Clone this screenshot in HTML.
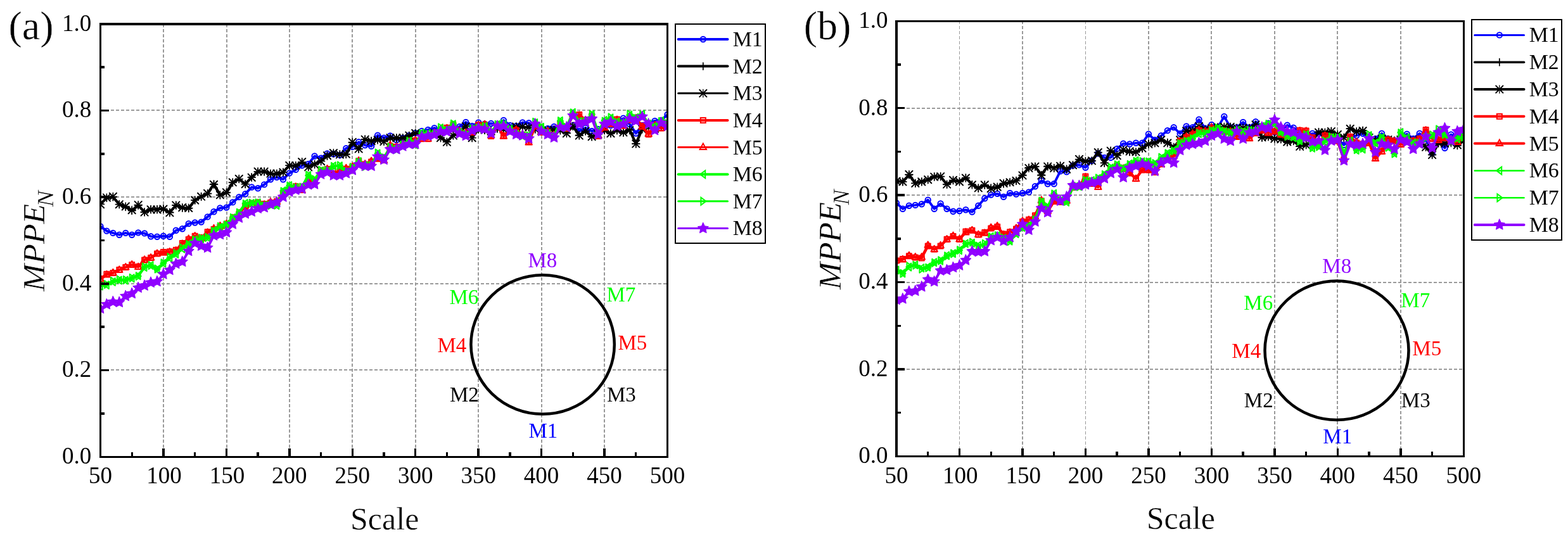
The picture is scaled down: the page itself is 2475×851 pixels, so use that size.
<!DOCTYPE html>
<html><head><meta charset="utf-8"><title>MPPE vs Scale</title>
<style>
html,body{margin:0;padding:0;background:#fff;}
body{width:2475px;height:851px;overflow:hidden;}
svg{display:block;font-family:"Liberation Serif",serif;fill:#000;}
text.t{stroke:#fff;stroke-width:0.4px;stroke-linejoin:round;}
</style></head><body>
<svg width="2475" height="851" viewBox="0 0 2475 851">
<rect width="2475" height="851" fill="#fff"/>
<g stroke="#9a9a9a" stroke-dasharray="5 3" fill="none" shape-rendering="crispEdges"><line x1="258" y1="37.8" x2="258" y2="721.2" stroke-width="2"/><line x1="358" y1="37.8" x2="358" y2="721.2" stroke-width="2"/><line x1="457" y1="37.8" x2="457" y2="721.2" stroke-width="2"/><line x1="556" y1="37.8" x2="556" y2="721.2" stroke-width="2"/><line x1="656" y1="37.8" x2="656" y2="721.2" stroke-width="2"/><line x1="755" y1="37.8" x2="755" y2="721.2" stroke-width="2"/><line x1="855" y1="37.8" x2="855" y2="721.2" stroke-width="2"/><line x1="954" y1="37.8" x2="954" y2="721.2" stroke-width="2"/><line x1="158.5" y1="584" x2="1053.5" y2="584" stroke-width="2"/><line x1="158.5" y1="448" x2="1053.5" y2="448" stroke-width="2"/><line x1="158.5" y1="311" x2="1053.5" y2="311" stroke-width="2"/><line x1="158.5" y1="174" x2="1053.5" y2="174" stroke-width="2"/></g>
<ellipse cx="856.6" cy="544" rx="113.2" ry="109.8" fill="none" stroke="#000" stroke-width="4.5"/>
<g font-size="33">
<text x="833.5" y="421.5" fill="#9000ff">M8</text>
<text x="709.5" y="479.5" fill="#00ff00">M6</text>
<text x="957.5" y="476" fill="#00ff00">M7</text>
<text x="690.5" y="556" fill="#ff0000">M4</text>
<text x="975.5" y="552" fill="#ff0000">M5</text>
<text x="710" y="634" fill="#000000">M2</text>
<text x="958" y="634" fill="#000000">M3</text>
<text x="834.5" y="691" fill="#0000ff">M1</text>
</g>
<clipPath id="clipa"><rect x="160" y="40" width="892" height="680"/></clipPath>
<g clip-path="url(#clipa)" stroke-linejoin="round" stroke-linecap="round">
<path d="M158.5 357.5L168.4 364.6L178.4 367.9L188.3 370.7L198.3 367.9L208.2 370.7L218.2 367.4L228.1 368.4L238.1 373.3L248.0 373.7L257.9 372.8L267.9 373.7L277.8 363.8L287.8 361.3L297.7 353.1L307.7 351.5L317.6 350.6L327.6 342.4L337.5 334.2L347.4 328.4L357.4 327.6L367.3 319.4L377.3 311.1L387.2 306.2L397.2 295.5L407.1 297.2L417.1 291.4L427.0 283.2L436.9 279.9L446.9 283.2L456.8 273.4L466.8 267.9L476.7 261.3L486.7 259.0L496.6 246.5L506.6 249.8L516.5 242.4L526.4 243.2L536.4 244.9L546.3 234.2L556.3 231.7L566.2 224.3L576.2 229.2L586.1 230.9L596.1 213.6L606.0 217.7L615.9 214.4L625.9 221.0L635.8 218.0L645.8 214.0L655.7 210.0L665.7 207.0L675.6 205.0L685.6 202.1L695.5 205.0L705.4 206.0L715.4 203.0L725.3 200.0L735.3 193.0L745.2 199.0L755.2 193.4L765.1 195.8L775.1 195.0L785.0 198.0L794.9 190.0L804.9 198.0L814.8 199.0L824.8 193.4L834.7 194.2L844.7 201.0L854.6 203.0L864.6 203.0L874.5 200.0L884.4 203.0L894.4 201.0L904.3 198.0L914.3 207.0L924.2 202.0L934.2 207.0L944.1 204.0L954.1 200.0L964.0 198.0L973.9 195.0L983.9 186.8L993.8 196.0L1003.8 210.6L1013.7 198.0L1023.7 195.0L1033.6 190.9L1043.6 190.0L1053.5 181.0" fill="none" stroke="#0000ff" stroke-width="4"/>
<circle cx="158.5" cy="357.5" r="4.2" fill="none" stroke="#0000ff" stroke-width="2"/><circle cx="168.4" cy="364.6" r="4.2" fill="none" stroke="#0000ff" stroke-width="2"/><circle cx="178.4" cy="367.9" r="4.2" fill="none" stroke="#0000ff" stroke-width="2"/><circle cx="188.3" cy="370.7" r="4.2" fill="none" stroke="#0000ff" stroke-width="2"/><circle cx="198.3" cy="367.9" r="4.2" fill="none" stroke="#0000ff" stroke-width="2"/><circle cx="208.2" cy="370.7" r="4.2" fill="none" stroke="#0000ff" stroke-width="2"/><circle cx="218.2" cy="367.4" r="4.2" fill="none" stroke="#0000ff" stroke-width="2"/><circle cx="228.1" cy="368.4" r="4.2" fill="none" stroke="#0000ff" stroke-width="2"/><circle cx="238.1" cy="373.3" r="4.2" fill="none" stroke="#0000ff" stroke-width="2"/><circle cx="248.0" cy="373.7" r="4.2" fill="none" stroke="#0000ff" stroke-width="2"/><circle cx="257.9" cy="372.8" r="4.2" fill="none" stroke="#0000ff" stroke-width="2"/><circle cx="267.9" cy="373.7" r="4.2" fill="none" stroke="#0000ff" stroke-width="2"/><circle cx="277.8" cy="363.8" r="4.2" fill="none" stroke="#0000ff" stroke-width="2"/><circle cx="287.8" cy="361.3" r="4.2" fill="none" stroke="#0000ff" stroke-width="2"/><circle cx="297.7" cy="353.1" r="4.2" fill="none" stroke="#0000ff" stroke-width="2"/><circle cx="307.7" cy="351.5" r="4.2" fill="none" stroke="#0000ff" stroke-width="2"/><circle cx="317.6" cy="350.6" r="4.2" fill="none" stroke="#0000ff" stroke-width="2"/><circle cx="327.6" cy="342.4" r="4.2" fill="none" stroke="#0000ff" stroke-width="2"/><circle cx="337.5" cy="334.2" r="4.2" fill="none" stroke="#0000ff" stroke-width="2"/><circle cx="347.4" cy="328.4" r="4.2" fill="none" stroke="#0000ff" stroke-width="2"/><circle cx="357.4" cy="327.6" r="4.2" fill="none" stroke="#0000ff" stroke-width="2"/><circle cx="367.3" cy="319.4" r="4.2" fill="none" stroke="#0000ff" stroke-width="2"/><circle cx="377.3" cy="311.1" r="4.2" fill="none" stroke="#0000ff" stroke-width="2"/><circle cx="387.2" cy="306.2" r="4.2" fill="none" stroke="#0000ff" stroke-width="2"/><circle cx="397.2" cy="295.5" r="4.2" fill="none" stroke="#0000ff" stroke-width="2"/><circle cx="407.1" cy="297.2" r="4.2" fill="none" stroke="#0000ff" stroke-width="2"/><circle cx="417.1" cy="291.4" r="4.2" fill="none" stroke="#0000ff" stroke-width="2"/><circle cx="427.0" cy="283.2" r="4.2" fill="none" stroke="#0000ff" stroke-width="2"/><circle cx="436.9" cy="279.9" r="4.2" fill="none" stroke="#0000ff" stroke-width="2"/><circle cx="446.9" cy="283.2" r="4.2" fill="none" stroke="#0000ff" stroke-width="2"/><circle cx="456.8" cy="273.4" r="4.2" fill="none" stroke="#0000ff" stroke-width="2"/><circle cx="466.8" cy="267.9" r="4.2" fill="none" stroke="#0000ff" stroke-width="2"/><circle cx="476.7" cy="261.3" r="4.2" fill="none" stroke="#0000ff" stroke-width="2"/><circle cx="486.7" cy="259" r="4.2" fill="none" stroke="#0000ff" stroke-width="2"/><circle cx="496.6" cy="246.5" r="4.2" fill="none" stroke="#0000ff" stroke-width="2"/><circle cx="506.6" cy="249.8" r="4.2" fill="none" stroke="#0000ff" stroke-width="2"/><circle cx="516.5" cy="242.4" r="4.2" fill="none" stroke="#0000ff" stroke-width="2"/><circle cx="526.4" cy="243.2" r="4.2" fill="none" stroke="#0000ff" stroke-width="2"/><circle cx="536.4" cy="244.9" r="4.2" fill="none" stroke="#0000ff" stroke-width="2"/><circle cx="546.3" cy="234.2" r="4.2" fill="none" stroke="#0000ff" stroke-width="2"/><circle cx="556.3" cy="231.7" r="4.2" fill="none" stroke="#0000ff" stroke-width="2"/><circle cx="566.2" cy="224.3" r="4.2" fill="none" stroke="#0000ff" stroke-width="2"/><circle cx="576.2" cy="229.2" r="4.2" fill="none" stroke="#0000ff" stroke-width="2"/><circle cx="586.1" cy="230.9" r="4.2" fill="none" stroke="#0000ff" stroke-width="2"/><circle cx="596.1" cy="213.6" r="4.2" fill="none" stroke="#0000ff" stroke-width="2"/><circle cx="606.0" cy="217.7" r="4.2" fill="none" stroke="#0000ff" stroke-width="2"/><circle cx="615.9" cy="214.4" r="4.2" fill="none" stroke="#0000ff" stroke-width="2"/><circle cx="625.9" cy="221" r="4.2" fill="none" stroke="#0000ff" stroke-width="2"/><circle cx="635.8" cy="218" r="4.2" fill="none" stroke="#0000ff" stroke-width="2"/><circle cx="645.8" cy="214" r="4.2" fill="none" stroke="#0000ff" stroke-width="2"/><circle cx="655.7" cy="210" r="4.2" fill="none" stroke="#0000ff" stroke-width="2"/><circle cx="665.7" cy="207" r="4.2" fill="none" stroke="#0000ff" stroke-width="2"/><circle cx="675.6" cy="205" r="4.2" fill="none" stroke="#0000ff" stroke-width="2"/><circle cx="685.6" cy="202.1" r="4.2" fill="none" stroke="#0000ff" stroke-width="2"/><circle cx="695.5" cy="205" r="4.2" fill="none" stroke="#0000ff" stroke-width="2"/><circle cx="705.4" cy="206" r="4.2" fill="none" stroke="#0000ff" stroke-width="2"/><circle cx="715.4" cy="203" r="4.2" fill="none" stroke="#0000ff" stroke-width="2"/><circle cx="725.3" cy="200" r="4.2" fill="none" stroke="#0000ff" stroke-width="2"/><circle cx="735.3" cy="193" r="4.2" fill="none" stroke="#0000ff" stroke-width="2"/><circle cx="745.2" cy="199" r="4.2" fill="none" stroke="#0000ff" stroke-width="2"/><circle cx="755.2" cy="193.4" r="4.2" fill="none" stroke="#0000ff" stroke-width="2"/><circle cx="765.1" cy="195.8" r="4.2" fill="none" stroke="#0000ff" stroke-width="2"/><circle cx="775.1" cy="195" r="4.2" fill="none" stroke="#0000ff" stroke-width="2"/><circle cx="785.0" cy="198" r="4.2" fill="none" stroke="#0000ff" stroke-width="2"/><circle cx="794.9" cy="190" r="4.2" fill="none" stroke="#0000ff" stroke-width="2"/><circle cx="804.9" cy="198" r="4.2" fill="none" stroke="#0000ff" stroke-width="2"/><circle cx="814.8" cy="199" r="4.2" fill="none" stroke="#0000ff" stroke-width="2"/><circle cx="824.8" cy="193.4" r="4.2" fill="none" stroke="#0000ff" stroke-width="2"/><circle cx="834.7" cy="194.2" r="4.2" fill="none" stroke="#0000ff" stroke-width="2"/><circle cx="844.7" cy="201" r="4.2" fill="none" stroke="#0000ff" stroke-width="2"/><circle cx="854.6" cy="203" r="4.2" fill="none" stroke="#0000ff" stroke-width="2"/><circle cx="864.6" cy="203" r="4.2" fill="none" stroke="#0000ff" stroke-width="2"/><circle cx="874.5" cy="200" r="4.2" fill="none" stroke="#0000ff" stroke-width="2"/><circle cx="884.4" cy="203" r="4.2" fill="none" stroke="#0000ff" stroke-width="2"/><circle cx="894.4" cy="201" r="4.2" fill="none" stroke="#0000ff" stroke-width="2"/><circle cx="904.3" cy="198" r="4.2" fill="none" stroke="#0000ff" stroke-width="2"/><circle cx="914.3" cy="207" r="4.2" fill="none" stroke="#0000ff" stroke-width="2"/><circle cx="924.2" cy="202" r="4.2" fill="none" stroke="#0000ff" stroke-width="2"/><circle cx="934.2" cy="207" r="4.2" fill="none" stroke="#0000ff" stroke-width="2"/><circle cx="944.1" cy="204" r="4.2" fill="none" stroke="#0000ff" stroke-width="2"/><circle cx="954.1" cy="200" r="4.2" fill="none" stroke="#0000ff" stroke-width="2"/><circle cx="964.0" cy="198" r="4.2" fill="none" stroke="#0000ff" stroke-width="2"/><circle cx="973.9" cy="195" r="4.2" fill="none" stroke="#0000ff" stroke-width="2"/><circle cx="983.9" cy="186.8" r="4.2" fill="none" stroke="#0000ff" stroke-width="2"/><circle cx="993.8" cy="196" r="4.2" fill="none" stroke="#0000ff" stroke-width="2"/><circle cx="1003.8" cy="210.6" r="4.2" fill="none" stroke="#0000ff" stroke-width="2"/><circle cx="1013.7" cy="198" r="4.2" fill="none" stroke="#0000ff" stroke-width="2"/><circle cx="1023.7" cy="195" r="4.2" fill="none" stroke="#0000ff" stroke-width="2"/><circle cx="1033.6" cy="190.9" r="4.2" fill="none" stroke="#0000ff" stroke-width="2"/><circle cx="1043.6" cy="190" r="4.2" fill="none" stroke="#0000ff" stroke-width="2"/><circle cx="1053.5" cy="181" r="4.2" fill="none" stroke="#0000ff" stroke-width="2"/>
<path d="M158.5 322.2L168.4 312.4L178.4 311.2L188.3 322.6L198.3 326.8L208.2 332.7L218.2 324.4L228.1 334.7L238.1 330.3L248.0 330.4L257.9 329.5L267.9 335.2L277.8 324.2L287.8 328.4L297.7 329.1L307.7 316.1L317.6 310.6L327.6 306.0L337.5 290.6L347.4 308.1L357.4 304.5L367.3 288.4L377.3 282.8L387.2 290.6L397.2 279.6L407.1 271.4L417.1 270.7L427.0 274.6L436.9 274.9L446.9 271.8L456.8 261.1L466.8 262.2L476.7 256.0L486.7 263.1L496.6 259.0L506.6 254.0L516.5 246.5L526.4 242.2L536.4 243.3L546.3 243.9L556.3 225.3L566.2 235.3L576.2 219.9L586.1 222.8L596.1 220.3L606.0 222.5L615.9 218.6L625.9 218.0L635.8 217.8L645.8 214.9L655.7 210.2L665.7 213.7L675.6 212.7L685.6 209.4L695.5 217.2L705.4 223.9L715.4 213.5L725.3 208.2L735.3 199.1L745.2 217.5L755.2 203.3L765.1 205.8L775.1 206.7L785.0 202.9L794.9 204.2L804.9 203.8L814.8 199.8L824.8 200.8L834.7 201.0L844.7 204.1L854.6 206.0L864.6 205.0L874.5 204.9L884.4 205.4L894.4 209.6L904.3 199.6L914.3 213.3L924.2 206.9L934.2 216.1L944.1 212.1L954.1 205.4L964.0 210.6L973.9 205.8L983.9 209.6L993.8 204.9L1003.8 227.1L1013.7 203.5L1023.7 200.6L1033.6 203.5L1043.6 200.0L1053.5 196.1" fill="none" stroke="#000000" stroke-width="4.2"/>
<path d="M153.0 322.2H164.0M158.5 316.7V327.7" stroke="#000000" stroke-width="1.7" fill="none"/><path d="M162.9 312.4H173.9M168.4 306.9V317.9" stroke="#000000" stroke-width="1.7" fill="none"/><path d="M172.9 311.2H183.9M178.4 305.7V316.7" stroke="#000000" stroke-width="1.7" fill="none"/><path d="M182.8 322.6H193.8M188.3 317.1V328.1" stroke="#000000" stroke-width="1.7" fill="none"/><path d="M192.8 326.8H203.8M198.3 321.3V332.3" stroke="#000000" stroke-width="1.7" fill="none"/><path d="M202.7 332.7H213.7M208.2 327.2V338.2" stroke="#000000" stroke-width="1.7" fill="none"/><path d="M212.7 324.4H223.7M218.2 318.9V329.9" stroke="#000000" stroke-width="1.7" fill="none"/><path d="M222.6 334.7H233.6M228.1 329.2V340.2" stroke="#000000" stroke-width="1.7" fill="none"/><path d="M232.6 330.3H243.6M238.1 324.8V335.8" stroke="#000000" stroke-width="1.7" fill="none"/><path d="M242.5 330.4H253.5M248.0 324.9V335.9" stroke="#000000" stroke-width="1.7" fill="none"/><path d="M252.4 329.5H263.4M257.9 324.0V335.0" stroke="#000000" stroke-width="1.7" fill="none"/><path d="M262.4 335.2H273.4M267.9 329.7V340.7" stroke="#000000" stroke-width="1.7" fill="none"/><path d="M272.3 324.2H283.3M277.8 318.7V329.7" stroke="#000000" stroke-width="1.7" fill="none"/><path d="M282.3 328.4H293.3M287.8 322.9V333.9" stroke="#000000" stroke-width="1.7" fill="none"/><path d="M292.2 329.1H303.2M297.7 323.6V334.6" stroke="#000000" stroke-width="1.7" fill="none"/><path d="M302.2 316.1H313.2M307.7 310.6V321.6" stroke="#000000" stroke-width="1.7" fill="none"/><path d="M312.1 310.6H323.1M317.6 305.1V316.1" stroke="#000000" stroke-width="1.7" fill="none"/><path d="M322.1 306.0H333.1M327.6 300.5V311.5" stroke="#000000" stroke-width="1.7" fill="none"/><path d="M332.0 290.6H343.0M337.5 285.1V296.1" stroke="#000000" stroke-width="1.7" fill="none"/><path d="M341.9 308.1H352.9M347.4 302.6V313.6" stroke="#000000" stroke-width="1.7" fill="none"/><path d="M351.9 304.5H362.9M357.4 299.0V310.0" stroke="#000000" stroke-width="1.7" fill="none"/><path d="M361.8 288.4H372.8M367.3 282.9V293.9" stroke="#000000" stroke-width="1.7" fill="none"/><path d="M371.8 282.8H382.8M377.3 277.3V288.3" stroke="#000000" stroke-width="1.7" fill="none"/><path d="M381.7 290.6H392.7M387.2 285.1V296.1" stroke="#000000" stroke-width="1.7" fill="none"/><path d="M391.7 279.6H402.7M397.2 274.1V285.1" stroke="#000000" stroke-width="1.7" fill="none"/><path d="M401.6 271.4H412.6M407.1 265.9V276.9" stroke="#000000" stroke-width="1.7" fill="none"/><path d="M411.6 270.7H422.6M417.1 265.2V276.2" stroke="#000000" stroke-width="1.7" fill="none"/><path d="M421.5 274.6H432.5M427.0 269.1V280.1" stroke="#000000" stroke-width="1.7" fill="none"/><path d="M431.4 274.9H442.4M436.9 269.4V280.4" stroke="#000000" stroke-width="1.7" fill="none"/><path d="M441.4 271.8H452.4M446.9 266.3V277.3" stroke="#000000" stroke-width="1.7" fill="none"/><path d="M451.3 261.1H462.3M456.8 255.6V266.6" stroke="#000000" stroke-width="1.7" fill="none"/><path d="M461.3 262.2H472.3M466.8 256.7V267.7" stroke="#000000" stroke-width="1.7" fill="none"/><path d="M471.2 256.0H482.2M476.7 250.5V261.5" stroke="#000000" stroke-width="1.7" fill="none"/><path d="M481.2 263.1H492.2M486.7 257.6V268.6" stroke="#000000" stroke-width="1.7" fill="none"/><path d="M491.1 259.0H502.1M496.6 253.5V264.5" stroke="#000000" stroke-width="1.7" fill="none"/><path d="M501.1 254.0H512.1M506.6 248.5V259.5" stroke="#000000" stroke-width="1.7" fill="none"/><path d="M511.0 246.5H522.0M516.5 241.0V252.0" stroke="#000000" stroke-width="1.7" fill="none"/><path d="M520.9 242.2H531.9M526.4 236.7V247.7" stroke="#000000" stroke-width="1.7" fill="none"/><path d="M530.9 243.3H541.9M536.4 237.8V248.8" stroke="#000000" stroke-width="1.7" fill="none"/><path d="M540.8 243.9H551.8M546.3 238.4V249.4" stroke="#000000" stroke-width="1.7" fill="none"/><path d="M550.8 225.3H561.8M556.3 219.8V230.8" stroke="#000000" stroke-width="1.7" fill="none"/><path d="M560.7 235.3H571.7M566.2 229.8V240.8" stroke="#000000" stroke-width="1.7" fill="none"/><path d="M570.7 219.9H581.7M576.2 214.4V225.4" stroke="#000000" stroke-width="1.7" fill="none"/><path d="M580.6 222.8H591.6M586.1 217.3V228.3" stroke="#000000" stroke-width="1.7" fill="none"/><path d="M590.6 220.3H601.6M596.1 214.8V225.8" stroke="#000000" stroke-width="1.7" fill="none"/><path d="M600.5 222.5H611.5M606.0 217.0V228.0" stroke="#000000" stroke-width="1.7" fill="none"/><path d="M610.4 218.6H621.4M615.9 213.1V224.1" stroke="#000000" stroke-width="1.7" fill="none"/><path d="M620.4 218.0H631.4M625.9 212.5V223.5" stroke="#000000" stroke-width="1.7" fill="none"/><path d="M630.3 217.8H641.3M635.8 212.3V223.3" stroke="#000000" stroke-width="1.7" fill="none"/><path d="M640.3 214.9H651.3M645.8 209.4V220.4" stroke="#000000" stroke-width="1.7" fill="none"/><path d="M650.2 210.2H661.2M655.7 204.7V215.7" stroke="#000000" stroke-width="1.7" fill="none"/><path d="M660.2 213.7H671.2M665.7 208.2V219.2" stroke="#000000" stroke-width="1.7" fill="none"/><path d="M670.1 212.7H681.1M675.6 207.2V218.2" stroke="#000000" stroke-width="1.7" fill="none"/><path d="M680.1 209.4H691.1M685.6 203.9V214.9" stroke="#000000" stroke-width="1.7" fill="none"/><path d="M690.0 217.2H701.0M695.5 211.7V222.7" stroke="#000000" stroke-width="1.7" fill="none"/><path d="M699.9 223.9H710.9M705.4 218.4V229.4" stroke="#000000" stroke-width="1.7" fill="none"/><path d="M709.9 213.5H720.9M715.4 208.0V219.0" stroke="#000000" stroke-width="1.7" fill="none"/><path d="M719.8 208.2H730.8M725.3 202.7V213.7" stroke="#000000" stroke-width="1.7" fill="none"/><path d="M729.8 199.1H740.8M735.3 193.6V204.6" stroke="#000000" stroke-width="1.7" fill="none"/><path d="M739.7 217.5H750.7M745.2 212.0V223.0" stroke="#000000" stroke-width="1.7" fill="none"/><path d="M749.7 203.3H760.7M755.2 197.8V208.8" stroke="#000000" stroke-width="1.7" fill="none"/><path d="M759.6 205.8H770.6M765.1 200.3V211.3" stroke="#000000" stroke-width="1.7" fill="none"/><path d="M769.6 206.7H780.6M775.1 201.2V212.2" stroke="#000000" stroke-width="1.7" fill="none"/><path d="M779.5 202.9H790.5M785.0 197.4V208.4" stroke="#000000" stroke-width="1.7" fill="none"/><path d="M789.4 204.2H800.4M794.9 198.7V209.7" stroke="#000000" stroke-width="1.7" fill="none"/><path d="M799.4 203.8H810.4M804.9 198.3V209.3" stroke="#000000" stroke-width="1.7" fill="none"/><path d="M809.3 199.8H820.3M814.8 194.3V205.3" stroke="#000000" stroke-width="1.7" fill="none"/><path d="M819.3 200.8H830.3M824.8 195.3V206.3" stroke="#000000" stroke-width="1.7" fill="none"/><path d="M829.2 201.0H840.2M834.7 195.5V206.5" stroke="#000000" stroke-width="1.7" fill="none"/><path d="M839.2 204.1H850.2M844.7 198.6V209.6" stroke="#000000" stroke-width="1.7" fill="none"/><path d="M849.1 206.0H860.1M854.6 200.5V211.5" stroke="#000000" stroke-width="1.7" fill="none"/><path d="M859.1 205.0H870.1M864.6 199.5V210.5" stroke="#000000" stroke-width="1.7" fill="none"/><path d="M869.0 204.9H880.0M874.5 199.4V210.4" stroke="#000000" stroke-width="1.7" fill="none"/><path d="M878.9 205.4H889.9M884.4 199.9V210.9" stroke="#000000" stroke-width="1.7" fill="none"/><path d="M888.9 209.6H899.9M894.4 204.1V215.1" stroke="#000000" stroke-width="1.7" fill="none"/><path d="M898.8 199.6H909.8M904.3 194.1V205.1" stroke="#000000" stroke-width="1.7" fill="none"/><path d="M908.8 213.3H919.8M914.3 207.8V218.8" stroke="#000000" stroke-width="1.7" fill="none"/><path d="M918.7 206.9H929.7M924.2 201.4V212.4" stroke="#000000" stroke-width="1.7" fill="none"/><path d="M928.7 216.1H939.7M934.2 210.6V221.6" stroke="#000000" stroke-width="1.7" fill="none"/><path d="M938.6 212.1H949.6M944.1 206.6V217.6" stroke="#000000" stroke-width="1.7" fill="none"/><path d="M948.6 205.4H959.6M954.1 199.9V210.9" stroke="#000000" stroke-width="1.7" fill="none"/><path d="M958.5 210.6H969.5M964.0 205.1V216.1" stroke="#000000" stroke-width="1.7" fill="none"/><path d="M968.4 205.8H979.4M973.9 200.3V211.3" stroke="#000000" stroke-width="1.7" fill="none"/><path d="M978.4 209.6H989.4M983.9 204.1V215.1" stroke="#000000" stroke-width="1.7" fill="none"/><path d="M988.3 204.9H999.3M993.8 199.4V210.4" stroke="#000000" stroke-width="1.7" fill="none"/><path d="M998.3 227.1H1009.3M1003.8 221.6V232.6" stroke="#000000" stroke-width="1.7" fill="none"/><path d="M1008.2 203.5H1019.2M1013.7 198.0V209.0" stroke="#000000" stroke-width="1.7" fill="none"/><path d="M1018.2 200.6H1029.2M1023.7 195.1V206.1" stroke="#000000" stroke-width="1.7" fill="none"/><path d="M1028.1 203.5H1039.1M1033.6 198.0V209.0" stroke="#000000" stroke-width="1.7" fill="none"/><path d="M1038.1 200.0H1049.1M1043.6 194.5V205.5" stroke="#000000" stroke-width="1.7" fill="none"/><path d="M1048.0 196.1H1059.0M1053.5 190.6V201.6" stroke="#000000" stroke-width="1.7" fill="none"/>
<path d="M158.5 322.7L168.4 312.0L178.4 310.3L188.3 322.7L198.3 325.9L208.2 331.7L218.2 323.5L228.1 335.0L238.1 330.9L248.0 330.9L257.9 330.1L267.9 335.8L277.8 324.0L287.8 327.6L297.7 328.4L307.7 316.1L317.6 310.3L327.6 305.4L337.5 291.4L347.4 307.8L357.4 303.7L367.3 287.8L377.3 282.3L387.2 290.6L397.2 280.2L407.1 270.8L417.1 271.0L427.0 274.0L436.9 274.0L446.9 272.0L456.8 261.3L466.8 261.3L476.7 255.6L486.7 263.8L496.6 259.7L506.6 254.7L516.5 245.7L526.4 241.6L536.4 244.0L546.3 243.2L556.3 224.3L566.2 235.0L576.2 220.2L586.1 222.7L596.1 221.0L606.0 223.5L615.9 217.7L625.9 217.7L635.8 217.7L645.8 214.0L655.7 210.3L665.7 213.0L675.6 212.0L685.6 210.0L695.5 217.7L705.4 224.3L715.4 214.0L725.3 208.0L735.3 199.6L745.2 217.7L755.2 204.0L765.1 205.0L775.1 207.0L785.0 203.0L794.9 204.0L804.9 203.0L814.8 200.0L824.8 200.0L834.7 201.0L844.7 204.0L854.6 206.0L864.6 206.0L874.5 205.0L884.4 206.0L894.4 210.6L904.3 199.0L914.3 214.0L924.2 207.0L934.2 215.6L944.1 212.0L954.1 205.7L964.0 210.6L973.9 205.7L983.9 209.0L993.8 205.7L1003.8 227.0L1013.7 204.0L1023.7 201.0L1033.6 203.0L1043.6 200.0L1053.5 196.0" fill="none" stroke="#000000" stroke-width="3"/>
<path d="M152.3 322.7H164.7M158.5 316.5V328.9" stroke="#000000" stroke-width="1.3" fill="none"/><path d="M152.9 317.1L164.1 328.3M152.9 328.3L164.1 317.1" stroke="#000000" stroke-width="2" fill="none"/><path d="M162.2 312H174.6M168.4 305.8V318.2" stroke="#000000" stroke-width="1.3" fill="none"/><path d="M162.8 306.4L174.0 317.6M162.8 317.6L174.0 306.4" stroke="#000000" stroke-width="2" fill="none"/><path d="M172.2 310.3H184.6M178.4 304.1V316.5" stroke="#000000" stroke-width="1.3" fill="none"/><path d="M172.8 304.7L184.0 315.9M172.8 315.9L184.0 304.7" stroke="#000000" stroke-width="2" fill="none"/><path d="M182.1 322.7H194.5M188.3 316.5V328.9" stroke="#000000" stroke-width="1.3" fill="none"/><path d="M182.7 317.1L193.9 328.3M182.7 328.3L193.9 317.1" stroke="#000000" stroke-width="2" fill="none"/><path d="M192.1 325.9H204.5M198.3 319.7V332.1" stroke="#000000" stroke-width="1.3" fill="none"/><path d="M192.7 320.3L203.9 331.5M192.7 331.5L203.9 320.3" stroke="#000000" stroke-width="2" fill="none"/><path d="M202.0 331.7H214.4M208.2 325.5V337.9" stroke="#000000" stroke-width="1.3" fill="none"/><path d="M202.6 326.1L213.8 337.3M202.6 337.3L213.8 326.1" stroke="#000000" stroke-width="2" fill="none"/><path d="M212.0 323.5H224.4M218.2 317.3V329.7" stroke="#000000" stroke-width="1.3" fill="none"/><path d="M212.6 317.9L223.8 329.1M212.6 329.1L223.8 317.9" stroke="#000000" stroke-width="2" fill="none"/><path d="M221.9 335H234.3M228.1 328.8V341.2" stroke="#000000" stroke-width="1.3" fill="none"/><path d="M222.5 329.4L233.7 340.6M222.5 340.6L233.7 329.4" stroke="#000000" stroke-width="2" fill="none"/><path d="M231.9 330.9H244.3M238.1 324.7V337.1" stroke="#000000" stroke-width="1.3" fill="none"/><path d="M232.5 325.3L243.7 336.5M232.5 336.5L243.7 325.3" stroke="#000000" stroke-width="2" fill="none"/><path d="M241.8 330.9H254.2M248.0 324.7V337.1" stroke="#000000" stroke-width="1.3" fill="none"/><path d="M242.4 325.3L253.6 336.5M242.4 336.5L253.6 325.3" stroke="#000000" stroke-width="2" fill="none"/><path d="M251.7 330.1H264.1M257.9 323.9V336.3" stroke="#000000" stroke-width="1.3" fill="none"/><path d="M252.3 324.5L263.5 335.7M252.3 335.7L263.5 324.5" stroke="#000000" stroke-width="2" fill="none"/><path d="M261.7 335.8H274.1M267.9 329.6V342.0" stroke="#000000" stroke-width="1.3" fill="none"/><path d="M262.3 330.2L273.5 341.4M262.3 341.4L273.5 330.2" stroke="#000000" stroke-width="2" fill="none"/><path d="M271.6 324H284.0M277.8 317.8V330.2" stroke="#000000" stroke-width="1.3" fill="none"/><path d="M272.2 318.4L283.4 329.6M272.2 329.6L283.4 318.4" stroke="#000000" stroke-width="2" fill="none"/><path d="M281.6 327.6H294.0M287.8 321.4V333.8" stroke="#000000" stroke-width="1.3" fill="none"/><path d="M282.2 322.0L293.4 333.2M282.2 333.2L293.4 322.0" stroke="#000000" stroke-width="2" fill="none"/><path d="M291.5 328.4H303.9M297.7 322.2V334.6" stroke="#000000" stroke-width="1.3" fill="none"/><path d="M292.1 322.8L303.3 334.0M292.1 334.0L303.3 322.8" stroke="#000000" stroke-width="2" fill="none"/><path d="M301.5 316.1H313.9M307.7 309.9V322.3" stroke="#000000" stroke-width="1.3" fill="none"/><path d="M302.1 310.5L313.3 321.7M302.1 321.7L313.3 310.5" stroke="#000000" stroke-width="2" fill="none"/><path d="M311.4 310.3H323.8M317.6 304.1V316.5" stroke="#000000" stroke-width="1.3" fill="none"/><path d="M312.0 304.7L323.2 315.9M312.0 315.9L323.2 304.7" stroke="#000000" stroke-width="2" fill="none"/><path d="M321.4 305.4H333.8M327.6 299.2V311.6" stroke="#000000" stroke-width="1.3" fill="none"/><path d="M322.0 299.8L333.2 311.0M322.0 311.0L333.2 299.8" stroke="#000000" stroke-width="2" fill="none"/><path d="M331.3 291.4H343.7M337.5 285.2V297.6" stroke="#000000" stroke-width="1.3" fill="none"/><path d="M331.9 285.8L343.1 297.0M331.9 297.0L343.1 285.8" stroke="#000000" stroke-width="2" fill="none"/><path d="M341.2 307.8H353.6M347.4 301.6V314.0" stroke="#000000" stroke-width="1.3" fill="none"/><path d="M341.8 302.2L353.0 313.4M341.8 313.4L353.0 302.2" stroke="#000000" stroke-width="2" fill="none"/><path d="M351.2 303.7H363.6M357.4 297.5V309.9" stroke="#000000" stroke-width="1.3" fill="none"/><path d="M351.8 298.1L363.0 309.3M351.8 309.3L363.0 298.1" stroke="#000000" stroke-width="2" fill="none"/><path d="M361.1 287.8H373.5M367.3 281.6V294.0" stroke="#000000" stroke-width="1.3" fill="none"/><path d="M361.7 282.2L372.9 293.4M361.7 293.4L372.9 282.2" stroke="#000000" stroke-width="2" fill="none"/><path d="M371.1 282.3H383.5M377.3 276.1V288.5" stroke="#000000" stroke-width="1.3" fill="none"/><path d="M371.7 276.7L382.9 287.9M371.7 287.9L382.9 276.7" stroke="#000000" stroke-width="2" fill="none"/><path d="M381.0 290.6H393.4M387.2 284.4V296.8" stroke="#000000" stroke-width="1.3" fill="none"/><path d="M381.6 285.0L392.8 296.2M381.6 296.2L392.8 285.0" stroke="#000000" stroke-width="2" fill="none"/><path d="M391.0 280.2H403.4M397.2 274.0V286.4" stroke="#000000" stroke-width="1.3" fill="none"/><path d="M391.6 274.6L402.8 285.8M391.6 285.8L402.8 274.6" stroke="#000000" stroke-width="2" fill="none"/><path d="M400.9 270.8H413.3M407.1 264.6V277.0" stroke="#000000" stroke-width="1.3" fill="none"/><path d="M401.5 265.2L412.7 276.4M401.5 276.4L412.7 265.2" stroke="#000000" stroke-width="2" fill="none"/><path d="M410.9 271H423.3M417.1 264.8V277.2" stroke="#000000" stroke-width="1.3" fill="none"/><path d="M411.5 265.4L422.7 276.6M411.5 276.6L422.7 265.4" stroke="#000000" stroke-width="2" fill="none"/><path d="M420.8 274H433.2M427.0 267.8V280.2" stroke="#000000" stroke-width="1.3" fill="none"/><path d="M421.4 268.4L432.6 279.6M421.4 279.6L432.6 268.4" stroke="#000000" stroke-width="2" fill="none"/><path d="M430.7 274H443.1M436.9 267.8V280.2" stroke="#000000" stroke-width="1.3" fill="none"/><path d="M431.3 268.4L442.5 279.6M431.3 279.6L442.5 268.4" stroke="#000000" stroke-width="2" fill="none"/><path d="M440.7 272H453.1M446.9 265.8V278.2" stroke="#000000" stroke-width="1.3" fill="none"/><path d="M441.3 266.4L452.5 277.6M441.3 277.6L452.5 266.4" stroke="#000000" stroke-width="2" fill="none"/><path d="M450.6 261.3H463.0M456.8 255.1V267.5" stroke="#000000" stroke-width="1.3" fill="none"/><path d="M451.2 255.7L462.4 266.9M451.2 266.9L462.4 255.7" stroke="#000000" stroke-width="2" fill="none"/><path d="M460.6 261.3H473.0M466.8 255.1V267.5" stroke="#000000" stroke-width="1.3" fill="none"/><path d="M461.2 255.7L472.4 266.9M461.2 266.9L472.4 255.7" stroke="#000000" stroke-width="2" fill="none"/><path d="M470.5 255.6H482.9M476.7 249.4V261.8" stroke="#000000" stroke-width="1.3" fill="none"/><path d="M471.1 250.0L482.3 261.2M471.1 261.2L482.3 250.0" stroke="#000000" stroke-width="2" fill="none"/><path d="M480.5 263.8H492.9M486.7 257.6V270.0" stroke="#000000" stroke-width="1.3" fill="none"/><path d="M481.1 258.2L492.3 269.4M481.1 269.4L492.3 258.2" stroke="#000000" stroke-width="2" fill="none"/><path d="M490.4 259.7H502.8M496.6 253.5V265.9" stroke="#000000" stroke-width="1.3" fill="none"/><path d="M491.0 254.1L502.2 265.3M491.0 265.3L502.2 254.1" stroke="#000000" stroke-width="2" fill="none"/><path d="M500.4 254.7H512.8M506.6 248.5V260.9" stroke="#000000" stroke-width="1.3" fill="none"/><path d="M501.0 249.1L512.2 260.3M501.0 260.3L512.2 249.1" stroke="#000000" stroke-width="2" fill="none"/><path d="M510.3 245.7H522.7M516.5 239.5V251.9" stroke="#000000" stroke-width="1.3" fill="none"/><path d="M510.9 240.1L522.1 251.3M510.9 251.3L522.1 240.1" stroke="#000000" stroke-width="2" fill="none"/><path d="M520.2 241.6H532.6M526.4 235.4V247.8" stroke="#000000" stroke-width="1.3" fill="none"/><path d="M520.8 236.0L532.0 247.2M520.8 247.2L532.0 236.0" stroke="#000000" stroke-width="2" fill="none"/><path d="M530.2 244H542.6M536.4 237.8V250.2" stroke="#000000" stroke-width="1.3" fill="none"/><path d="M530.8 238.4L542.0 249.6M530.8 249.6L542.0 238.4" stroke="#000000" stroke-width="2" fill="none"/><path d="M540.1 243.2H552.5M546.3 237.0V249.4" stroke="#000000" stroke-width="1.3" fill="none"/><path d="M540.7 237.6L551.9 248.8M540.7 248.8L551.9 237.6" stroke="#000000" stroke-width="2" fill="none"/><path d="M550.1 224.3H562.5M556.3 218.1V230.5" stroke="#000000" stroke-width="1.3" fill="none"/><path d="M550.7 218.7L561.9 229.9M550.7 229.9L561.9 218.7" stroke="#000000" stroke-width="2" fill="none"/><path d="M560.0 235H572.4M566.2 228.8V241.2" stroke="#000000" stroke-width="1.3" fill="none"/><path d="M560.6 229.4L571.8 240.6M560.6 240.6L571.8 229.4" stroke="#000000" stroke-width="2" fill="none"/><path d="M570.0 220.2H582.4M576.2 214.0V226.4" stroke="#000000" stroke-width="1.3" fill="none"/><path d="M570.6 214.6L581.8 225.8M570.6 225.8L581.8 214.6" stroke="#000000" stroke-width="2" fill="none"/><path d="M579.9 222.7H592.3M586.1 216.5V228.9" stroke="#000000" stroke-width="1.3" fill="none"/><path d="M580.5 217.1L591.7 228.3M580.5 228.3L591.7 217.1" stroke="#000000" stroke-width="2" fill="none"/><path d="M589.9 221H602.3M596.1 214.8V227.2" stroke="#000000" stroke-width="1.3" fill="none"/><path d="M590.5 215.4L601.7 226.6M590.5 226.6L601.7 215.4" stroke="#000000" stroke-width="2" fill="none"/><path d="M599.8 223.5H612.2M606.0 217.3V229.7" stroke="#000000" stroke-width="1.3" fill="none"/><path d="M600.4 217.9L611.6 229.1M600.4 229.1L611.6 217.9" stroke="#000000" stroke-width="2" fill="none"/><path d="M609.7 217.7H622.1M615.9 211.5V223.9" stroke="#000000" stroke-width="1.3" fill="none"/><path d="M610.3 212.1L621.5 223.3M610.3 223.3L621.5 212.1" stroke="#000000" stroke-width="2" fill="none"/><path d="M619.7 217.7H632.1M625.9 211.5V223.9" stroke="#000000" stroke-width="1.3" fill="none"/><path d="M620.3 212.1L631.5 223.3M620.3 223.3L631.5 212.1" stroke="#000000" stroke-width="2" fill="none"/><path d="M629.6 217.7H642.0M635.8 211.5V223.9" stroke="#000000" stroke-width="1.3" fill="none"/><path d="M630.2 212.1L641.4 223.3M630.2 223.3L641.4 212.1" stroke="#000000" stroke-width="2" fill="none"/><path d="M639.6 214H652.0M645.8 207.8V220.2" stroke="#000000" stroke-width="1.3" fill="none"/><path d="M640.2 208.4L651.4 219.6M640.2 219.6L651.4 208.4" stroke="#000000" stroke-width="2" fill="none"/><path d="M649.5 210.3H661.9M655.7 204.1V216.5" stroke="#000000" stroke-width="1.3" fill="none"/><path d="M650.1 204.7L661.3 215.9M650.1 215.9L661.3 204.7" stroke="#000000" stroke-width="2" fill="none"/><path d="M659.5 213H671.9M665.7 206.8V219.2" stroke="#000000" stroke-width="1.3" fill="none"/><path d="M660.1 207.4L671.3 218.6M660.1 218.6L671.3 207.4" stroke="#000000" stroke-width="2" fill="none"/><path d="M669.4 212H681.8M675.6 205.8V218.2" stroke="#000000" stroke-width="1.3" fill="none"/><path d="M670.0 206.4L681.2 217.6M670.0 217.6L681.2 206.4" stroke="#000000" stroke-width="2" fill="none"/><path d="M679.4 210H691.8M685.6 203.8V216.2" stroke="#000000" stroke-width="1.3" fill="none"/><path d="M680.0 204.4L691.2 215.6M680.0 215.6L691.2 204.4" stroke="#000000" stroke-width="2" fill="none"/><path d="M689.3 217.7H701.7M695.5 211.5V223.9" stroke="#000000" stroke-width="1.3" fill="none"/><path d="M689.9 212.1L701.1 223.3M689.9 223.3L701.1 212.1" stroke="#000000" stroke-width="2" fill="none"/><path d="M699.2 224.3H711.6M705.4 218.1V230.5" stroke="#000000" stroke-width="1.3" fill="none"/><path d="M699.8 218.7L711.0 229.9M699.8 229.9L711.0 218.7" stroke="#000000" stroke-width="2" fill="none"/><path d="M709.2 214H721.6M715.4 207.8V220.2" stroke="#000000" stroke-width="1.3" fill="none"/><path d="M709.8 208.4L721.0 219.6M709.8 219.6L721.0 208.4" stroke="#000000" stroke-width="2" fill="none"/><path d="M719.1 208H731.5M725.3 201.8V214.2" stroke="#000000" stroke-width="1.3" fill="none"/><path d="M719.7 202.4L730.9 213.6M719.7 213.6L730.9 202.4" stroke="#000000" stroke-width="2" fill="none"/><path d="M729.1 199.6H741.5M735.3 193.4V205.8" stroke="#000000" stroke-width="1.3" fill="none"/><path d="M729.7 194.0L740.9 205.2M729.7 205.2L740.9 194.0" stroke="#000000" stroke-width="2" fill="none"/><path d="M739.0 217.7H751.4M745.2 211.5V223.9" stroke="#000000" stroke-width="1.3" fill="none"/><path d="M739.6 212.1L750.8 223.3M739.6 223.3L750.8 212.1" stroke="#000000" stroke-width="2" fill="none"/><path d="M749.0 204H761.4M755.2 197.8V210.2" stroke="#000000" stroke-width="1.3" fill="none"/><path d="M749.6 198.4L760.8 209.6M749.6 209.6L760.8 198.4" stroke="#000000" stroke-width="2" fill="none"/><path d="M758.9 205H771.3M765.1 198.8V211.2" stroke="#000000" stroke-width="1.3" fill="none"/><path d="M759.5 199.4L770.7 210.6M759.5 210.6L770.7 199.4" stroke="#000000" stroke-width="2" fill="none"/><path d="M768.9 207H781.3M775.1 200.8V213.2" stroke="#000000" stroke-width="1.3" fill="none"/><path d="M769.5 201.4L780.7 212.6M769.5 212.6L780.7 201.4" stroke="#000000" stroke-width="2" fill="none"/><path d="M778.8 203H791.2M785.0 196.8V209.2" stroke="#000000" stroke-width="1.3" fill="none"/><path d="M779.4 197.4L790.6 208.6M779.4 208.6L790.6 197.4" stroke="#000000" stroke-width="2" fill="none"/><path d="M788.7 204H801.1M794.9 197.8V210.2" stroke="#000000" stroke-width="1.3" fill="none"/><path d="M789.3 198.4L800.5 209.6M789.3 209.6L800.5 198.4" stroke="#000000" stroke-width="2" fill="none"/><path d="M798.7 203H811.1M804.9 196.8V209.2" stroke="#000000" stroke-width="1.3" fill="none"/><path d="M799.3 197.4L810.5 208.6M799.3 208.6L810.5 197.4" stroke="#000000" stroke-width="2" fill="none"/><path d="M808.6 200H821.0M814.8 193.8V206.2" stroke="#000000" stroke-width="1.3" fill="none"/><path d="M809.2 194.4L820.4 205.6M809.2 205.6L820.4 194.4" stroke="#000000" stroke-width="2" fill="none"/><path d="M818.6 200H831.0M824.8 193.8V206.2" stroke="#000000" stroke-width="1.3" fill="none"/><path d="M819.2 194.4L830.4 205.6M819.2 205.6L830.4 194.4" stroke="#000000" stroke-width="2" fill="none"/><path d="M828.5 201H840.9M834.7 194.8V207.2" stroke="#000000" stroke-width="1.3" fill="none"/><path d="M829.1 195.4L840.3 206.6M829.1 206.6L840.3 195.4" stroke="#000000" stroke-width="2" fill="none"/><path d="M838.5 204H850.9M844.7 197.8V210.2" stroke="#000000" stroke-width="1.3" fill="none"/><path d="M839.1 198.4L850.3 209.6M839.1 209.6L850.3 198.4" stroke="#000000" stroke-width="2" fill="none"/><path d="M848.4 206H860.8M854.6 199.8V212.2" stroke="#000000" stroke-width="1.3" fill="none"/><path d="M849.0 200.4L860.2 211.6M849.0 211.6L860.2 200.4" stroke="#000000" stroke-width="2" fill="none"/><path d="M858.4 206H870.8M864.6 199.8V212.2" stroke="#000000" stroke-width="1.3" fill="none"/><path d="M859.0 200.4L870.2 211.6M859.0 211.6L870.2 200.4" stroke="#000000" stroke-width="2" fill="none"/><path d="M868.3 205H880.7M874.5 198.8V211.2" stroke="#000000" stroke-width="1.3" fill="none"/><path d="M868.9 199.4L880.1 210.6M868.9 210.6L880.1 199.4" stroke="#000000" stroke-width="2" fill="none"/><path d="M878.2 206H890.6M884.4 199.8V212.2" stroke="#000000" stroke-width="1.3" fill="none"/><path d="M878.8 200.4L890.0 211.6M878.8 211.6L890.0 200.4" stroke="#000000" stroke-width="2" fill="none"/><path d="M888.2 210.6H900.6M894.4 204.4V216.8" stroke="#000000" stroke-width="1.3" fill="none"/><path d="M888.8 205.0L900.0 216.2M888.8 216.2L900.0 205.0" stroke="#000000" stroke-width="2" fill="none"/><path d="M898.1 199H910.5M904.3 192.8V205.2" stroke="#000000" stroke-width="1.3" fill="none"/><path d="M898.7 193.4L909.9 204.6M898.7 204.6L909.9 193.4" stroke="#000000" stroke-width="2" fill="none"/><path d="M908.1 214H920.5M914.3 207.8V220.2" stroke="#000000" stroke-width="1.3" fill="none"/><path d="M908.7 208.4L919.9 219.6M908.7 219.6L919.9 208.4" stroke="#000000" stroke-width="2" fill="none"/><path d="M918.0 207H930.4M924.2 200.8V213.2" stroke="#000000" stroke-width="1.3" fill="none"/><path d="M918.6 201.4L929.8 212.6M918.6 212.6L929.8 201.4" stroke="#000000" stroke-width="2" fill="none"/><path d="M928.0 215.6H940.4M934.2 209.4V221.8" stroke="#000000" stroke-width="1.3" fill="none"/><path d="M928.6 210.0L939.8 221.2M928.6 221.2L939.8 210.0" stroke="#000000" stroke-width="2" fill="none"/><path d="M937.9 212H950.3M944.1 205.8V218.2" stroke="#000000" stroke-width="1.3" fill="none"/><path d="M938.5 206.4L949.7 217.6M938.5 217.6L949.7 206.4" stroke="#000000" stroke-width="2" fill="none"/><path d="M947.9 205.7H960.3M954.1 199.5V211.9" stroke="#000000" stroke-width="1.3" fill="none"/><path d="M948.5 200.1L959.7 211.3M948.5 211.3L959.7 200.1" stroke="#000000" stroke-width="2" fill="none"/><path d="M957.8 210.6H970.2M964.0 204.4V216.8" stroke="#000000" stroke-width="1.3" fill="none"/><path d="M958.4 205.0L969.6 216.2M958.4 216.2L969.6 205.0" stroke="#000000" stroke-width="2" fill="none"/><path d="M967.7 205.7H980.1M973.9 199.5V211.9" stroke="#000000" stroke-width="1.3" fill="none"/><path d="M968.3 200.1L979.5 211.3M968.3 211.3L979.5 200.1" stroke="#000000" stroke-width="2" fill="none"/><path d="M977.7 209H990.1M983.9 202.8V215.2" stroke="#000000" stroke-width="1.3" fill="none"/><path d="M978.3 203.4L989.5 214.6M978.3 214.6L989.5 203.4" stroke="#000000" stroke-width="2" fill="none"/><path d="M987.6 205.7H1000.0M993.8 199.5V211.9" stroke="#000000" stroke-width="1.3" fill="none"/><path d="M988.2 200.1L999.4 211.3M988.2 211.3L999.4 200.1" stroke="#000000" stroke-width="2" fill="none"/><path d="M997.6 227H1010.0M1003.8 220.8V233.2" stroke="#000000" stroke-width="1.3" fill="none"/><path d="M998.2 221.4L1009.4 232.6M998.2 232.6L1009.4 221.4" stroke="#000000" stroke-width="2" fill="none"/><path d="M1007.5 204H1019.9M1013.7 197.8V210.2" stroke="#000000" stroke-width="1.3" fill="none"/><path d="M1008.1 198.4L1019.3 209.6M1008.1 209.6L1019.3 198.4" stroke="#000000" stroke-width="2" fill="none"/><path d="M1017.5 201H1029.9M1023.7 194.8V207.2" stroke="#000000" stroke-width="1.3" fill="none"/><path d="M1018.1 195.4L1029.3 206.6M1018.1 206.6L1029.3 195.4" stroke="#000000" stroke-width="2" fill="none"/><path d="M1027.4 203H1039.8M1033.6 196.8V209.2" stroke="#000000" stroke-width="1.3" fill="none"/><path d="M1028.0 197.4L1039.2 208.6M1028.0 208.6L1039.2 197.4" stroke="#000000" stroke-width="2" fill="none"/><path d="M1037.4 200H1049.8M1043.6 193.8V206.2" stroke="#000000" stroke-width="1.3" fill="none"/><path d="M1038.0 194.4L1049.2 205.6M1038.0 205.6L1049.2 194.4" stroke="#000000" stroke-width="2" fill="none"/><path d="M1047.3 196H1059.7M1053.5 189.8V202.2" stroke="#000000" stroke-width="1.3" fill="none"/><path d="M1047.9 190.4L1059.1 201.6M1047.9 201.6L1059.1 190.4" stroke="#000000" stroke-width="2" fill="none"/>
<path d="M158.5 440.1L168.4 432.7L178.4 431.0L188.3 426.0L198.3 422.0L208.2 418.0L218.2 421.0L228.1 410.4L238.1 407.0L248.0 400.6L257.9 398.0L267.9 397.3L277.8 394.8L287.8 384.0L297.7 378.0L307.7 372.8L317.6 375.3L327.6 366.3L337.5 362.0L347.4 358.0L357.4 353.9L367.3 346.0L377.3 338.0L387.2 326.0L397.2 322.0L407.1 320.0L417.1 322.0L427.0 320.0L436.9 318.0L446.9 305.0L456.8 300.8L466.8 294.2L476.7 299.0L486.7 285.5L496.6 284.8L506.6 270.8L516.5 266.9L526.4 274.1L536.4 270.6L546.3 266.7L556.3 263.5L566.2 253.9L576.2 259.6L586.1 255.5L596.1 250.8L606.0 252.7L615.9 230.6L625.9 231.8L635.8 228.1L645.8 225.0L655.7 222.1L665.7 219.2L675.6 219.3L685.6 211.4L695.5 206.6L705.4 201.8L715.4 197.1L725.3 208.1L735.3 210.6L745.2 209.1L755.2 197.3L765.1 197.3L775.1 215.0L785.0 198.4L794.9 214.0L804.9 206.8L814.8 205.6L824.8 213.2L834.7 223.6L844.7 199.2L854.6 208.7L864.6 208.4L874.5 214.6L884.4 195.8L894.4 203.1L904.3 182.1L914.3 181.0L924.2 189.5L934.2 183.3L944.1 215.0L954.1 200.6L964.0 195.7L973.9 188.4L983.9 198.6L993.8 189.5L1003.8 186.6L1013.7 199.0L1023.7 212.3L1033.6 199.0L1043.6 202.4L1053.5 195.5" fill="none" stroke="#ff0000" stroke-width="4"/>
<rect x="154.5" y="436.1" width="8.0" height="8.0" fill="none" stroke="#ff0000" stroke-width="2"/><rect x="164.4" y="428.7" width="8.0" height="8.0" fill="none" stroke="#ff0000" stroke-width="2"/><rect x="174.4" y="427.0" width="8.0" height="8.0" fill="none" stroke="#ff0000" stroke-width="2"/><rect x="184.3" y="422.0" width="8.0" height="8.0" fill="none" stroke="#ff0000" stroke-width="2"/><rect x="194.3" y="418.0" width="8.0" height="8.0" fill="none" stroke="#ff0000" stroke-width="2"/><rect x="204.2" y="414.0" width="8.0" height="8.0" fill="none" stroke="#ff0000" stroke-width="2"/><rect x="214.2" y="417.0" width="8.0" height="8.0" fill="none" stroke="#ff0000" stroke-width="2"/><rect x="224.1" y="406.4" width="8.0" height="8.0" fill="none" stroke="#ff0000" stroke-width="2"/><rect x="234.1" y="403.0" width="8.0" height="8.0" fill="none" stroke="#ff0000" stroke-width="2"/><rect x="244.0" y="396.6" width="8.0" height="8.0" fill="none" stroke="#ff0000" stroke-width="2"/><rect x="253.9" y="394.0" width="8.0" height="8.0" fill="none" stroke="#ff0000" stroke-width="2"/><rect x="263.9" y="393.3" width="8.0" height="8.0" fill="none" stroke="#ff0000" stroke-width="2"/><rect x="273.8" y="390.8" width="8.0" height="8.0" fill="none" stroke="#ff0000" stroke-width="2"/><rect x="283.8" y="380.0" width="8.0" height="8.0" fill="none" stroke="#ff0000" stroke-width="2"/><rect x="293.7" y="374.0" width="8.0" height="8.0" fill="none" stroke="#ff0000" stroke-width="2"/><rect x="303.7" y="368.8" width="8.0" height="8.0" fill="none" stroke="#ff0000" stroke-width="2"/><rect x="313.6" y="371.3" width="8.0" height="8.0" fill="none" stroke="#ff0000" stroke-width="2"/><rect x="323.6" y="362.3" width="8.0" height="8.0" fill="none" stroke="#ff0000" stroke-width="2"/><rect x="333.5" y="358.0" width="8.0" height="8.0" fill="none" stroke="#ff0000" stroke-width="2"/><rect x="343.4" y="354.0" width="8.0" height="8.0" fill="none" stroke="#ff0000" stroke-width="2"/><rect x="353.4" y="349.9" width="8.0" height="8.0" fill="none" stroke="#ff0000" stroke-width="2"/><rect x="363.3" y="342.0" width="8.0" height="8.0" fill="none" stroke="#ff0000" stroke-width="2"/><rect x="373.3" y="334.0" width="8.0" height="8.0" fill="none" stroke="#ff0000" stroke-width="2"/><rect x="383.2" y="322.0" width="8.0" height="8.0" fill="none" stroke="#ff0000" stroke-width="2"/><rect x="393.2" y="318.0" width="8.0" height="8.0" fill="none" stroke="#ff0000" stroke-width="2"/><rect x="403.1" y="316.0" width="8.0" height="8.0" fill="none" stroke="#ff0000" stroke-width="2"/><rect x="413.1" y="318.0" width="8.0" height="8.0" fill="none" stroke="#ff0000" stroke-width="2"/><rect x="423.0" y="316.0" width="8.0" height="8.0" fill="none" stroke="#ff0000" stroke-width="2"/><rect x="432.9" y="314.0" width="8.0" height="8.0" fill="none" stroke="#ff0000" stroke-width="2"/><rect x="442.9" y="301.0" width="8.0" height="8.0" fill="none" stroke="#ff0000" stroke-width="2"/><rect x="452.8" y="296.8" width="8.0" height="8.0" fill="none" stroke="#ff0000" stroke-width="2"/><rect x="462.8" y="290.2" width="8.0" height="8.0" fill="none" stroke="#ff0000" stroke-width="2"/><rect x="472.7" y="295.0" width="8.0" height="8.0" fill="none" stroke="#ff0000" stroke-width="2"/><rect x="482.7" y="281.5" width="8.0" height="8.0" fill="none" stroke="#ff0000" stroke-width="2"/><rect x="492.6" y="280.8" width="8.0" height="8.0" fill="none" stroke="#ff0000" stroke-width="2"/><rect x="502.6" y="266.8" width="8.0" height="8.0" fill="none" stroke="#ff0000" stroke-width="2"/><rect x="512.5" y="262.9" width="8.0" height="8.0" fill="none" stroke="#ff0000" stroke-width="2"/><rect x="522.4" y="270.1" width="8.0" height="8.0" fill="none" stroke="#ff0000" stroke-width="2"/><rect x="532.4" y="266.6" width="8.0" height="8.0" fill="none" stroke="#ff0000" stroke-width="2"/><rect x="542.3" y="262.7" width="8.0" height="8.0" fill="none" stroke="#ff0000" stroke-width="2"/><rect x="552.3" y="259.5" width="8.0" height="8.0" fill="none" stroke="#ff0000" stroke-width="2"/><rect x="562.2" y="249.9" width="8.0" height="8.0" fill="none" stroke="#ff0000" stroke-width="2"/><rect x="572.2" y="255.6" width="8.0" height="8.0" fill="none" stroke="#ff0000" stroke-width="2"/><rect x="582.1" y="251.5" width="8.0" height="8.0" fill="none" stroke="#ff0000" stroke-width="2"/><rect x="592.1" y="246.8" width="8.0" height="8.0" fill="none" stroke="#ff0000" stroke-width="2"/><rect x="602.0" y="248.7" width="8.0" height="8.0" fill="none" stroke="#ff0000" stroke-width="2"/><rect x="611.9" y="226.6" width="8.0" height="8.0" fill="none" stroke="#ff0000" stroke-width="2"/><rect x="621.9" y="227.8" width="8.0" height="8.0" fill="none" stroke="#ff0000" stroke-width="2"/><rect x="631.8" y="224.1" width="8.0" height="8.0" fill="none" stroke="#ff0000" stroke-width="2"/><rect x="641.8" y="221.0" width="8.0" height="8.0" fill="none" stroke="#ff0000" stroke-width="2"/><rect x="651.7" y="218.1" width="8.0" height="8.0" fill="none" stroke="#ff0000" stroke-width="2"/><rect x="661.7" y="215.2" width="8.0" height="8.0" fill="none" stroke="#ff0000" stroke-width="2"/><rect x="671.6" y="215.3" width="8.0" height="8.0" fill="none" stroke="#ff0000" stroke-width="2"/><rect x="681.6" y="207.4" width="8.0" height="8.0" fill="none" stroke="#ff0000" stroke-width="2"/><rect x="691.5" y="202.6" width="8.0" height="8.0" fill="none" stroke="#ff0000" stroke-width="2"/><rect x="701.4" y="197.8" width="8.0" height="8.0" fill="none" stroke="#ff0000" stroke-width="2"/><rect x="711.4" y="193.1" width="8.0" height="8.0" fill="none" stroke="#ff0000" stroke-width="2"/><rect x="721.3" y="204.1" width="8.0" height="8.0" fill="none" stroke="#ff0000" stroke-width="2"/><rect x="731.3" y="206.6" width="8.0" height="8.0" fill="none" stroke="#ff0000" stroke-width="2"/><rect x="741.2" y="205.1" width="8.0" height="8.0" fill="none" stroke="#ff0000" stroke-width="2"/><rect x="751.2" y="193.3" width="8.0" height="8.0" fill="none" stroke="#ff0000" stroke-width="2"/><rect x="761.1" y="193.3" width="8.0" height="8.0" fill="none" stroke="#ff0000" stroke-width="2"/><rect x="771.1" y="211.0" width="8.0" height="8.0" fill="none" stroke="#ff0000" stroke-width="2"/><rect x="781.0" y="194.4" width="8.0" height="8.0" fill="none" stroke="#ff0000" stroke-width="2"/><rect x="790.9" y="210.0" width="8.0" height="8.0" fill="none" stroke="#ff0000" stroke-width="2"/><rect x="800.9" y="202.8" width="8.0" height="8.0" fill="none" stroke="#ff0000" stroke-width="2"/><rect x="810.8" y="201.6" width="8.0" height="8.0" fill="none" stroke="#ff0000" stroke-width="2"/><rect x="820.8" y="209.2" width="8.0" height="8.0" fill="none" stroke="#ff0000" stroke-width="2"/><rect x="830.7" y="219.6" width="8.0" height="8.0" fill="none" stroke="#ff0000" stroke-width="2"/><rect x="840.7" y="195.2" width="8.0" height="8.0" fill="none" stroke="#ff0000" stroke-width="2"/><rect x="850.6" y="204.7" width="8.0" height="8.0" fill="none" stroke="#ff0000" stroke-width="2"/><rect x="860.6" y="204.4" width="8.0" height="8.0" fill="none" stroke="#ff0000" stroke-width="2"/><rect x="870.5" y="210.6" width="8.0" height="8.0" fill="none" stroke="#ff0000" stroke-width="2"/><rect x="880.4" y="191.8" width="8.0" height="8.0" fill="none" stroke="#ff0000" stroke-width="2"/><rect x="890.4" y="199.1" width="8.0" height="8.0" fill="none" stroke="#ff0000" stroke-width="2"/><rect x="900.3" y="178.1" width="8.0" height="8.0" fill="none" stroke="#ff0000" stroke-width="2"/><rect x="910.3" y="177.0" width="8.0" height="8.0" fill="none" stroke="#ff0000" stroke-width="2"/><rect x="920.2" y="185.5" width="8.0" height="8.0" fill="none" stroke="#ff0000" stroke-width="2"/><rect x="930.2" y="179.3" width="8.0" height="8.0" fill="none" stroke="#ff0000" stroke-width="2"/><rect x="940.1" y="211.0" width="8.0" height="8.0" fill="none" stroke="#ff0000" stroke-width="2"/><rect x="950.1" y="196.6" width="8.0" height="8.0" fill="none" stroke="#ff0000" stroke-width="2"/><rect x="960.0" y="191.7" width="8.0" height="8.0" fill="none" stroke="#ff0000" stroke-width="2"/><rect x="969.9" y="184.4" width="8.0" height="8.0" fill="none" stroke="#ff0000" stroke-width="2"/><rect x="979.9" y="194.6" width="8.0" height="8.0" fill="none" stroke="#ff0000" stroke-width="2"/><rect x="989.8" y="185.5" width="8.0" height="8.0" fill="none" stroke="#ff0000" stroke-width="2"/><rect x="999.8" y="182.6" width="8.0" height="8.0" fill="none" stroke="#ff0000" stroke-width="2"/><rect x="1009.7" y="195.0" width="8.0" height="8.0" fill="none" stroke="#ff0000" stroke-width="2"/><rect x="1019.7" y="208.3" width="8.0" height="8.0" fill="none" stroke="#ff0000" stroke-width="2"/><rect x="1029.6" y="195.0" width="8.0" height="8.0" fill="none" stroke="#ff0000" stroke-width="2"/><rect x="1039.6" y="198.4" width="8.0" height="8.0" fill="none" stroke="#ff0000" stroke-width="2"/><rect x="1049.5" y="191.5" width="8.0" height="8.0" fill="none" stroke="#ff0000" stroke-width="2"/>
<path d="M158.5 440.9L168.4 433.9L178.4 430.8L188.3 426.3L198.3 422.0L208.2 418.0L218.2 421.6L228.1 410.3L238.1 407.1L248.0 400.5L257.9 399.3L267.9 397.9L277.8 395.9L287.8 385.3L297.7 377.3L307.7 373.0L317.6 376.6L327.6 367.3L337.5 360.9L347.4 356.9L357.4 353.7L367.3 344.7L377.3 337.2L387.2 324.7L397.2 322.5L407.1 320.9L417.1 323.2L427.0 319.0L436.9 318.6L446.9 305.5L456.8 299.7L466.8 295.3L476.7 300.4L486.7 284.7L496.6 286.2L506.6 270.5L516.5 266.9L526.4 275.6L536.4 271.6L546.3 265.7L556.3 263.3L566.2 253.9L576.2 259.1L586.1 254.6L596.1 250.3L606.0 253.4L615.9 229.2L625.9 232.0L635.8 227.9L645.8 223.6L655.7 221.6L665.7 219.6L675.6 219.3L685.6 210.1L695.5 208.1L705.4 202.7L715.4 198.5L725.3 206.9L735.3 209.9L745.2 207.7L755.2 198.1L765.1 196.6L775.1 213.9L785.0 198.2L794.9 215.2L804.9 207.8L814.8 204.9L824.8 212.1L834.7 224.9L844.7 199.4L854.6 209.3L864.6 207.2L874.5 213.3L884.4 196.4L894.4 202.9L904.3 180.8L914.3 182.3L924.2 189.9L934.2 184.2L944.1 213.8L954.1 201.7L964.0 194.4L973.9 189.5L983.9 198.5L993.8 189.0L1003.8 186.8L1013.7 200.3L1023.7 211.6L1033.6 197.9L1043.6 202.5L1053.5 194.7" fill="none" stroke="#ff0000" stroke-width="4"/>
<path d="M158.5 434.9L163.7 444.4H153.3Z" fill="none" stroke="#ff0000" stroke-width="2"/><path d="M168.4 427.9L173.6 437.4H163.2Z" fill="none" stroke="#ff0000" stroke-width="2"/><path d="M178.4 424.8L183.6 434.3H173.2Z" fill="none" stroke="#ff0000" stroke-width="2"/><path d="M188.3 420.3L193.5 429.8H183.1Z" fill="none" stroke="#ff0000" stroke-width="2"/><path d="M198.3 416.0L203.5 425.5H193.1Z" fill="none" stroke="#ff0000" stroke-width="2"/><path d="M208.2 412.0L213.4 421.5H203.0Z" fill="none" stroke="#ff0000" stroke-width="2"/><path d="M218.2 415.6L223.4 425.1H213.0Z" fill="none" stroke="#ff0000" stroke-width="2"/><path d="M228.1 404.3L233.3 413.8H222.9Z" fill="none" stroke="#ff0000" stroke-width="2"/><path d="M238.1 401.1L243.3 410.6H232.9Z" fill="none" stroke="#ff0000" stroke-width="2"/><path d="M248.0 394.5L253.2 404.0H242.8Z" fill="none" stroke="#ff0000" stroke-width="2"/><path d="M257.9 393.3L263.1 402.8H252.7Z" fill="none" stroke="#ff0000" stroke-width="2"/><path d="M267.9 391.9L273.1 401.4H262.7Z" fill="none" stroke="#ff0000" stroke-width="2"/><path d="M277.8 389.9L283.0 399.4H272.6Z" fill="none" stroke="#ff0000" stroke-width="2"/><path d="M287.8 379.3L293.0 388.8H282.6Z" fill="none" stroke="#ff0000" stroke-width="2"/><path d="M297.7 371.3L302.9 380.8H292.5Z" fill="none" stroke="#ff0000" stroke-width="2"/><path d="M307.7 367.0L312.9 376.5H302.5Z" fill="none" stroke="#ff0000" stroke-width="2"/><path d="M317.6 370.6L322.8 380.1H312.4Z" fill="none" stroke="#ff0000" stroke-width="2"/><path d="M327.6 361.3L332.8 370.8H322.4Z" fill="none" stroke="#ff0000" stroke-width="2"/><path d="M337.5 354.9L342.7 364.4H332.3Z" fill="none" stroke="#ff0000" stroke-width="2"/><path d="M347.4 350.9L352.6 360.4H342.2Z" fill="none" stroke="#ff0000" stroke-width="2"/><path d="M357.4 347.7L362.6 357.2H352.2Z" fill="none" stroke="#ff0000" stroke-width="2"/><path d="M367.3 338.7L372.5 348.2H362.1Z" fill="none" stroke="#ff0000" stroke-width="2"/><path d="M377.3 331.2L382.5 340.7H372.1Z" fill="none" stroke="#ff0000" stroke-width="2"/><path d="M387.2 318.7L392.4 328.2H382.0Z" fill="none" stroke="#ff0000" stroke-width="2"/><path d="M397.2 316.5L402.4 326.0H392.0Z" fill="none" stroke="#ff0000" stroke-width="2"/><path d="M407.1 314.9L412.3 324.4H401.9Z" fill="none" stroke="#ff0000" stroke-width="2"/><path d="M417.1 317.2L422.3 326.7H411.9Z" fill="none" stroke="#ff0000" stroke-width="2"/><path d="M427.0 313.0L432.2 322.5H421.8Z" fill="none" stroke="#ff0000" stroke-width="2"/><path d="M436.9 312.6L442.1 322.1H431.7Z" fill="none" stroke="#ff0000" stroke-width="2"/><path d="M446.9 299.5L452.1 309.0H441.7Z" fill="none" stroke="#ff0000" stroke-width="2"/><path d="M456.8 293.7L462.0 303.2H451.6Z" fill="none" stroke="#ff0000" stroke-width="2"/><path d="M466.8 289.3L472.0 298.8H461.6Z" fill="none" stroke="#ff0000" stroke-width="2"/><path d="M476.7 294.4L481.9 303.9H471.5Z" fill="none" stroke="#ff0000" stroke-width="2"/><path d="M486.7 278.7L491.9 288.2H481.5Z" fill="none" stroke="#ff0000" stroke-width="2"/><path d="M496.6 280.2L501.8 289.7H491.4Z" fill="none" stroke="#ff0000" stroke-width="2"/><path d="M506.6 264.5L511.8 274.0H501.4Z" fill="none" stroke="#ff0000" stroke-width="2"/><path d="M516.5 260.9L521.7 270.4H511.3Z" fill="none" stroke="#ff0000" stroke-width="2"/><path d="M526.4 269.6L531.6 279.1H521.2Z" fill="none" stroke="#ff0000" stroke-width="2"/><path d="M536.4 265.6L541.6 275.1H531.2Z" fill="none" stroke="#ff0000" stroke-width="2"/><path d="M546.3 259.7L551.5 269.2H541.1Z" fill="none" stroke="#ff0000" stroke-width="2"/><path d="M556.3 257.3L561.5 266.8H551.1Z" fill="none" stroke="#ff0000" stroke-width="2"/><path d="M566.2 247.9L571.4 257.4H561.0Z" fill="none" stroke="#ff0000" stroke-width="2"/><path d="M576.2 253.1L581.4 262.6H571.0Z" fill="none" stroke="#ff0000" stroke-width="2"/><path d="M586.1 248.6L591.3 258.1H580.9Z" fill="none" stroke="#ff0000" stroke-width="2"/><path d="M596.1 244.3L601.3 253.8H590.9Z" fill="none" stroke="#ff0000" stroke-width="2"/><path d="M606.0 247.4L611.2 256.9H600.8Z" fill="none" stroke="#ff0000" stroke-width="2"/><path d="M615.9 223.2L621.1 232.7H610.7Z" fill="none" stroke="#ff0000" stroke-width="2"/><path d="M625.9 226.0L631.1 235.5H620.7Z" fill="none" stroke="#ff0000" stroke-width="2"/><path d="M635.8 221.9L641.0 231.4H630.6Z" fill="none" stroke="#ff0000" stroke-width="2"/><path d="M645.8 217.6L651.0 227.1H640.6Z" fill="none" stroke="#ff0000" stroke-width="2"/><path d="M655.7 215.6L660.9 225.1H650.5Z" fill="none" stroke="#ff0000" stroke-width="2"/><path d="M665.7 213.6L670.9 223.1H660.5Z" fill="none" stroke="#ff0000" stroke-width="2"/><path d="M675.6 213.3L680.8 222.8H670.4Z" fill="none" stroke="#ff0000" stroke-width="2"/><path d="M685.6 204.1L690.8 213.6H680.4Z" fill="none" stroke="#ff0000" stroke-width="2"/><path d="M695.5 202.1L700.7 211.6H690.3Z" fill="none" stroke="#ff0000" stroke-width="2"/><path d="M705.4 196.7L710.6 206.2H700.2Z" fill="none" stroke="#ff0000" stroke-width="2"/><path d="M715.4 192.5L720.6 202.0H710.2Z" fill="none" stroke="#ff0000" stroke-width="2"/><path d="M725.3 200.9L730.5 210.4H720.1Z" fill="none" stroke="#ff0000" stroke-width="2"/><path d="M735.3 203.9L740.5 213.4H730.1Z" fill="none" stroke="#ff0000" stroke-width="2"/><path d="M745.2 201.7L750.4 211.2H740.0Z" fill="none" stroke="#ff0000" stroke-width="2"/><path d="M755.2 192.1L760.4 201.6H750.0Z" fill="none" stroke="#ff0000" stroke-width="2"/><path d="M765.1 190.6L770.3 200.1H759.9Z" fill="none" stroke="#ff0000" stroke-width="2"/><path d="M775.1 207.9L780.3 217.4H769.9Z" fill="none" stroke="#ff0000" stroke-width="2"/><path d="M785.0 192.2L790.2 201.7H779.8Z" fill="none" stroke="#ff0000" stroke-width="2"/><path d="M794.9 209.2L800.1 218.7H789.7Z" fill="none" stroke="#ff0000" stroke-width="2"/><path d="M804.9 201.8L810.1 211.3H799.7Z" fill="none" stroke="#ff0000" stroke-width="2"/><path d="M814.8 198.9L820.0 208.4H809.6Z" fill="none" stroke="#ff0000" stroke-width="2"/><path d="M824.8 206.1L830.0 215.6H819.6Z" fill="none" stroke="#ff0000" stroke-width="2"/><path d="M834.7 218.9L839.9 228.4H829.5Z" fill="none" stroke="#ff0000" stroke-width="2"/><path d="M844.7 193.4L849.9 202.9H839.5Z" fill="none" stroke="#ff0000" stroke-width="2"/><path d="M854.6 203.3L859.8 212.8H849.4Z" fill="none" stroke="#ff0000" stroke-width="2"/><path d="M864.6 201.2L869.8 210.7H859.4Z" fill="none" stroke="#ff0000" stroke-width="2"/><path d="M874.5 207.3L879.7 216.8H869.3Z" fill="none" stroke="#ff0000" stroke-width="2"/><path d="M884.4 190.4L889.6 199.9H879.2Z" fill="none" stroke="#ff0000" stroke-width="2"/><path d="M894.4 196.9L899.6 206.4H889.2Z" fill="none" stroke="#ff0000" stroke-width="2"/><path d="M904.3 174.8L909.5 184.3H899.1Z" fill="none" stroke="#ff0000" stroke-width="2"/><path d="M914.3 176.3L919.5 185.8H909.1Z" fill="none" stroke="#ff0000" stroke-width="2"/><path d="M924.2 183.9L929.4 193.4H919.0Z" fill="none" stroke="#ff0000" stroke-width="2"/><path d="M934.2 178.2L939.4 187.7H929.0Z" fill="none" stroke="#ff0000" stroke-width="2"/><path d="M944.1 207.8L949.3 217.3H938.9Z" fill="none" stroke="#ff0000" stroke-width="2"/><path d="M954.1 195.7L959.3 205.2H948.9Z" fill="none" stroke="#ff0000" stroke-width="2"/><path d="M964.0 188.4L969.2 197.9H958.8Z" fill="none" stroke="#ff0000" stroke-width="2"/><path d="M973.9 183.5L979.1 193.0H968.7Z" fill="none" stroke="#ff0000" stroke-width="2"/><path d="M983.9 192.5L989.1 202.0H978.7Z" fill="none" stroke="#ff0000" stroke-width="2"/><path d="M993.8 183.0L999.0 192.5H988.6Z" fill="none" stroke="#ff0000" stroke-width="2"/><path d="M1003.8 180.8L1009.0 190.3H998.6Z" fill="none" stroke="#ff0000" stroke-width="2"/><path d="M1013.7 194.3L1018.9 203.8H1008.5Z" fill="none" stroke="#ff0000" stroke-width="2"/><path d="M1023.7 205.6L1028.9 215.1H1018.5Z" fill="none" stroke="#ff0000" stroke-width="2"/><path d="M1033.6 191.9L1038.8 201.4H1028.4Z" fill="none" stroke="#ff0000" stroke-width="2"/><path d="M1043.6 196.5L1048.8 206.0H1038.4Z" fill="none" stroke="#ff0000" stroke-width="2"/><path d="M1053.5 188.7L1058.7 198.2H1048.3Z" fill="none" stroke="#ff0000" stroke-width="2"/>
<path d="M158.5 451.6L168.4 450.0L178.4 445.0L188.3 442.5L198.3 442.5L208.2 439.3L218.2 435.2L228.1 422.0L238.1 419.0L248.0 425.6L257.9 415.8L267.9 407.5L277.8 400.9L287.8 392.7L297.7 385.2L307.7 378.6L317.6 377.0L327.6 375.0L337.5 363.8L347.4 358.9L357.4 354.0L367.3 344.0L377.3 335.8L387.2 321.0L397.2 321.0L407.1 320.2L417.1 324.3L427.0 322.7L436.9 324.3L446.9 301.3L456.8 293.0L466.8 296.0L476.7 295.8L486.7 277.0L496.6 284.5L506.6 269.9L516.5 270.4L526.4 262.0L536.4 262.0L546.3 271.4L556.3 265.3L566.2 255.1L576.2 261.6L586.1 260.8L596.1 242.3L606.0 249.9L615.9 233.0L625.9 235.8L635.8 229.7L645.8 222.9L655.7 228.4L665.7 209.9L675.6 210.7L685.6 211.9L695.5 202.0L705.4 204.7L715.4 196.2L725.3 209.3L735.3 213.5L745.2 203.8L755.2 202.4L765.1 199.5L775.1 209.2L785.0 196.9L794.9 196.7L804.9 203.9L814.8 212.0L824.8 214.5L834.7 215.7L844.7 194.1L854.6 200.8L864.6 210.9L874.5 215.4L884.4 190.9L894.4 200.4L904.3 177.7L914.3 191.9L924.2 190.8L934.2 180.8L944.1 209.0L954.1 190.1L964.0 186.4L973.9 192.6L983.9 194.9L993.8 181.6L1003.8 185.9L1013.7 180.4L1023.7 195.8L1033.6 199.3L1043.6 190.8L1053.5 196.5" fill="none" stroke="#00ff00" stroke-width="4"/>
<path d="M153.9 451.6L161.9 445.6V457.6Z" fill="none" stroke="#00ff00" stroke-width="2"/><path d="M163.8 450.0L171.8 444.0V456.0Z" fill="none" stroke="#00ff00" stroke-width="2"/><path d="M173.8 445.0L181.8 439.0V451.0Z" fill="none" stroke="#00ff00" stroke-width="2"/><path d="M183.7 442.5L191.7 436.5V448.5Z" fill="none" stroke="#00ff00" stroke-width="2"/><path d="M193.7 442.5L201.7 436.5V448.5Z" fill="none" stroke="#00ff00" stroke-width="2"/><path d="M203.6 439.3L211.6 433.3V445.3Z" fill="none" stroke="#00ff00" stroke-width="2"/><path d="M213.6 435.2L221.6 429.2V441.2Z" fill="none" stroke="#00ff00" stroke-width="2"/><path d="M223.5 422.0L231.5 416.0V428.0Z" fill="none" stroke="#00ff00" stroke-width="2"/><path d="M233.5 419.0L241.5 413.0V425.0Z" fill="none" stroke="#00ff00" stroke-width="2"/><path d="M243.4 425.6L251.4 419.6V431.6Z" fill="none" stroke="#00ff00" stroke-width="2"/><path d="M253.3 415.8L261.3 409.8V421.8Z" fill="none" stroke="#00ff00" stroke-width="2"/><path d="M263.3 407.5L271.3 401.5V413.5Z" fill="none" stroke="#00ff00" stroke-width="2"/><path d="M273.2 400.9L281.2 394.9V406.9Z" fill="none" stroke="#00ff00" stroke-width="2"/><path d="M283.2 392.7L291.2 386.7V398.7Z" fill="none" stroke="#00ff00" stroke-width="2"/><path d="M293.1 385.2L301.1 379.2V391.2Z" fill="none" stroke="#00ff00" stroke-width="2"/><path d="M303.1 378.6L311.1 372.6V384.6Z" fill="none" stroke="#00ff00" stroke-width="2"/><path d="M313.0 377L321.0 371.0V383.0Z" fill="none" stroke="#00ff00" stroke-width="2"/><path d="M323.0 375L331.0 369.0V381.0Z" fill="none" stroke="#00ff00" stroke-width="2"/><path d="M332.9 363.8L340.9 357.8V369.8Z" fill="none" stroke="#00ff00" stroke-width="2"/><path d="M342.8 358.9L350.8 352.9V364.9Z" fill="none" stroke="#00ff00" stroke-width="2"/><path d="M352.8 354L360.8 348.0V360.0Z" fill="none" stroke="#00ff00" stroke-width="2"/><path d="M362.7 344L370.7 338.0V350.0Z" fill="none" stroke="#00ff00" stroke-width="2"/><path d="M372.7 335.8L380.7 329.8V341.8Z" fill="none" stroke="#00ff00" stroke-width="2"/><path d="M382.6 321L390.6 315.0V327.0Z" fill="none" stroke="#00ff00" stroke-width="2"/><path d="M392.6 321L400.6 315.0V327.0Z" fill="none" stroke="#00ff00" stroke-width="2"/><path d="M402.5 320.2L410.5 314.2V326.2Z" fill="none" stroke="#00ff00" stroke-width="2"/><path d="M412.5 324.3L420.5 318.3V330.3Z" fill="none" stroke="#00ff00" stroke-width="2"/><path d="M422.4 322.7L430.4 316.7V328.7Z" fill="none" stroke="#00ff00" stroke-width="2"/><path d="M432.3 324.3L440.3 318.3V330.3Z" fill="none" stroke="#00ff00" stroke-width="2"/><path d="M442.3 301.3L450.3 295.3V307.3Z" fill="none" stroke="#00ff00" stroke-width="2"/><path d="M452.2 293L460.2 287.0V299.0Z" fill="none" stroke="#00ff00" stroke-width="2"/><path d="M462.2 296.0L470.2 290.0V302.0Z" fill="none" stroke="#00ff00" stroke-width="2"/><path d="M472.1 295.8L480.1 289.8V301.8Z" fill="none" stroke="#00ff00" stroke-width="2"/><path d="M482.1 277L490.1 271.0V283.0Z" fill="none" stroke="#00ff00" stroke-width="2"/><path d="M492.0 284.5L500.0 278.5V290.5Z" fill="none" stroke="#00ff00" stroke-width="2"/><path d="M502.0 269.9L510.0 263.9V275.9Z" fill="none" stroke="#00ff00" stroke-width="2"/><path d="M511.9 270.4L519.9 264.4V276.4Z" fill="none" stroke="#00ff00" stroke-width="2"/><path d="M521.8 262L529.8 256.0V268.0Z" fill="none" stroke="#00ff00" stroke-width="2"/><path d="M531.8 262L539.8 256.0V268.0Z" fill="none" stroke="#00ff00" stroke-width="2"/><path d="M541.7 271.4L549.7 265.4V277.4Z" fill="none" stroke="#00ff00" stroke-width="2"/><path d="M551.7 265.3L559.7 259.3V271.3Z" fill="none" stroke="#00ff00" stroke-width="2"/><path d="M561.6 255.1L569.6 249.1V261.1Z" fill="none" stroke="#00ff00" stroke-width="2"/><path d="M571.6 261.6L579.6 255.6V267.6Z" fill="none" stroke="#00ff00" stroke-width="2"/><path d="M581.5 260.8L589.5 254.8V266.8Z" fill="none" stroke="#00ff00" stroke-width="2"/><path d="M591.5 242.3L599.5 236.3V248.3Z" fill="none" stroke="#00ff00" stroke-width="2"/><path d="M601.4 249.9L609.4 243.9V255.9Z" fill="none" stroke="#00ff00" stroke-width="2"/><path d="M611.3 233.0L619.3 227.0V239.0Z" fill="none" stroke="#00ff00" stroke-width="2"/><path d="M621.3 235.8L629.3 229.8V241.8Z" fill="none" stroke="#00ff00" stroke-width="2"/><path d="M631.2 229.7L639.2 223.7V235.7Z" fill="none" stroke="#00ff00" stroke-width="2"/><path d="M641.2 222.9L649.2 216.9V228.9Z" fill="none" stroke="#00ff00" stroke-width="2"/><path d="M651.1 228.4L659.1 222.4V234.4Z" fill="none" stroke="#00ff00" stroke-width="2"/><path d="M661.1 209.9L669.1 203.9V215.9Z" fill="none" stroke="#00ff00" stroke-width="2"/><path d="M671.0 210.7L679.0 204.7V216.7Z" fill="none" stroke="#00ff00" stroke-width="2"/><path d="M681.0 211.9L689.0 205.9V217.9Z" fill="none" stroke="#00ff00" stroke-width="2"/><path d="M690.9 202.0L698.9 196.0V208.0Z" fill="none" stroke="#00ff00" stroke-width="2"/><path d="M700.8 204.7L708.8 198.7V210.7Z" fill="none" stroke="#00ff00" stroke-width="2"/><path d="M710.8 196.2L718.8 190.2V202.2Z" fill="none" stroke="#00ff00" stroke-width="2"/><path d="M720.7 209.3L728.7 203.3V215.3Z" fill="none" stroke="#00ff00" stroke-width="2"/><path d="M730.7 213.5L738.7 207.5V219.5Z" fill="none" stroke="#00ff00" stroke-width="2"/><path d="M740.6 203.8L748.6 197.8V209.8Z" fill="none" stroke="#00ff00" stroke-width="2"/><path d="M750.6 202.4L758.6 196.4V208.4Z" fill="none" stroke="#00ff00" stroke-width="2"/><path d="M760.5 199.5L768.5 193.5V205.5Z" fill="none" stroke="#00ff00" stroke-width="2"/><path d="M770.5 209.2L778.5 203.2V215.2Z" fill="none" stroke="#00ff00" stroke-width="2"/><path d="M780.4 196.9L788.4 190.9V202.9Z" fill="none" stroke="#00ff00" stroke-width="2"/><path d="M790.3 196.7L798.3 190.7V202.7Z" fill="none" stroke="#00ff00" stroke-width="2"/><path d="M800.3 203.9L808.3 197.9V209.9Z" fill="none" stroke="#00ff00" stroke-width="2"/><path d="M810.2 212.0L818.2 206.0V218.0Z" fill="none" stroke="#00ff00" stroke-width="2"/><path d="M820.2 214.5L828.2 208.5V220.5Z" fill="none" stroke="#00ff00" stroke-width="2"/><path d="M830.1 215.7L838.1 209.7V221.7Z" fill="none" stroke="#00ff00" stroke-width="2"/><path d="M840.1 194.1L848.1 188.1V200.1Z" fill="none" stroke="#00ff00" stroke-width="2"/><path d="M850.0 200.8L858.0 194.8V206.8Z" fill="none" stroke="#00ff00" stroke-width="2"/><path d="M860.0 210.9L868.0 204.9V216.9Z" fill="none" stroke="#00ff00" stroke-width="2"/><path d="M869.9 215.4L877.9 209.4V221.4Z" fill="none" stroke="#00ff00" stroke-width="2"/><path d="M879.8 190.9L887.8 184.9V196.9Z" fill="none" stroke="#00ff00" stroke-width="2"/><path d="M889.8 200.4L897.8 194.4V206.4Z" fill="none" stroke="#00ff00" stroke-width="2"/><path d="M899.7 177.7L907.7 171.7V183.7Z" fill="none" stroke="#00ff00" stroke-width="2"/><path d="M909.7 191.9L917.7 185.9V197.9Z" fill="none" stroke="#00ff00" stroke-width="2"/><path d="M919.6 190.8L927.6 184.8V196.8Z" fill="none" stroke="#00ff00" stroke-width="2"/><path d="M929.6 180.8L937.6 174.8V186.8Z" fill="none" stroke="#00ff00" stroke-width="2"/><path d="M939.5 209.0L947.5 203.0V215.0Z" fill="none" stroke="#00ff00" stroke-width="2"/><path d="M949.5 190.1L957.5 184.1V196.1Z" fill="none" stroke="#00ff00" stroke-width="2"/><path d="M959.4 186.4L967.4 180.4V192.4Z" fill="none" stroke="#00ff00" stroke-width="2"/><path d="M969.3 192.6L977.3 186.6V198.6Z" fill="none" stroke="#00ff00" stroke-width="2"/><path d="M979.3 194.9L987.3 188.9V200.9Z" fill="none" stroke="#00ff00" stroke-width="2"/><path d="M989.2 181.6L997.2 175.6V187.6Z" fill="none" stroke="#00ff00" stroke-width="2"/><path d="M999.2 185.9L1007.2 179.9V191.9Z" fill="none" stroke="#00ff00" stroke-width="2"/><path d="M1009.1 180.4L1017.1 174.4V186.4Z" fill="none" stroke="#00ff00" stroke-width="2"/><path d="M1019.1 195.8L1027.1 189.8V201.8Z" fill="none" stroke="#00ff00" stroke-width="2"/><path d="M1029.0 199.3L1037.0 193.3V205.3Z" fill="none" stroke="#00ff00" stroke-width="2"/><path d="M1039.0 190.8L1047.0 184.8V196.8Z" fill="none" stroke="#00ff00" stroke-width="2"/><path d="M1048.9 196.5L1056.9 190.5V202.5Z" fill="none" stroke="#00ff00" stroke-width="2"/>
<path d="M158.5 450.4L168.4 449.0L178.4 443.7L188.3 441.6L198.3 441.9L208.2 438.7L218.2 436.0L228.1 421.4L238.1 419.0L248.0 424.6L257.9 415.3L267.9 406.1L277.8 400.2L287.8 391.2L297.7 385.9L307.7 378.8L317.6 376.1L327.6 374.9L337.5 365.1L347.4 357.7L357.4 355.0L367.3 343.8L377.3 335.8L387.2 322.0L397.2 320.7L407.1 320.2L417.1 324.9L427.0 324.1L436.9 323.8L446.9 302.3L456.8 293.6L466.8 296.4L476.7 295.5L486.7 276.5L496.6 283.2L506.6 268.8L516.5 269.1L526.4 262.7L536.4 261.3L546.3 270.4L556.3 264.1L566.2 256.1L576.2 262.7L586.1 261.3L596.1 241.6L606.0 249.1L615.9 232.4L625.9 235.7L635.8 228.7L645.8 222.7L655.7 227.7L665.7 211.3L675.6 212.1L685.6 212.0L695.5 201.2L705.4 206.1L715.4 195.6L725.3 208.9L735.3 212.0L745.2 203.4L755.2 202.3L765.1 199.5L775.1 208.3L785.0 196.9L794.9 195.2L804.9 203.2L814.8 210.8L824.8 214.2L834.7 214.3L844.7 192.7L854.6 200.2L864.6 210.1L874.5 215.7L884.4 191.0L894.4 201.2L904.3 178.2L914.3 192.5L924.2 191.9L934.2 180.5L944.1 208.5L954.1 191.6L964.0 185.3L973.9 193.3L983.9 195.3L993.8 180.2L1003.8 186.9L1013.7 181.6L1023.7 196.2L1033.6 200.0L1043.6 191.7L1053.5 195.4" fill="none" stroke="#00ff00" stroke-width="4"/>
<path d="M163.1 450.4L155.1 444.4V456.4Z" fill="none" stroke="#00ff00" stroke-width="2"/><path d="M173.0 449.0L165.0 443.0V455.0Z" fill="none" stroke="#00ff00" stroke-width="2"/><path d="M183.0 443.7L175.0 437.7V449.7Z" fill="none" stroke="#00ff00" stroke-width="2"/><path d="M192.9 441.6L184.9 435.6V447.6Z" fill="none" stroke="#00ff00" stroke-width="2"/><path d="M202.9 441.9L194.9 435.9V447.9Z" fill="none" stroke="#00ff00" stroke-width="2"/><path d="M212.8 438.7L204.8 432.7V444.7Z" fill="none" stroke="#00ff00" stroke-width="2"/><path d="M222.8 436.0L214.8 430.0V442.0Z" fill="none" stroke="#00ff00" stroke-width="2"/><path d="M232.7 421.4L224.7 415.4V427.4Z" fill="none" stroke="#00ff00" stroke-width="2"/><path d="M242.7 419.0L234.7 413.0V425.0Z" fill="none" stroke="#00ff00" stroke-width="2"/><path d="M252.6 424.6L244.6 418.6V430.6Z" fill="none" stroke="#00ff00" stroke-width="2"/><path d="M262.5 415.3L254.5 409.3V421.3Z" fill="none" stroke="#00ff00" stroke-width="2"/><path d="M272.5 406.1L264.5 400.1V412.1Z" fill="none" stroke="#00ff00" stroke-width="2"/><path d="M282.4 400.2L274.4 394.2V406.2Z" fill="none" stroke="#00ff00" stroke-width="2"/><path d="M292.4 391.2L284.4 385.2V397.2Z" fill="none" stroke="#00ff00" stroke-width="2"/><path d="M302.3 385.9L294.3 379.9V391.9Z" fill="none" stroke="#00ff00" stroke-width="2"/><path d="M312.3 378.8L304.3 372.8V384.8Z" fill="none" stroke="#00ff00" stroke-width="2"/><path d="M322.2 376.1L314.2 370.1V382.1Z" fill="none" stroke="#00ff00" stroke-width="2"/><path d="M332.2 374.9L324.2 368.9V380.9Z" fill="none" stroke="#00ff00" stroke-width="2"/><path d="M342.1 365.1L334.1 359.1V371.1Z" fill="none" stroke="#00ff00" stroke-width="2"/><path d="M352.0 357.7L344.0 351.7V363.7Z" fill="none" stroke="#00ff00" stroke-width="2"/><path d="M362.0 355.0L354.0 349.0V361.0Z" fill="none" stroke="#00ff00" stroke-width="2"/><path d="M371.9 343.8L363.9 337.8V349.8Z" fill="none" stroke="#00ff00" stroke-width="2"/><path d="M381.9 335.8L373.9 329.8V341.8Z" fill="none" stroke="#00ff00" stroke-width="2"/><path d="M391.8 322.0L383.8 316.0V328.0Z" fill="none" stroke="#00ff00" stroke-width="2"/><path d="M401.8 320.7L393.8 314.7V326.7Z" fill="none" stroke="#00ff00" stroke-width="2"/><path d="M411.7 320.2L403.7 314.2V326.2Z" fill="none" stroke="#00ff00" stroke-width="2"/><path d="M421.7 324.9L413.7 318.9V330.9Z" fill="none" stroke="#00ff00" stroke-width="2"/><path d="M431.6 324.1L423.6 318.1V330.1Z" fill="none" stroke="#00ff00" stroke-width="2"/><path d="M441.5 323.8L433.5 317.8V329.8Z" fill="none" stroke="#00ff00" stroke-width="2"/><path d="M451.5 302.3L443.5 296.3V308.3Z" fill="none" stroke="#00ff00" stroke-width="2"/><path d="M461.4 293.6L453.4 287.6V299.6Z" fill="none" stroke="#00ff00" stroke-width="2"/><path d="M471.4 296.4L463.4 290.4V302.4Z" fill="none" stroke="#00ff00" stroke-width="2"/><path d="M481.3 295.5L473.3 289.5V301.5Z" fill="none" stroke="#00ff00" stroke-width="2"/><path d="M491.3 276.5L483.3 270.5V282.5Z" fill="none" stroke="#00ff00" stroke-width="2"/><path d="M501.2 283.2L493.2 277.2V289.2Z" fill="none" stroke="#00ff00" stroke-width="2"/><path d="M511.2 268.8L503.2 262.8V274.8Z" fill="none" stroke="#00ff00" stroke-width="2"/><path d="M521.1 269.1L513.1 263.1V275.1Z" fill="none" stroke="#00ff00" stroke-width="2"/><path d="M531.0 262.7L523.0 256.7V268.7Z" fill="none" stroke="#00ff00" stroke-width="2"/><path d="M541.0 261.3L533.0 255.3V267.3Z" fill="none" stroke="#00ff00" stroke-width="2"/><path d="M550.9 270.4L542.9 264.4V276.4Z" fill="none" stroke="#00ff00" stroke-width="2"/><path d="M560.9 264.1L552.9 258.1V270.1Z" fill="none" stroke="#00ff00" stroke-width="2"/><path d="M570.8 256.1L562.8 250.1V262.1Z" fill="none" stroke="#00ff00" stroke-width="2"/><path d="M580.8 262.7L572.8 256.7V268.7Z" fill="none" stroke="#00ff00" stroke-width="2"/><path d="M590.7 261.3L582.7 255.3V267.3Z" fill="none" stroke="#00ff00" stroke-width="2"/><path d="M600.7 241.6L592.7 235.6V247.6Z" fill="none" stroke="#00ff00" stroke-width="2"/><path d="M610.6 249.1L602.6 243.1V255.1Z" fill="none" stroke="#00ff00" stroke-width="2"/><path d="M620.5 232.4L612.5 226.4V238.4Z" fill="none" stroke="#00ff00" stroke-width="2"/><path d="M630.5 235.7L622.5 229.7V241.7Z" fill="none" stroke="#00ff00" stroke-width="2"/><path d="M640.4 228.7L632.4 222.7V234.7Z" fill="none" stroke="#00ff00" stroke-width="2"/><path d="M650.4 222.7L642.4 216.7V228.7Z" fill="none" stroke="#00ff00" stroke-width="2"/><path d="M660.3 227.7L652.3 221.7V233.7Z" fill="none" stroke="#00ff00" stroke-width="2"/><path d="M670.3 211.3L662.3 205.3V217.3Z" fill="none" stroke="#00ff00" stroke-width="2"/><path d="M680.2 212.1L672.2 206.1V218.1Z" fill="none" stroke="#00ff00" stroke-width="2"/><path d="M690.2 212.0L682.2 206.0V218.0Z" fill="none" stroke="#00ff00" stroke-width="2"/><path d="M700.1 201.2L692.1 195.2V207.2Z" fill="none" stroke="#00ff00" stroke-width="2"/><path d="M710.0 206.1L702.0 200.1V212.1Z" fill="none" stroke="#00ff00" stroke-width="2"/><path d="M720.0 195.6L712.0 189.6V201.6Z" fill="none" stroke="#00ff00" stroke-width="2"/><path d="M729.9 208.9L721.9 202.9V214.9Z" fill="none" stroke="#00ff00" stroke-width="2"/><path d="M739.9 212.0L731.9 206.0V218.0Z" fill="none" stroke="#00ff00" stroke-width="2"/><path d="M749.8 203.4L741.8 197.4V209.4Z" fill="none" stroke="#00ff00" stroke-width="2"/><path d="M759.8 202.3L751.8 196.3V208.3Z" fill="none" stroke="#00ff00" stroke-width="2"/><path d="M769.7 199.5L761.7 193.5V205.5Z" fill="none" stroke="#00ff00" stroke-width="2"/><path d="M779.7 208.3L771.7 202.3V214.3Z" fill="none" stroke="#00ff00" stroke-width="2"/><path d="M789.6 196.9L781.6 190.9V202.9Z" fill="none" stroke="#00ff00" stroke-width="2"/><path d="M799.5 195.2L791.5 189.2V201.2Z" fill="none" stroke="#00ff00" stroke-width="2"/><path d="M809.5 203.2L801.5 197.2V209.2Z" fill="none" stroke="#00ff00" stroke-width="2"/><path d="M819.4 210.8L811.4 204.8V216.8Z" fill="none" stroke="#00ff00" stroke-width="2"/><path d="M829.4 214.2L821.4 208.2V220.2Z" fill="none" stroke="#00ff00" stroke-width="2"/><path d="M839.3 214.3L831.3 208.3V220.3Z" fill="none" stroke="#00ff00" stroke-width="2"/><path d="M849.3 192.7L841.3 186.7V198.7Z" fill="none" stroke="#00ff00" stroke-width="2"/><path d="M859.2 200.2L851.2 194.2V206.2Z" fill="none" stroke="#00ff00" stroke-width="2"/><path d="M869.2 210.1L861.2 204.1V216.1Z" fill="none" stroke="#00ff00" stroke-width="2"/><path d="M879.1 215.7L871.1 209.7V221.7Z" fill="none" stroke="#00ff00" stroke-width="2"/><path d="M889.0 191.0L881.0 185.0V197.0Z" fill="none" stroke="#00ff00" stroke-width="2"/><path d="M899.0 201.2L891.0 195.2V207.2Z" fill="none" stroke="#00ff00" stroke-width="2"/><path d="M908.9 178.2L900.9 172.2V184.2Z" fill="none" stroke="#00ff00" stroke-width="2"/><path d="M918.9 192.5L910.9 186.5V198.5Z" fill="none" stroke="#00ff00" stroke-width="2"/><path d="M928.8 191.9L920.8 185.9V197.9Z" fill="none" stroke="#00ff00" stroke-width="2"/><path d="M938.8 180.5L930.8 174.5V186.5Z" fill="none" stroke="#00ff00" stroke-width="2"/><path d="M948.7 208.5L940.7 202.5V214.5Z" fill="none" stroke="#00ff00" stroke-width="2"/><path d="M958.7 191.6L950.7 185.6V197.6Z" fill="none" stroke="#00ff00" stroke-width="2"/><path d="M968.6 185.3L960.6 179.3V191.3Z" fill="none" stroke="#00ff00" stroke-width="2"/><path d="M978.5 193.3L970.5 187.3V199.3Z" fill="none" stroke="#00ff00" stroke-width="2"/><path d="M988.5 195.3L980.5 189.3V201.3Z" fill="none" stroke="#00ff00" stroke-width="2"/><path d="M998.4 180.2L990.4 174.2V186.2Z" fill="none" stroke="#00ff00" stroke-width="2"/><path d="M1008.4 186.9L1000.4 180.9V192.9Z" fill="none" stroke="#00ff00" stroke-width="2"/><path d="M1018.3 181.6L1010.3 175.6V187.6Z" fill="none" stroke="#00ff00" stroke-width="2"/><path d="M1028.3 196.2L1020.3 190.2V202.2Z" fill="none" stroke="#00ff00" stroke-width="2"/><path d="M1038.2 200.0L1030.2 194.0V206.0Z" fill="none" stroke="#00ff00" stroke-width="2"/><path d="M1048.2 191.7L1040.2 185.7V197.7Z" fill="none" stroke="#00ff00" stroke-width="2"/><path d="M1058.1 195.4L1050.1 189.4V201.4Z" fill="none" stroke="#00ff00" stroke-width="2"/>
<path d="M158.5 487.3L168.4 480.7L178.4 476.6L188.3 477.4L198.3 467.6L208.2 463.5L218.2 454.4L228.1 451.1L238.1 446.2L248.0 444.5L257.9 433.0L267.9 426.4L277.8 416.6L287.8 413.3L297.7 396.5L307.7 384.0L317.6 388.3L327.6 391.2L337.5 372.0L347.4 370.4L357.4 367.0L367.3 354.0L377.3 344.0L387.2 337.5L397.2 334.2L407.1 329.2L417.1 327.6L427.0 322.7L436.9 319.4L446.9 311.0L456.8 303.0L466.8 300.0L476.7 298.4L486.7 291.8L496.6 291.0L506.6 275.3L516.5 272.0L526.4 277.0L536.4 277.0L546.3 273.7L556.3 268.7L566.2 259.7L576.2 262.2L586.1 262.2L596.1 247.3L606.0 252.3L615.9 235.8L625.9 235.8L635.8 230.9L645.8 227.6L655.7 227.6L665.7 216.0L675.6 214.4L685.6 212.8L695.5 207.8L705.4 207.8L715.4 202.9L725.3 211.0L735.3 214.4L745.2 206.2L755.2 202.4L765.1 204.0L775.1 210.6L785.0 199.1L794.9 199.1L804.9 207.3L814.8 212.3L824.8 213.9L834.7 218.9L844.7 195.8L854.6 207.3L864.6 212.3L874.5 217.2L884.4 200.8L894.4 200.8L904.3 182.7L914.3 195.8L924.2 192.5L934.2 187.6L944.1 212.3L954.1 195.8L964.0 192.5L973.9 199.1L983.9 195.8L993.8 187.6L1003.8 190.9L1013.7 184.3L1023.7 195.8L1033.6 205.7L1043.6 194.2L1053.5 199.1" fill="none" stroke="#9000ff" stroke-width="4"/>
<polygon points="158.5,478.3 161.1,483.7 167.1,484.5 162.8,488.7 163.8,494.6 158.5,491.8 153.2,494.6 154.2,488.7 149.9,484.5 155.9,483.7" fill="#9000ff" stroke="#9000ff" stroke-width="1"/><polygon points="168.4,471.7 171.0,477.1 177.0,477.9 172.7,482.1 173.7,488.0 168.4,485.2 163.1,488.0 164.1,482.1 159.8,477.9 165.8,477.1" fill="#9000ff" stroke="#9000ff" stroke-width="1"/><polygon points="178.4,467.6 181.0,473.0 187.0,473.8 182.7,478.0 183.7,483.9 178.4,481.1 173.1,483.9 174.1,478.0 169.8,473.8 175.8,473.0" fill="#9000ff" stroke="#9000ff" stroke-width="1"/><polygon points="188.3,468.4 190.9,473.8 196.9,474.6 192.6,478.8 193.6,484.7 188.3,481.9 183.0,484.7 184.0,478.8 179.7,474.6 185.7,473.8" fill="#9000ff" stroke="#9000ff" stroke-width="1"/><polygon points="198.3,458.6 200.9,464.0 206.9,464.8 202.6,469.0 203.6,474.9 198.3,472.1 193.0,474.9 194.0,469.0 189.7,464.8 195.7,464.0" fill="#9000ff" stroke="#9000ff" stroke-width="1"/><polygon points="208.2,454.5 210.8,459.9 216.8,460.7 212.5,464.9 213.5,470.8 208.2,468.0 202.9,470.8 203.9,464.9 199.6,460.7 205.6,459.9" fill="#9000ff" stroke="#9000ff" stroke-width="1"/><polygon points="218.2,445.4 220.8,450.8 226.8,451.6 222.5,455.8 223.5,461.7 218.2,458.9 212.9,461.7 213.9,455.8 209.6,451.6 215.6,450.8" fill="#9000ff" stroke="#9000ff" stroke-width="1"/><polygon points="228.1,442.1 230.7,447.5 236.7,448.3 232.4,452.5 233.4,458.4 228.1,455.6 222.8,458.4 223.8,452.5 219.5,448.3 225.5,447.5" fill="#9000ff" stroke="#9000ff" stroke-width="1"/><polygon points="238.1,437.2 240.7,442.6 246.7,443.4 242.4,447.6 243.4,453.5 238.1,450.7 232.8,453.5 233.8,447.6 229.5,443.4 235.5,442.6" fill="#9000ff" stroke="#9000ff" stroke-width="1"/><polygon points="248.0,435.5 250.6,440.9 256.6,441.7 252.3,445.9 253.3,451.8 248.0,449.0 242.7,451.8 243.7,445.9 239.4,441.7 245.4,440.9" fill="#9000ff" stroke="#9000ff" stroke-width="1"/><polygon points="257.9,424.0 260.5,429.4 266.5,430.2 262.2,434.4 263.2,440.3 257.9,437.5 252.6,440.3 253.6,434.4 249.3,430.2 255.3,429.4" fill="#9000ff" stroke="#9000ff" stroke-width="1"/><polygon points="267.9,417.4 270.5,422.8 276.5,423.6 272.2,427.8 273.2,433.7 267.9,430.9 262.6,433.7 263.6,427.8 259.3,423.6 265.3,422.8" fill="#9000ff" stroke="#9000ff" stroke-width="1"/><polygon points="277.8,407.6 280.4,413.0 286.4,413.8 282.1,418.0 283.1,423.9 277.8,421.1 272.5,423.9 273.5,418.0 269.2,413.8 275.2,413.0" fill="#9000ff" stroke="#9000ff" stroke-width="1"/><polygon points="287.8,404.3 290.4,409.7 296.4,410.5 292.1,414.7 293.1,420.6 287.8,417.8 282.5,420.6 283.5,414.7 279.2,410.5 285.2,409.7" fill="#9000ff" stroke="#9000ff" stroke-width="1"/><polygon points="297.7,387.5 300.3,392.9 306.3,393.7 302.0,397.9 303.0,403.8 297.7,401.0 292.4,403.8 293.4,397.9 289.1,393.7 295.1,392.9" fill="#9000ff" stroke="#9000ff" stroke-width="1"/><polygon points="307.7,375.0 310.3,380.4 316.3,381.2 312.0,385.4 313.0,391.3 307.7,388.5 302.4,391.3 303.4,385.4 299.1,381.2 305.1,380.4" fill="#9000ff" stroke="#9000ff" stroke-width="1"/><polygon points="317.6,379.3 320.2,384.7 326.2,385.5 321.9,389.7 322.9,395.6 317.6,392.8 312.3,395.6 313.3,389.7 309.0,385.5 315.0,384.7" fill="#9000ff" stroke="#9000ff" stroke-width="1"/><polygon points="327.6,382.2 330.2,387.6 336.2,388.4 331.9,392.6 332.9,398.5 327.6,395.7 322.3,398.5 323.3,392.6 319.0,388.4 325.0,387.6" fill="#9000ff" stroke="#9000ff" stroke-width="1"/><polygon points="337.5,363.0 340.1,368.4 346.1,369.2 341.8,373.4 342.8,379.3 337.5,376.5 332.2,379.3 333.2,373.4 328.9,369.2 334.9,368.4" fill="#9000ff" stroke="#9000ff" stroke-width="1"/><polygon points="347.4,361.4 350.0,366.8 356.0,367.6 351.7,371.8 352.7,377.7 347.4,374.9 342.1,377.7 343.1,371.8 338.8,367.6 344.8,366.8" fill="#9000ff" stroke="#9000ff" stroke-width="1"/><polygon points="357.4,358.0 360.0,363.4 366.0,364.2 361.7,368.4 362.7,374.3 357.4,371.5 352.1,374.3 353.1,368.4 348.8,364.2 354.8,363.4" fill="#9000ff" stroke="#9000ff" stroke-width="1"/><polygon points="367.3,345.0 369.9,350.4 375.9,351.2 371.6,355.4 372.6,361.3 367.3,358.5 362.0,361.3 363.0,355.4 358.7,351.2 364.7,350.4" fill="#9000ff" stroke="#9000ff" stroke-width="1"/><polygon points="377.3,335.0 379.9,340.4 385.9,341.2 381.6,345.4 382.6,351.3 377.3,348.5 372.0,351.3 373.0,345.4 368.7,341.2 374.7,340.4" fill="#9000ff" stroke="#9000ff" stroke-width="1"/><polygon points="387.2,328.5 389.8,333.9 395.8,334.7 391.5,338.9 392.5,344.8 387.2,342.0 381.9,344.8 382.9,338.9 378.6,334.7 384.6,333.9" fill="#9000ff" stroke="#9000ff" stroke-width="1"/><polygon points="397.2,325.2 399.8,330.6 405.8,331.4 401.5,335.6 402.5,341.5 397.2,338.7 391.9,341.5 392.9,335.6 388.6,331.4 394.6,330.6" fill="#9000ff" stroke="#9000ff" stroke-width="1"/><polygon points="407.1,320.2 409.7,325.6 415.7,326.4 411.4,330.6 412.4,336.5 407.1,333.7 401.8,336.5 402.8,330.6 398.5,326.4 404.5,325.6" fill="#9000ff" stroke="#9000ff" stroke-width="1"/><polygon points="417.1,318.6 419.7,324.0 425.7,324.8 421.4,329.0 422.4,334.9 417.1,332.1 411.8,334.9 412.8,329.0 408.5,324.8 414.5,324.0" fill="#9000ff" stroke="#9000ff" stroke-width="1"/><polygon points="427.0,313.7 429.6,319.1 435.6,319.9 431.3,324.1 432.3,330.0 427.0,327.2 421.7,330.0 422.7,324.1 418.4,319.9 424.4,319.1" fill="#9000ff" stroke="#9000ff" stroke-width="1"/><polygon points="436.9,310.4 439.5,315.8 445.5,316.6 441.2,320.8 442.2,326.7 436.9,323.9 431.6,326.7 432.6,320.8 428.3,316.6 434.3,315.8" fill="#9000ff" stroke="#9000ff" stroke-width="1"/><polygon points="446.9,302.0 449.5,307.4 455.5,308.2 451.2,312.4 452.2,318.3 446.9,315.5 441.6,318.3 442.6,312.4 438.3,308.2 444.3,307.4" fill="#9000ff" stroke="#9000ff" stroke-width="1"/><polygon points="456.8,294.0 459.4,299.4 465.4,300.2 461.1,304.4 462.1,310.3 456.8,307.5 451.5,310.3 452.5,304.4 448.2,300.2 454.2,299.4" fill="#9000ff" stroke="#9000ff" stroke-width="1"/><polygon points="466.8,291.0 469.4,296.4 475.4,297.2 471.1,301.4 472.1,307.3 466.8,304.5 461.5,307.3 462.5,301.4 458.2,297.2 464.2,296.4" fill="#9000ff" stroke="#9000ff" stroke-width="1"/><polygon points="476.7,289.4 479.3,294.8 485.3,295.6 481.0,299.8 482.0,305.7 476.7,302.9 471.4,305.7 472.4,299.8 468.1,295.6 474.1,294.8" fill="#9000ff" stroke="#9000ff" stroke-width="1"/><polygon points="486.7,282.8 489.3,288.2 495.3,289.0 491.0,293.2 492.0,299.1 486.7,296.3 481.4,299.1 482.4,293.2 478.1,289.0 484.1,288.2" fill="#9000ff" stroke="#9000ff" stroke-width="1"/><polygon points="496.6,282.0 499.2,287.4 505.2,288.2 500.9,292.4 501.9,298.3 496.6,295.5 491.3,298.3 492.3,292.4 488.0,288.2 494.0,287.4" fill="#9000ff" stroke="#9000ff" stroke-width="1"/><polygon points="506.6,266.3 509.2,271.7 515.2,272.5 510.9,276.7 511.9,282.6 506.6,279.8 501.3,282.6 502.3,276.7 498.0,272.5 504.0,271.7" fill="#9000ff" stroke="#9000ff" stroke-width="1"/><polygon points="516.5,263.0 519.1,268.4 525.1,269.2 520.8,273.4 521.8,279.3 516.5,276.5 511.2,279.3 512.2,273.4 507.9,269.2 513.9,268.4" fill="#9000ff" stroke="#9000ff" stroke-width="1"/><polygon points="526.4,268.0 529.0,273.4 535.0,274.2 530.7,278.4 531.7,284.3 526.4,281.5 521.1,284.3 522.1,278.4 517.8,274.2 523.8,273.4" fill="#9000ff" stroke="#9000ff" stroke-width="1"/><polygon points="536.4,268.0 539.0,273.4 545.0,274.2 540.7,278.4 541.7,284.3 536.4,281.5 531.1,284.3 532.1,278.4 527.8,274.2 533.8,273.4" fill="#9000ff" stroke="#9000ff" stroke-width="1"/><polygon points="546.3,264.7 548.9,270.1 554.9,270.9 550.6,275.1 551.6,281.0 546.3,278.2 541.0,281.0 542.0,275.1 537.7,270.9 543.7,270.1" fill="#9000ff" stroke="#9000ff" stroke-width="1"/><polygon points="556.3,259.7 558.9,265.1 564.9,265.9 560.6,270.1 561.6,276.0 556.3,273.2 551.0,276.0 552.0,270.1 547.7,265.9 553.7,265.1" fill="#9000ff" stroke="#9000ff" stroke-width="1"/><polygon points="566.2,250.7 568.8,256.1 574.8,256.9 570.5,261.1 571.5,267.0 566.2,264.2 560.9,267.0 561.9,261.1 557.6,256.9 563.6,256.1" fill="#9000ff" stroke="#9000ff" stroke-width="1"/><polygon points="576.2,253.2 578.8,258.6 584.8,259.4 580.5,263.6 581.5,269.5 576.2,266.7 570.9,269.5 571.9,263.6 567.6,259.4 573.6,258.6" fill="#9000ff" stroke="#9000ff" stroke-width="1"/><polygon points="586.1,253.2 588.7,258.6 594.7,259.4 590.4,263.6 591.4,269.5 586.1,266.7 580.8,269.5 581.8,263.6 577.5,259.4 583.5,258.6" fill="#9000ff" stroke="#9000ff" stroke-width="1"/><polygon points="596.1,238.3 598.7,243.7 604.7,244.5 600.4,248.7 601.4,254.6 596.1,251.8 590.8,254.6 591.8,248.7 587.5,244.5 593.5,243.7" fill="#9000ff" stroke="#9000ff" stroke-width="1"/><polygon points="606.0,243.3 608.6,248.7 614.6,249.5 610.3,253.7 611.3,259.6 606.0,256.8 600.7,259.6 601.7,253.7 597.4,249.5 603.4,248.7" fill="#9000ff" stroke="#9000ff" stroke-width="1"/><polygon points="615.9,226.8 618.5,232.2 624.5,233.0 620.2,237.2 621.2,243.1 615.9,240.3 610.6,243.1 611.6,237.2 607.3,233.0 613.3,232.2" fill="#9000ff" stroke="#9000ff" stroke-width="1"/><polygon points="625.9,226.8 628.5,232.2 634.5,233.0 630.2,237.2 631.2,243.1 625.9,240.3 620.6,243.1 621.6,237.2 617.3,233.0 623.3,232.2" fill="#9000ff" stroke="#9000ff" stroke-width="1"/><polygon points="635.8,221.9 638.4,227.3 644.4,228.1 640.1,232.3 641.1,238.2 635.8,235.4 630.5,238.2 631.5,232.3 627.2,228.1 633.2,227.3" fill="#9000ff" stroke="#9000ff" stroke-width="1"/><polygon points="645.8,218.6 648.4,224.0 654.4,224.8 650.1,229.0 651.1,234.9 645.8,232.1 640.5,234.9 641.5,229.0 637.2,224.8 643.2,224.0" fill="#9000ff" stroke="#9000ff" stroke-width="1"/><polygon points="655.7,218.6 658.3,224.0 664.3,224.8 660.0,229.0 661.0,234.9 655.7,232.1 650.4,234.9 651.4,229.0 647.1,224.8 653.1,224.0" fill="#9000ff" stroke="#9000ff" stroke-width="1"/><polygon points="665.7,207.0 668.3,212.4 674.3,213.2 670.0,217.4 671.0,223.3 665.7,220.5 660.4,223.3 661.4,217.4 657.1,213.2 663.1,212.4" fill="#9000ff" stroke="#9000ff" stroke-width="1"/><polygon points="675.6,205.4 678.2,210.8 684.2,211.6 679.9,215.8 680.9,221.7 675.6,218.9 670.3,221.7 671.3,215.8 667.0,211.6 673.0,210.8" fill="#9000ff" stroke="#9000ff" stroke-width="1"/><polygon points="685.6,203.8 688.2,209.2 694.2,210.0 689.9,214.2 690.9,220.1 685.6,217.3 680.3,220.1 681.3,214.2 677.0,210.0 683.0,209.2" fill="#9000ff" stroke="#9000ff" stroke-width="1"/><polygon points="695.5,198.8 698.1,204.2 704.1,205.0 699.8,209.2 700.8,215.1 695.5,212.3 690.2,215.1 691.2,209.2 686.9,205.0 692.9,204.2" fill="#9000ff" stroke="#9000ff" stroke-width="1"/><polygon points="705.4,198.8 708.0,204.2 714.0,205.0 709.7,209.2 710.7,215.1 705.4,212.3 700.1,215.1 701.1,209.2 696.8,205.0 702.8,204.2" fill="#9000ff" stroke="#9000ff" stroke-width="1"/><polygon points="715.4,193.9 718.0,199.3 724.0,200.1 719.7,204.3 720.7,210.2 715.4,207.4 710.1,210.2 711.1,204.3 706.8,200.1 712.8,199.3" fill="#9000ff" stroke="#9000ff" stroke-width="1"/><polygon points="725.3,202.0 727.9,207.4 733.9,208.2 729.6,212.4 730.6,218.3 725.3,215.5 720.0,218.3 721.0,212.4 716.7,208.2 722.7,207.4" fill="#9000ff" stroke="#9000ff" stroke-width="1"/><polygon points="735.3,205.4 737.9,210.8 743.9,211.6 739.6,215.8 740.6,221.7 735.3,218.9 730.0,221.7 731.0,215.8 726.7,211.6 732.7,210.8" fill="#9000ff" stroke="#9000ff" stroke-width="1"/><polygon points="745.2,197.2 747.8,202.6 753.8,203.4 749.5,207.6 750.5,213.5 745.2,210.7 739.9,213.5 740.9,207.6 736.6,203.4 742.6,202.6" fill="#9000ff" stroke="#9000ff" stroke-width="1"/><polygon points="755.2,193.4 757.8,198.8 763.8,199.6 759.5,203.8 760.5,209.7 755.2,206.9 749.9,209.7 750.9,203.8 746.6,199.6 752.6,198.8" fill="#9000ff" stroke="#9000ff" stroke-width="1"/><polygon points="765.1,195.0 767.7,200.4 773.7,201.2 769.4,205.4 770.4,211.3 765.1,208.5 759.8,211.3 760.8,205.4 756.5,201.2 762.5,200.4" fill="#9000ff" stroke="#9000ff" stroke-width="1"/><polygon points="775.1,201.6 777.7,207.0 783.7,207.8 779.4,212.0 780.4,217.9 775.1,215.1 769.8,217.9 770.8,212.0 766.5,207.8 772.5,207.0" fill="#9000ff" stroke="#9000ff" stroke-width="1"/><polygon points="785.0,190.1 787.6,195.5 793.6,196.3 789.3,200.5 790.3,206.4 785.0,203.6 779.7,206.4 780.7,200.5 776.4,196.3 782.4,195.5" fill="#9000ff" stroke="#9000ff" stroke-width="1"/><polygon points="794.9,190.1 797.5,195.5 803.5,196.3 799.2,200.5 800.2,206.4 794.9,203.6 789.6,206.4 790.6,200.5 786.3,196.3 792.3,195.5" fill="#9000ff" stroke="#9000ff" stroke-width="1"/><polygon points="804.9,198.3 807.5,203.7 813.5,204.5 809.2,208.7 810.2,214.6 804.9,211.8 799.6,214.6 800.6,208.7 796.3,204.5 802.3,203.7" fill="#9000ff" stroke="#9000ff" stroke-width="1"/><polygon points="814.8,203.3 817.4,208.7 823.4,209.5 819.1,213.7 820.1,219.6 814.8,216.8 809.5,219.6 810.5,213.7 806.2,209.5 812.2,208.7" fill="#9000ff" stroke="#9000ff" stroke-width="1"/><polygon points="824.8,204.9 827.4,210.3 833.4,211.1 829.1,215.3 830.1,221.2 824.8,218.4 819.5,221.2 820.5,215.3 816.2,211.1 822.2,210.3" fill="#9000ff" stroke="#9000ff" stroke-width="1"/><polygon points="834.7,209.9 837.3,215.3 843.3,216.1 839.0,220.3 840.0,226.2 834.7,223.4 829.4,226.2 830.4,220.3 826.1,216.1 832.1,215.3" fill="#9000ff" stroke="#9000ff" stroke-width="1"/><polygon points="844.7,186.8 847.3,192.2 853.3,193.0 849.0,197.2 850.0,203.1 844.7,200.3 839.4,203.1 840.4,197.2 836.1,193.0 842.1,192.2" fill="#9000ff" stroke="#9000ff" stroke-width="1"/><polygon points="854.6,198.3 857.2,203.7 863.2,204.5 858.9,208.7 859.9,214.6 854.6,211.8 849.3,214.6 850.3,208.7 846.0,204.5 852.0,203.7" fill="#9000ff" stroke="#9000ff" stroke-width="1"/><polygon points="864.6,203.3 867.2,208.7 873.2,209.5 868.9,213.7 869.9,219.6 864.6,216.8 859.3,219.6 860.3,213.7 856.0,209.5 862.0,208.7" fill="#9000ff" stroke="#9000ff" stroke-width="1"/><polygon points="874.5,208.2 877.1,213.6 883.1,214.4 878.8,218.6 879.8,224.5 874.5,221.7 869.2,224.5 870.2,218.6 865.9,214.4 871.9,213.6" fill="#9000ff" stroke="#9000ff" stroke-width="1"/><polygon points="884.4,191.8 887.0,197.2 893.0,198.0 888.7,202.2 889.7,208.1 884.4,205.3 879.1,208.1 880.1,202.2 875.8,198.0 881.8,197.2" fill="#9000ff" stroke="#9000ff" stroke-width="1"/><polygon points="894.4,191.8 897.0,197.2 903.0,198.0 898.7,202.2 899.7,208.1 894.4,205.3 889.1,208.1 890.1,202.2 885.8,198.0 891.8,197.2" fill="#9000ff" stroke="#9000ff" stroke-width="1"/><polygon points="904.3,173.7 906.9,179.1 912.9,179.9 908.6,184.1 909.6,190.0 904.3,187.2 899.0,190.0 900.0,184.1 895.7,179.9 901.7,179.1" fill="#9000ff" stroke="#9000ff" stroke-width="1"/><polygon points="914.3,186.8 916.9,192.2 922.9,193.0 918.6,197.2 919.6,203.1 914.3,200.3 909.0,203.1 910.0,197.2 905.7,193.0 911.7,192.2" fill="#9000ff" stroke="#9000ff" stroke-width="1"/><polygon points="924.2,183.5 926.8,188.9 932.8,189.7 928.5,193.9 929.5,199.8 924.2,197.0 918.9,199.8 919.9,193.9 915.6,189.7 921.6,188.9" fill="#9000ff" stroke="#9000ff" stroke-width="1"/><polygon points="934.2,178.6 936.8,184.0 942.8,184.8 938.5,189.0 939.5,194.9 934.2,192.1 928.9,194.9 929.9,189.0 925.6,184.8 931.6,184.0" fill="#9000ff" stroke="#9000ff" stroke-width="1"/><polygon points="944.1,203.3 946.7,208.7 952.7,209.5 948.4,213.7 949.4,219.6 944.1,216.8 938.8,219.6 939.8,213.7 935.5,209.5 941.5,208.7" fill="#9000ff" stroke="#9000ff" stroke-width="1"/><polygon points="954.1,186.8 956.7,192.2 962.7,193.0 958.4,197.2 959.4,203.1 954.1,200.3 948.8,203.1 949.8,197.2 945.5,193.0 951.5,192.2" fill="#9000ff" stroke="#9000ff" stroke-width="1"/><polygon points="964.0,183.5 966.6,188.9 972.6,189.7 968.3,193.9 969.3,199.8 964.0,197.0 958.7,199.8 959.7,193.9 955.4,189.7 961.4,188.9" fill="#9000ff" stroke="#9000ff" stroke-width="1"/><polygon points="973.9,190.1 976.5,195.5 982.5,196.3 978.2,200.5 979.2,206.4 973.9,203.6 968.6,206.4 969.6,200.5 965.3,196.3 971.3,195.5" fill="#9000ff" stroke="#9000ff" stroke-width="1"/><polygon points="983.9,186.8 986.5,192.2 992.5,193.0 988.2,197.2 989.2,203.1 983.9,200.3 978.6,203.1 979.6,197.2 975.3,193.0 981.3,192.2" fill="#9000ff" stroke="#9000ff" stroke-width="1"/><polygon points="993.8,178.6 996.4,184.0 1002.4,184.8 998.1,189.0 999.1,194.9 993.8,192.1 988.5,194.9 989.5,189.0 985.2,184.8 991.2,184.0" fill="#9000ff" stroke="#9000ff" stroke-width="1"/><polygon points="1003.8,181.9 1006.4,187.3 1012.4,188.1 1008.1,192.3 1009.1,198.2 1003.8,195.4 998.5,198.2 999.5,192.3 995.2,188.1 1001.2,187.3" fill="#9000ff" stroke="#9000ff" stroke-width="1"/><polygon points="1013.7,175.3 1016.3,180.7 1022.3,181.5 1018.0,185.7 1019.0,191.6 1013.7,188.8 1008.4,191.6 1009.4,185.7 1005.1,181.5 1011.1,180.7" fill="#9000ff" stroke="#9000ff" stroke-width="1"/><polygon points="1023.7,186.8 1026.3,192.2 1032.3,193.0 1028.0,197.2 1029.0,203.1 1023.7,200.3 1018.4,203.1 1019.4,197.2 1015.1,193.0 1021.1,192.2" fill="#9000ff" stroke="#9000ff" stroke-width="1"/><polygon points="1033.6,196.7 1036.2,202.1 1042.2,202.9 1037.9,207.1 1038.9,213.0 1033.6,210.2 1028.3,213.0 1029.3,207.1 1025.0,202.9 1031.0,202.1" fill="#9000ff" stroke="#9000ff" stroke-width="1"/><polygon points="1043.6,185.2 1046.2,190.6 1052.2,191.4 1047.9,195.6 1048.9,201.5 1043.6,198.7 1038.3,201.5 1039.3,195.6 1035.0,191.4 1041.0,190.6" fill="#9000ff" stroke="#9000ff" stroke-width="1"/><polygon points="1053.5,190.1 1056.1,195.5 1062.1,196.3 1057.8,200.5 1058.8,206.4 1053.5,203.6 1048.2,206.4 1049.2,200.5 1044.9,196.3 1050.9,195.5" fill="#9000ff" stroke="#9000ff" stroke-width="1"/>
</g>
<g fill="#000" shape-rendering="crispEdges"><rect x="157" y="36" width="3" height="687"/><rect x="1052" y="36" width="3" height="687"/><rect x="157" y="36" width="898" height="4"/><rect x="157" y="720" width="898" height="3"/><rect x="207" y="714" width="3" height="6"/><rect x="256" y="708" width="4" height="12"/><rect x="306" y="714" width="3" height="6"/><rect x="356" y="708" width="3" height="12"/><rect x="405" y="714" width="4" height="6"/><rect x="455" y="708" width="4" height="12"/><rect x="505" y="714" width="3" height="6"/><rect x="555" y="708" width="3" height="12"/><rect x="604" y="714" width="4" height="6"/><rect x="654" y="708" width="3" height="12"/><rect x="704" y="714" width="3" height="6"/><rect x="753" y="708" width="4" height="12"/><rect x="803" y="714" width="4" height="6"/><rect x="853" y="708" width="3" height="12"/><rect x="903" y="714" width="3" height="6"/><rect x="952" y="708" width="4" height="12"/><rect x="1002" y="714" width="3" height="6"/><rect x="160" y="651" width="5" height="4"/><rect x="160" y="583" width="12" height="3"/><rect x="160" y="514" width="5" height="4"/><rect x="160" y="446" width="12" height="4"/><rect x="160" y="378" width="5" height="3"/><rect x="160" y="309" width="12" height="4"/><rect x="160" y="241" width="5" height="4"/><rect x="160" y="173" width="12" height="3"/><rect x="160" y="104" width="5" height="4"/></g>
<g font-size="37">
<text x="158.5" y="763.3" text-anchor="middle">50</text>
<text x="259.1" y="763.3" text-anchor="middle">100</text>
<text x="358.6" y="763.3" text-anchor="middle">150</text>
<text x="456.8" y="763.3" text-anchor="middle">200</text>
<text x="556.3" y="763.3" text-anchor="middle">250</text>
<text x="655.7" y="763.3" text-anchor="middle">300</text>
<text x="755.2" y="763.3" text-anchor="middle">350</text>
<text x="854.6" y="763.3" text-anchor="middle">400</text>
<text x="954.1" y="763.3" text-anchor="middle">450</text>
<text x="1053.5" y="763.3" text-anchor="middle">500</text>
<text x="144.3" y="732.0" text-anchor="end">0.0</text>
<text x="144.3" y="595.3" text-anchor="end">0.2</text>
<text x="144.3" y="458.6" text-anchor="end">0.4</text>
<text x="144.3" y="322.0" text-anchor="end">0.6</text>
<text x="144.3" y="185.3" text-anchor="end">0.8</text>
<text x="144.3" y="48.6" text-anchor="end">1.0</text>
</g>
<text x="607.2" y="836.0" font-size="50" class="t" text-anchor="middle">Scale</text>
<text transform="translate(70.3 459.9) rotate(-90) scale(1.08 1)" font-size="48" class="t" font-style="italic">MPPE<tspan font-size="36" dx="-4.6" dy="13.5">N</tspan></text>
<text x="13.5" y="61.5" font-size="64" class="t">(a)</text>
<rect x="1066" y="38" width="142" height="346" fill="#fff" stroke="#000" stroke-width="2" shape-rendering="crispEdges"/>
<g font-size="33.8" stroke-linecap="round">
<line x1="1070.7" y1="62.0" x2="1148.5" y2="62.0" stroke="#0000ff" stroke-width="4"/>
<circle cx="1109.8" cy="62.0" r="4.2" fill="none" stroke="#0000ff" stroke-width="2"/>
<text x="1156.7" y="72.9">M1</text>
<line x1="1070.7" y1="104.6" x2="1148.5" y2="104.6" stroke="#000000" stroke-width="4"/>
<path d="M1104.3 104.6H1115.3M1109.8 99.1V110.1" stroke="#000000" stroke-width="1.7" fill="none"/>
<text x="1156.7" y="115.5">M2</text>
<line x1="1070.7" y1="147.3" x2="1148.5" y2="147.3" stroke="#000000" stroke-width="3"/>
<path d="M1103.6 147.3H1116.0M1109.8 141.1V153.5" stroke="#000000" stroke-width="1.3" fill="none"/><path d="M1104.2 141.7L1115.4 152.9M1104.2 152.9L1115.4 141.7" stroke="#000000" stroke-width="2" fill="none"/>
<text x="1156.7" y="158.2">M3</text>
<line x1="1070.7" y1="189.9" x2="1148.5" y2="189.9" stroke="#ff0000" stroke-width="4"/>
<rect x="1105.8" y="185.9" width="8.0" height="8.0" fill="none" stroke="#ff0000" stroke-width="2"/>
<text x="1156.7" y="200.8">M4</text>
<line x1="1070.7" y1="232.6" x2="1148.5" y2="232.6" stroke="#ff0000" stroke-width="3"/>
<path d="M1109.8 226.6L1115.0 236.1H1104.6Z" fill="none" stroke="#ff0000" stroke-width="2"/>
<text x="1156.7" y="243.5">M5</text>
<line x1="1070.7" y1="275.2" x2="1148.5" y2="275.2" stroke="#00ff00" stroke-width="4"/>
<path d="M1105.2 275.2L1113.2 269.2V281.2Z" fill="none" stroke="#00ff00" stroke-width="2"/>
<text x="1156.7" y="286.1">M6</text>
<line x1="1070.7" y1="317.8" x2="1148.5" y2="317.8" stroke="#00ff00" stroke-width="3"/>
<path d="M1114.4 317.8L1106.4 311.8V323.8Z" fill="none" stroke="#00ff00" stroke-width="2"/>
<text x="1156.7" y="328.7">M7</text>
<line x1="1070.7" y1="360.5" x2="1148.5" y2="360.5" stroke="#9000ff" stroke-width="3"/>
<polygon points="1109.8,351.5 1112.4,356.9 1118.4,357.7 1114.1,361.9 1115.1,367.8 1109.8,365.0 1104.5,367.8 1105.5,361.9 1101.2,357.7 1107.2,356.9" fill="#9000ff" stroke="#9000ff" stroke-width="1"/>
<text x="1156.7" y="371.4">M8</text>
</g>
<g stroke="#9a9a9a" stroke-dasharray="5 3" fill="none" shape-rendering="crispEdges"><line x1="1514.5" y1="33.3" x2="1514.5" y2="720.5" stroke-width="1"/><line x1="1614" y1="33.3" x2="1614" y2="720.5" stroke-width="2"/><line x1="1713.5" y1="33.3" x2="1713.5" y2="720.5" stroke-width="1"/><line x1="1813" y1="33.3" x2="1813" y2="720.5" stroke-width="2"/><line x1="1912" y1="33.3" x2="1912" y2="720.5" stroke-width="2"/><line x1="2012" y1="33.3" x2="2012" y2="720.5" stroke-width="2"/><line x1="2111" y1="33.3" x2="2111" y2="720.5" stroke-width="2"/><line x1="2211" y1="33.3" x2="2211" y2="720.5" stroke-width="2"/><line x1="1415" y1="583" x2="2310.3" y2="583" stroke-width="2"/><line x1="1415" y1="446" x2="2310.3" y2="446" stroke-width="2"/><line x1="1415" y1="308" x2="2310.3" y2="308" stroke-width="2"/><line x1="1415" y1="171" x2="2310.3" y2="171" stroke-width="2"/></g>
<ellipse cx="2110.0" cy="553.3" rx="113.5" ry="109.8" fill="none" stroke="#000" stroke-width="4.5"/>
<g font-size="33">
<text x="2087.35" y="430.8" fill="#9000ff">M8</text>
<text x="1963.35" y="488.8" fill="#00ff00">M6</text>
<text x="2211.35" y="485.3" fill="#00ff00">M7</text>
<text x="1944.35" y="565.3" fill="#ff0000">M4</text>
<text x="2229.35" y="561.3" fill="#ff0000">M5</text>
<text x="1963.85" y="643.3" fill="#000000">M2</text>
<text x="2211.85" y="643.3" fill="#000000">M3</text>
<text x="2088.35" y="700.3" fill="#0000ff">M1</text>
</g>
<clipPath id="clipb"><rect x="1417" y="35" width="892" height="684"/></clipPath>
<g clip-path="url(#clipb)" stroke-linejoin="round" stroke-linecap="round">
<path d="M1415.0 320.6L1424.9 329.7L1434.9 324.7L1444.8 323.9L1454.8 322.3L1464.7 315.7L1474.7 329.7L1484.6 321.5L1494.6 329.7L1504.5 333.8L1514.5 333.0L1524.4 331.3L1534.4 334.6L1544.3 324.7L1554.3 313.2L1564.2 307.5L1574.2 305.8L1584.1 310.8L1594.1 305.0L1604.0 306.6L1614.0 305.0L1623.9 303.4L1633.9 294.3L1643.8 285.3L1653.7 290.2L1663.7 290.2L1673.6 270.4L1683.6 271.3L1693.5 261.4L1703.5 260.4L1713.4 264.5L1723.4 253.8L1733.3 242.3L1743.3 248.9L1753.2 248.9L1763.2 234.9L1773.1 226.6L1783.1 227.5L1793.0 225.8L1803.0 225.8L1812.9 211.8L1822.9 220.9L1832.8 214.3L1842.8 206.1L1852.7 201.1L1862.7 211.0L1872.6 199.5L1882.5 201.1L1892.5 188.8L1902.4 202.8L1912.4 197.0L1922.3 201.1L1932.3 183.9L1942.2 201.1L1952.2 201.1L1962.1 192.9L1972.1 201.1L1982.0 192.1L1992.0 199.5L2001.9 194.6L2011.9 209.1L2021.8 205.8L2031.8 197.6L2041.7 201.7L2051.7 210.8L2061.6 214.0L2071.6 210.8L2081.5 210.8L2091.4 214.0L2101.4 214.0L2111.3 219.0L2121.3 228.9L2131.2 217.3L2141.2 214.0L2151.1 210.8L2161.1 217.3L2171.0 219.0L2181.0 210.8L2190.9 219.0L2200.9 221.5L2210.8 217.3L2220.8 211.6L2230.7 219.0L2240.7 210.8L2250.6 219.0L2260.6 242.0L2270.5 222.3L2280.5 233.8L2290.4 212.4L2300.4 217.3L2310.3 214.0" fill="none" stroke="#0000ff" stroke-width="3.8"/>
<circle cx="1415.0" cy="320.6" r="4.2" fill="none" stroke="#0000ff" stroke-width="2"/><circle cx="1424.9" cy="329.7" r="4.2" fill="none" stroke="#0000ff" stroke-width="2"/><circle cx="1434.9" cy="324.7" r="4.2" fill="none" stroke="#0000ff" stroke-width="2"/><circle cx="1444.8" cy="323.9" r="4.2" fill="none" stroke="#0000ff" stroke-width="2"/><circle cx="1454.8" cy="322.3" r="4.2" fill="none" stroke="#0000ff" stroke-width="2"/><circle cx="1464.7" cy="315.7" r="4.2" fill="none" stroke="#0000ff" stroke-width="2"/><circle cx="1474.7" cy="329.7" r="4.2" fill="none" stroke="#0000ff" stroke-width="2"/><circle cx="1484.6" cy="321.5" r="4.2" fill="none" stroke="#0000ff" stroke-width="2"/><circle cx="1494.6" cy="329.7" r="4.2" fill="none" stroke="#0000ff" stroke-width="2"/><circle cx="1504.5" cy="333.8" r="4.2" fill="none" stroke="#0000ff" stroke-width="2"/><circle cx="1514.5" cy="333.0" r="4.2" fill="none" stroke="#0000ff" stroke-width="2"/><circle cx="1524.4" cy="331.3" r="4.2" fill="none" stroke="#0000ff" stroke-width="2"/><circle cx="1534.4" cy="334.6" r="4.2" fill="none" stroke="#0000ff" stroke-width="2"/><circle cx="1544.3" cy="324.7" r="4.2" fill="none" stroke="#0000ff" stroke-width="2"/><circle cx="1554.3" cy="313.2" r="4.2" fill="none" stroke="#0000ff" stroke-width="2"/><circle cx="1564.2" cy="307.5" r="4.2" fill="none" stroke="#0000ff" stroke-width="2"/><circle cx="1574.2" cy="305.8" r="4.2" fill="none" stroke="#0000ff" stroke-width="2"/><circle cx="1584.1" cy="310.8" r="4.2" fill="none" stroke="#0000ff" stroke-width="2"/><circle cx="1594.1" cy="305.0" r="4.2" fill="none" stroke="#0000ff" stroke-width="2"/><circle cx="1604.0" cy="306.6" r="4.2" fill="none" stroke="#0000ff" stroke-width="2"/><circle cx="1614.0" cy="305.0" r="4.2" fill="none" stroke="#0000ff" stroke-width="2"/><circle cx="1623.9" cy="303.4" r="4.2" fill="none" stroke="#0000ff" stroke-width="2"/><circle cx="1633.9" cy="294.3" r="4.2" fill="none" stroke="#0000ff" stroke-width="2"/><circle cx="1643.8" cy="285.3" r="4.2" fill="none" stroke="#0000ff" stroke-width="2"/><circle cx="1653.7" cy="290.2" r="4.2" fill="none" stroke="#0000ff" stroke-width="2"/><circle cx="1663.7" cy="290.2" r="4.2" fill="none" stroke="#0000ff" stroke-width="2"/><circle cx="1673.6" cy="270.4" r="4.2" fill="none" stroke="#0000ff" stroke-width="2"/><circle cx="1683.6" cy="271.3" r="4.2" fill="none" stroke="#0000ff" stroke-width="2"/><circle cx="1693.5" cy="261.4" r="4.2" fill="none" stroke="#0000ff" stroke-width="2"/><circle cx="1703.5" cy="260.4" r="4.2" fill="none" stroke="#0000ff" stroke-width="2"/><circle cx="1713.4" cy="264.5" r="4.2" fill="none" stroke="#0000ff" stroke-width="2"/><circle cx="1723.4" cy="253.8" r="4.2" fill="none" stroke="#0000ff" stroke-width="2"/><circle cx="1733.3" cy="242.3" r="4.2" fill="none" stroke="#0000ff" stroke-width="2"/><circle cx="1743.3" cy="248.9" r="4.2" fill="none" stroke="#0000ff" stroke-width="2"/><circle cx="1753.2" cy="248.9" r="4.2" fill="none" stroke="#0000ff" stroke-width="2"/><circle cx="1763.2" cy="234.9" r="4.2" fill="none" stroke="#0000ff" stroke-width="2"/><circle cx="1773.1" cy="226.6" r="4.2" fill="none" stroke="#0000ff" stroke-width="2"/><circle cx="1783.1" cy="227.5" r="4.2" fill="none" stroke="#0000ff" stroke-width="2"/><circle cx="1793.0" cy="225.8" r="4.2" fill="none" stroke="#0000ff" stroke-width="2"/><circle cx="1803.0" cy="225.8" r="4.2" fill="none" stroke="#0000ff" stroke-width="2"/><circle cx="1812.9" cy="211.8" r="4.2" fill="none" stroke="#0000ff" stroke-width="2"/><circle cx="1822.9" cy="220.9" r="4.2" fill="none" stroke="#0000ff" stroke-width="2"/><circle cx="1832.8" cy="214.3" r="4.2" fill="none" stroke="#0000ff" stroke-width="2"/><circle cx="1842.8" cy="206.1" r="4.2" fill="none" stroke="#0000ff" stroke-width="2"/><circle cx="1852.7" cy="201.1" r="4.2" fill="none" stroke="#0000ff" stroke-width="2"/><circle cx="1862.7" cy="211.0" r="4.2" fill="none" stroke="#0000ff" stroke-width="2"/><circle cx="1872.6" cy="199.5" r="4.2" fill="none" stroke="#0000ff" stroke-width="2"/><circle cx="1882.5" cy="201.1" r="4.2" fill="none" stroke="#0000ff" stroke-width="2"/><circle cx="1892.5" cy="188.8" r="4.2" fill="none" stroke="#0000ff" stroke-width="2"/><circle cx="1902.4" cy="202.8" r="4.2" fill="none" stroke="#0000ff" stroke-width="2"/><circle cx="1912.4" cy="197.0" r="4.2" fill="none" stroke="#0000ff" stroke-width="2"/><circle cx="1922.3" cy="201.1" r="4.2" fill="none" stroke="#0000ff" stroke-width="2"/><circle cx="1932.3" cy="183.9" r="4.2" fill="none" stroke="#0000ff" stroke-width="2"/><circle cx="1942.2" cy="201.1" r="4.2" fill="none" stroke="#0000ff" stroke-width="2"/><circle cx="1952.2" cy="201.1" r="4.2" fill="none" stroke="#0000ff" stroke-width="2"/><circle cx="1962.1" cy="192.9" r="4.2" fill="none" stroke="#0000ff" stroke-width="2"/><circle cx="1972.1" cy="201.1" r="4.2" fill="none" stroke="#0000ff" stroke-width="2"/><circle cx="1982.0" cy="192.1" r="4.2" fill="none" stroke="#0000ff" stroke-width="2"/><circle cx="1992.0" cy="199.5" r="4.2" fill="none" stroke="#0000ff" stroke-width="2"/><circle cx="2001.9" cy="194.6" r="4.2" fill="none" stroke="#0000ff" stroke-width="2"/><circle cx="2011.9" cy="209.1" r="4.2" fill="none" stroke="#0000ff" stroke-width="2"/><circle cx="2021.8" cy="205.8" r="4.2" fill="none" stroke="#0000ff" stroke-width="2"/><circle cx="2031.8" cy="197.6" r="4.2" fill="none" stroke="#0000ff" stroke-width="2"/><circle cx="2041.7" cy="201.7" r="4.2" fill="none" stroke="#0000ff" stroke-width="2"/><circle cx="2051.7" cy="210.8" r="4.2" fill="none" stroke="#0000ff" stroke-width="2"/><circle cx="2061.6" cy="214.0" r="4.2" fill="none" stroke="#0000ff" stroke-width="2"/><circle cx="2071.6" cy="210.8" r="4.2" fill="none" stroke="#0000ff" stroke-width="2"/><circle cx="2081.5" cy="210.8" r="4.2" fill="none" stroke="#0000ff" stroke-width="2"/><circle cx="2091.4" cy="214.0" r="4.2" fill="none" stroke="#0000ff" stroke-width="2"/><circle cx="2101.4" cy="214.0" r="4.2" fill="none" stroke="#0000ff" stroke-width="2"/><circle cx="2111.3" cy="219.0" r="4.2" fill="none" stroke="#0000ff" stroke-width="2"/><circle cx="2121.3" cy="228.9" r="4.2" fill="none" stroke="#0000ff" stroke-width="2"/><circle cx="2131.2" cy="217.3" r="4.2" fill="none" stroke="#0000ff" stroke-width="2"/><circle cx="2141.2" cy="214.0" r="4.2" fill="none" stroke="#0000ff" stroke-width="2"/><circle cx="2151.1" cy="210.8" r="4.2" fill="none" stroke="#0000ff" stroke-width="2"/><circle cx="2161.1" cy="217.3" r="4.2" fill="none" stroke="#0000ff" stroke-width="2"/><circle cx="2171.0" cy="219.0" r="4.2" fill="none" stroke="#0000ff" stroke-width="2"/><circle cx="2181.0" cy="210.8" r="4.2" fill="none" stroke="#0000ff" stroke-width="2"/><circle cx="2190.9" cy="219.0" r="4.2" fill="none" stroke="#0000ff" stroke-width="2"/><circle cx="2200.9" cy="221.5" r="4.2" fill="none" stroke="#0000ff" stroke-width="2"/><circle cx="2210.8" cy="217.3" r="4.2" fill="none" stroke="#0000ff" stroke-width="2"/><circle cx="2220.8" cy="211.6" r="4.2" fill="none" stroke="#0000ff" stroke-width="2"/><circle cx="2230.7" cy="219.0" r="4.2" fill="none" stroke="#0000ff" stroke-width="2"/><circle cx="2240.7" cy="210.8" r="4.2" fill="none" stroke="#0000ff" stroke-width="2"/><circle cx="2250.6" cy="219.0" r="4.2" fill="none" stroke="#0000ff" stroke-width="2"/><circle cx="2260.6" cy="242.0" r="4.2" fill="none" stroke="#0000ff" stroke-width="2"/><circle cx="2270.5" cy="222.3" r="4.2" fill="none" stroke="#0000ff" stroke-width="2"/><circle cx="2280.5" cy="233.8" r="4.2" fill="none" stroke="#0000ff" stroke-width="2"/><circle cx="2290.4" cy="212.4" r="4.2" fill="none" stroke="#0000ff" stroke-width="2"/><circle cx="2300.4" cy="217.3" r="4.2" fill="none" stroke="#0000ff" stroke-width="2"/><circle cx="2310.3" cy="214.0" r="4.2" fill="none" stroke="#0000ff" stroke-width="2"/>
<path d="M1415.0 286.0L1424.9 287.0L1434.9 276.2L1444.8 289.3L1454.8 286.9L1464.7 283.8L1474.7 278.6L1484.6 278.7L1494.6 291.3L1504.5 285.0L1514.5 286.1L1524.4 280.7L1534.4 291.0L1544.3 297.4L1554.3 292.2L1564.2 296.7L1574.2 296.1L1584.1 290.3L1594.1 288.0L1604.0 285.5L1614.0 276.3L1623.9 264.5L1633.9 263.1L1643.8 276.1L1653.7 262.4L1663.7 265.0L1673.6 261.3L1683.6 267.1L1693.5 260.5L1703.5 252.0L1713.4 254.6L1723.4 254.1L1733.3 240.6L1743.3 257.4L1753.2 238.1L1763.2 245.2L1773.1 237.5L1783.1 240.0L1793.0 240.5L1803.0 234.4L1812.9 227.1L1822.9 225.3L1832.8 220.5L1842.8 224.9L1852.7 232.9L1862.7 220.7L1872.6 207.6L1882.5 205.9L1892.5 200.4L1902.4 205.1L1912.4 201.8L1922.3 200.5L1932.3 201.1L1942.2 200.2L1952.2 203.0L1962.1 201.8L1972.1 201.9L1982.0 197.3L1992.0 217.4L2001.9 215.4L2011.9 218.2L2021.8 219.5L2031.8 224.8L2041.7 222.8L2051.7 230.5L2061.6 228.4L2071.6 221.5L2081.5 208.2L2091.4 209.7L2101.4 206.9L2111.3 212.5L2121.3 217.2L2131.2 202.8L2141.2 208.0L2151.1 205.9L2161.1 217.6L2171.0 220.7L2181.0 218.8L2190.9 220.0L2200.9 221.8L2210.8 221.5L2220.8 222.1L2230.7 221.9L2240.7 221.4L2250.6 231.6L2260.6 244.3L2270.5 226.3L2280.5 226.7L2290.4 224.8L2300.4 229.9L2310.3 221.7" fill="none" stroke="#000000" stroke-width="4.2"/>
<path d="M1409.5 286.0H1420.5M1415.0 280.5V291.5" stroke="#000000" stroke-width="1.7" fill="none"/><path d="M1419.4 287.0H1430.4M1424.9 281.5V292.5" stroke="#000000" stroke-width="1.7" fill="none"/><path d="M1429.4 276.2H1440.4M1434.9 270.7V281.7" stroke="#000000" stroke-width="1.7" fill="none"/><path d="M1439.3 289.3H1450.3M1444.8 283.8V294.8" stroke="#000000" stroke-width="1.7" fill="none"/><path d="M1449.3 286.9H1460.3M1454.8 281.4V292.4" stroke="#000000" stroke-width="1.7" fill="none"/><path d="M1459.2 283.8H1470.2M1464.7 278.3V289.3" stroke="#000000" stroke-width="1.7" fill="none"/><path d="M1469.2 278.6H1480.2M1474.7 273.1V284.1" stroke="#000000" stroke-width="1.7" fill="none"/><path d="M1479.1 278.7H1490.1M1484.6 273.2V284.2" stroke="#000000" stroke-width="1.7" fill="none"/><path d="M1489.1 291.3H1500.1M1494.6 285.8V296.8" stroke="#000000" stroke-width="1.7" fill="none"/><path d="M1499.0 285.0H1510.0M1504.5 279.5V290.5" stroke="#000000" stroke-width="1.7" fill="none"/><path d="M1509.0 286.1H1520.0M1514.5 280.6V291.6" stroke="#000000" stroke-width="1.7" fill="none"/><path d="M1518.9 280.7H1529.9M1524.4 275.2V286.2" stroke="#000000" stroke-width="1.7" fill="none"/><path d="M1528.9 291.0H1539.9M1534.4 285.5V296.5" stroke="#000000" stroke-width="1.7" fill="none"/><path d="M1538.8 297.4H1549.8M1544.3 291.9V302.9" stroke="#000000" stroke-width="1.7" fill="none"/><path d="M1548.8 292.2H1559.8M1554.3 286.7V297.7" stroke="#000000" stroke-width="1.7" fill="none"/><path d="M1558.7 296.7H1569.7M1564.2 291.2V302.2" stroke="#000000" stroke-width="1.7" fill="none"/><path d="M1568.7 296.1H1579.7M1574.2 290.6V301.6" stroke="#000000" stroke-width="1.7" fill="none"/><path d="M1578.6 290.3H1589.6M1584.1 284.8V295.8" stroke="#000000" stroke-width="1.7" fill="none"/><path d="M1588.6 288.0H1599.6M1594.1 282.5V293.5" stroke="#000000" stroke-width="1.7" fill="none"/><path d="M1598.5 285.5H1609.5M1604.0 280.0V291.0" stroke="#000000" stroke-width="1.7" fill="none"/><path d="M1608.5 276.3H1619.5M1614.0 270.8V281.8" stroke="#000000" stroke-width="1.7" fill="none"/><path d="M1618.4 264.5H1629.4M1623.9 259.0V270.0" stroke="#000000" stroke-width="1.7" fill="none"/><path d="M1628.4 263.1H1639.4M1633.9 257.6V268.6" stroke="#000000" stroke-width="1.7" fill="none"/><path d="M1638.3 276.1H1649.3M1643.8 270.6V281.6" stroke="#000000" stroke-width="1.7" fill="none"/><path d="M1648.2 262.4H1659.2M1653.7 256.9V267.9" stroke="#000000" stroke-width="1.7" fill="none"/><path d="M1658.2 265.0H1669.2M1663.7 259.5V270.5" stroke="#000000" stroke-width="1.7" fill="none"/><path d="M1668.1 261.3H1679.1M1673.6 255.8V266.8" stroke="#000000" stroke-width="1.7" fill="none"/><path d="M1678.1 267.1H1689.1M1683.6 261.6V272.6" stroke="#000000" stroke-width="1.7" fill="none"/><path d="M1688.0 260.5H1699.0M1693.5 255.0V266.0" stroke="#000000" stroke-width="1.7" fill="none"/><path d="M1698.0 252.0H1709.0M1703.5 246.5V257.5" stroke="#000000" stroke-width="1.7" fill="none"/><path d="M1707.9 254.6H1718.9M1713.4 249.1V260.1" stroke="#000000" stroke-width="1.7" fill="none"/><path d="M1717.9 254.1H1728.9M1723.4 248.6V259.6" stroke="#000000" stroke-width="1.7" fill="none"/><path d="M1727.8 240.6H1738.8M1733.3 235.1V246.1" stroke="#000000" stroke-width="1.7" fill="none"/><path d="M1737.8 257.4H1748.8M1743.3 251.9V262.9" stroke="#000000" stroke-width="1.7" fill="none"/><path d="M1747.7 238.1H1758.7M1753.2 232.6V243.6" stroke="#000000" stroke-width="1.7" fill="none"/><path d="M1757.7 245.2H1768.7M1763.2 239.7V250.7" stroke="#000000" stroke-width="1.7" fill="none"/><path d="M1767.6 237.5H1778.6M1773.1 232.0V243.0" stroke="#000000" stroke-width="1.7" fill="none"/><path d="M1777.6 240.0H1788.6M1783.1 234.5V245.5" stroke="#000000" stroke-width="1.7" fill="none"/><path d="M1787.5 240.5H1798.5M1793.0 235.0V246.0" stroke="#000000" stroke-width="1.7" fill="none"/><path d="M1797.5 234.4H1808.5M1803.0 228.9V239.9" stroke="#000000" stroke-width="1.7" fill="none"/><path d="M1807.4 227.1H1818.4M1812.9 221.6V232.6" stroke="#000000" stroke-width="1.7" fill="none"/><path d="M1817.4 225.3H1828.4M1822.9 219.8V230.8" stroke="#000000" stroke-width="1.7" fill="none"/><path d="M1827.3 220.5H1838.3M1832.8 215.0V226.0" stroke="#000000" stroke-width="1.7" fill="none"/><path d="M1837.3 224.9H1848.3M1842.8 219.4V230.4" stroke="#000000" stroke-width="1.7" fill="none"/><path d="M1847.2 232.9H1858.2M1852.7 227.4V238.4" stroke="#000000" stroke-width="1.7" fill="none"/><path d="M1857.2 220.7H1868.2M1862.7 215.2V226.2" stroke="#000000" stroke-width="1.7" fill="none"/><path d="M1867.1 207.6H1878.1M1872.6 202.1V213.1" stroke="#000000" stroke-width="1.7" fill="none"/><path d="M1877.0 205.9H1888.0M1882.5 200.4V211.4" stroke="#000000" stroke-width="1.7" fill="none"/><path d="M1887.0 200.4H1898.0M1892.5 194.9V205.9" stroke="#000000" stroke-width="1.7" fill="none"/><path d="M1896.9 205.1H1907.9M1902.4 199.6V210.6" stroke="#000000" stroke-width="1.7" fill="none"/><path d="M1906.9 201.8H1917.9M1912.4 196.3V207.3" stroke="#000000" stroke-width="1.7" fill="none"/><path d="M1916.8 200.5H1927.8M1922.3 195.0V206.0" stroke="#000000" stroke-width="1.7" fill="none"/><path d="M1926.8 201.1H1937.8M1932.3 195.6V206.6" stroke="#000000" stroke-width="1.7" fill="none"/><path d="M1936.7 200.2H1947.7M1942.2 194.7V205.7" stroke="#000000" stroke-width="1.7" fill="none"/><path d="M1946.7 203.0H1957.7M1952.2 197.5V208.5" stroke="#000000" stroke-width="1.7" fill="none"/><path d="M1956.6 201.8H1967.6M1962.1 196.3V207.3" stroke="#000000" stroke-width="1.7" fill="none"/><path d="M1966.6 201.9H1977.6M1972.1 196.4V207.4" stroke="#000000" stroke-width="1.7" fill="none"/><path d="M1976.5 197.3H1987.5M1982.0 191.8V202.8" stroke="#000000" stroke-width="1.7" fill="none"/><path d="M1986.5 217.4H1997.5M1992.0 211.9V222.9" stroke="#000000" stroke-width="1.7" fill="none"/><path d="M1996.4 215.4H2007.4M2001.9 209.9V220.9" stroke="#000000" stroke-width="1.7" fill="none"/><path d="M2006.4 218.2H2017.4M2011.9 212.7V223.7" stroke="#000000" stroke-width="1.7" fill="none"/><path d="M2016.3 219.5H2027.3M2021.8 214.0V225.0" stroke="#000000" stroke-width="1.7" fill="none"/><path d="M2026.3 224.8H2037.3M2031.8 219.3V230.3" stroke="#000000" stroke-width="1.7" fill="none"/><path d="M2036.2 222.8H2047.2M2041.7 217.3V228.3" stroke="#000000" stroke-width="1.7" fill="none"/><path d="M2046.2 230.5H2057.2M2051.7 225.0V236.0" stroke="#000000" stroke-width="1.7" fill="none"/><path d="M2056.1 228.4H2067.1M2061.6 222.9V233.9" stroke="#000000" stroke-width="1.7" fill="none"/><path d="M2066.1 221.5H2077.1M2071.6 216.0V227.0" stroke="#000000" stroke-width="1.7" fill="none"/><path d="M2076.0 208.2H2087.0M2081.5 202.7V213.7" stroke="#000000" stroke-width="1.7" fill="none"/><path d="M2085.9 209.7H2096.9M2091.4 204.2V215.2" stroke="#000000" stroke-width="1.7" fill="none"/><path d="M2095.9 206.9H2106.9M2101.4 201.4V212.4" stroke="#000000" stroke-width="1.7" fill="none"/><path d="M2105.8 212.5H2116.8M2111.3 207.0V218.0" stroke="#000000" stroke-width="1.7" fill="none"/><path d="M2115.8 217.2H2126.8M2121.3 211.7V222.7" stroke="#000000" stroke-width="1.7" fill="none"/><path d="M2125.7 202.8H2136.7M2131.2 197.3V208.3" stroke="#000000" stroke-width="1.7" fill="none"/><path d="M2135.7 208.0H2146.7M2141.2 202.5V213.5" stroke="#000000" stroke-width="1.7" fill="none"/><path d="M2145.6 205.9H2156.6M2151.1 200.4V211.4" stroke="#000000" stroke-width="1.7" fill="none"/><path d="M2155.6 217.6H2166.6M2161.1 212.1V223.1" stroke="#000000" stroke-width="1.7" fill="none"/><path d="M2165.5 220.7H2176.5M2171.0 215.2V226.2" stroke="#000000" stroke-width="1.7" fill="none"/><path d="M2175.5 218.8H2186.5M2181.0 213.3V224.3" stroke="#000000" stroke-width="1.7" fill="none"/><path d="M2185.4 220.0H2196.4M2190.9 214.5V225.5" stroke="#000000" stroke-width="1.7" fill="none"/><path d="M2195.4 221.8H2206.4M2200.9 216.3V227.3" stroke="#000000" stroke-width="1.7" fill="none"/><path d="M2205.3 221.5H2216.3M2210.8 216.0V227.0" stroke="#000000" stroke-width="1.7" fill="none"/><path d="M2215.3 222.1H2226.3M2220.8 216.6V227.6" stroke="#000000" stroke-width="1.7" fill="none"/><path d="M2225.2 221.9H2236.2M2230.7 216.4V227.4" stroke="#000000" stroke-width="1.7" fill="none"/><path d="M2235.2 221.4H2246.2M2240.7 215.9V226.9" stroke="#000000" stroke-width="1.7" fill="none"/><path d="M2245.1 231.6H2256.1M2250.6 226.1V237.1" stroke="#000000" stroke-width="1.7" fill="none"/><path d="M2255.1 244.3H2266.1M2260.6 238.8V249.8" stroke="#000000" stroke-width="1.7" fill="none"/><path d="M2265.0 226.3H2276.0M2270.5 220.8V231.8" stroke="#000000" stroke-width="1.7" fill="none"/><path d="M2275.0 226.7H2286.0M2280.5 221.2V232.2" stroke="#000000" stroke-width="1.7" fill="none"/><path d="M2284.9 224.8H2295.9M2290.4 219.3V230.3" stroke="#000000" stroke-width="1.7" fill="none"/><path d="M2294.9 229.9H2305.9M2300.4 224.4V235.4" stroke="#000000" stroke-width="1.7" fill="none"/><path d="M2304.8 221.7H2315.8M2310.3 216.2V227.2" stroke="#000000" stroke-width="1.7" fill="none"/>
<path d="M1415.0 286.1L1424.9 286.9L1434.9 275.4L1444.8 289.4L1454.8 286.9L1464.7 283.6L1474.7 279.2L1484.6 278.7L1494.6 291.0L1504.5 284.4L1514.5 286.9L1524.4 281.1L1534.4 291.8L1544.3 296.8L1554.3 291.8L1564.2 297.6L1574.2 295.1L1584.1 289.4L1594.1 287.7L1604.0 285.3L1614.0 277.0L1623.9 265.5L1633.9 263.0L1643.8 277.0L1653.7 263.0L1663.7 265.5L1673.6 262.2L1683.6 267.2L1693.5 260.6L1703.5 251.3L1713.4 254.6L1723.4 253.8L1733.3 240.6L1743.3 257.1L1753.2 238.2L1763.2 245.6L1773.1 236.5L1783.1 239.0L1793.0 239.8L1803.0 234.0L1812.9 227.5L1822.9 225.8L1832.8 220.9L1842.8 225.8L1852.7 232.4L1862.7 220.9L1872.6 206.9L1882.5 206.1L1892.5 199.5L1902.4 204.4L1912.4 202.8L1922.3 201.1L1932.3 200.3L1942.2 200.3L1952.2 202.0L1962.1 202.0L1972.1 202.8L1982.0 197.0L1992.0 216.8L2001.9 215.9L2011.9 219.0L2021.8 219.8L2031.8 223.9L2041.7 222.3L2051.7 231.3L2061.6 228.9L2071.6 222.3L2081.5 209.1L2091.4 209.1L2101.4 207.5L2111.3 212.4L2121.3 217.3L2131.2 203.4L2141.2 207.5L2151.1 206.6L2161.1 217.3L2171.0 221.5L2181.0 219.0L2190.9 220.6L2200.9 222.3L2210.8 220.6L2220.8 221.5L2230.7 222.3L2240.7 220.6L2250.6 232.2L2260.6 244.5L2270.5 225.6L2280.5 226.4L2290.4 225.6L2300.4 228.9L2310.3 222.3" fill="none" stroke="#000000" stroke-width="3"/>
<path d="M1408.8 286.1H1421.2M1415.0 279.9V292.3" stroke="#000000" stroke-width="1.3" fill="none"/><path d="M1409.4 280.5L1420.6 291.7M1409.4 291.7L1420.6 280.5" stroke="#000000" stroke-width="2" fill="none"/><path d="M1418.7 286.9H1431.1M1424.9 280.7V293.1" stroke="#000000" stroke-width="1.3" fill="none"/><path d="M1419.3 281.3L1430.5 292.5M1419.3 292.5L1430.5 281.3" stroke="#000000" stroke-width="2" fill="none"/><path d="M1428.7 275.4H1441.1M1434.9 269.2V281.6" stroke="#000000" stroke-width="1.3" fill="none"/><path d="M1429.3 269.8L1440.5 281.0M1429.3 281.0L1440.5 269.8" stroke="#000000" stroke-width="2" fill="none"/><path d="M1438.6 289.4H1451.0M1444.8 283.2V295.6" stroke="#000000" stroke-width="1.3" fill="none"/><path d="M1439.2 283.8L1450.4 295.0M1439.2 295.0L1450.4 283.8" stroke="#000000" stroke-width="2" fill="none"/><path d="M1448.6 286.9H1461.0M1454.8 280.7V293.1" stroke="#000000" stroke-width="1.3" fill="none"/><path d="M1449.2 281.3L1460.4 292.5M1449.2 292.5L1460.4 281.3" stroke="#000000" stroke-width="2" fill="none"/><path d="M1458.5 283.6H1470.9M1464.7 277.4V289.8" stroke="#000000" stroke-width="1.3" fill="none"/><path d="M1459.1 278.0L1470.3 289.2M1459.1 289.2L1470.3 278.0" stroke="#000000" stroke-width="2" fill="none"/><path d="M1468.5 279.2H1480.9M1474.7 273.0V285.4" stroke="#000000" stroke-width="1.3" fill="none"/><path d="M1469.1 273.6L1480.3 284.8M1469.1 284.8L1480.3 273.6" stroke="#000000" stroke-width="2" fill="none"/><path d="M1478.4 278.7H1490.8M1484.6 272.5V284.9" stroke="#000000" stroke-width="1.3" fill="none"/><path d="M1479.0 273.1L1490.2 284.3M1479.0 284.3L1490.2 273.1" stroke="#000000" stroke-width="2" fill="none"/><path d="M1488.4 291.0H1500.8M1494.6 284.8V297.2" stroke="#000000" stroke-width="1.3" fill="none"/><path d="M1489.0 285.4L1500.2 296.6M1489.0 296.6L1500.2 285.4" stroke="#000000" stroke-width="2" fill="none"/><path d="M1498.3 284.4H1510.7M1504.5 278.2V290.6" stroke="#000000" stroke-width="1.3" fill="none"/><path d="M1498.9 278.8L1510.1 290.0M1498.9 290.0L1510.1 278.8" stroke="#000000" stroke-width="2" fill="none"/><path d="M1508.3 286.9H1520.7M1514.5 280.7V293.1" stroke="#000000" stroke-width="1.3" fill="none"/><path d="M1508.9 281.3L1520.1 292.5M1508.9 292.5L1520.1 281.3" stroke="#000000" stroke-width="2" fill="none"/><path d="M1518.2 281.1H1530.6M1524.4 274.9V287.3" stroke="#000000" stroke-width="1.3" fill="none"/><path d="M1518.8 275.5L1530.0 286.7M1518.8 286.7L1530.0 275.5" stroke="#000000" stroke-width="2" fill="none"/><path d="M1528.2 291.8H1540.6M1534.4 285.6V298.0" stroke="#000000" stroke-width="1.3" fill="none"/><path d="M1528.8 286.2L1540.0 297.4M1528.8 297.4L1540.0 286.2" stroke="#000000" stroke-width="2" fill="none"/><path d="M1538.1 296.8H1550.5M1544.3 290.6V303.0" stroke="#000000" stroke-width="1.3" fill="none"/><path d="M1538.7 291.2L1549.9 302.4M1538.7 302.4L1549.9 291.2" stroke="#000000" stroke-width="2" fill="none"/><path d="M1548.1 291.8H1560.5M1554.3 285.6V298.0" stroke="#000000" stroke-width="1.3" fill="none"/><path d="M1548.7 286.2L1559.9 297.4M1548.7 297.4L1559.9 286.2" stroke="#000000" stroke-width="2" fill="none"/><path d="M1558.0 297.6H1570.4M1564.2 291.4V303.8" stroke="#000000" stroke-width="1.3" fill="none"/><path d="M1558.6 292.0L1569.8 303.2M1558.6 303.2L1569.8 292.0" stroke="#000000" stroke-width="2" fill="none"/><path d="M1568.0 295.1H1580.4M1574.2 288.9V301.3" stroke="#000000" stroke-width="1.3" fill="none"/><path d="M1568.6 289.5L1579.8 300.7M1568.6 300.7L1579.8 289.5" stroke="#000000" stroke-width="2" fill="none"/><path d="M1577.9 289.4H1590.3M1584.1 283.2V295.6" stroke="#000000" stroke-width="1.3" fill="none"/><path d="M1578.5 283.8L1589.7 295.0M1578.5 295.0L1589.7 283.8" stroke="#000000" stroke-width="2" fill="none"/><path d="M1587.9 287.7H1600.3M1594.1 281.5V293.9" stroke="#000000" stroke-width="1.3" fill="none"/><path d="M1588.5 282.1L1599.7 293.3M1588.5 293.3L1599.7 282.1" stroke="#000000" stroke-width="2" fill="none"/><path d="M1597.8 285.3H1610.2M1604.0 279.1V291.5" stroke="#000000" stroke-width="1.3" fill="none"/><path d="M1598.4 279.7L1609.6 290.9M1598.4 290.9L1609.6 279.7" stroke="#000000" stroke-width="2" fill="none"/><path d="M1607.8 277.0H1620.2M1614.0 270.8V283.2" stroke="#000000" stroke-width="1.3" fill="none"/><path d="M1608.4 271.4L1619.6 282.6M1608.4 282.6L1619.6 271.4" stroke="#000000" stroke-width="2" fill="none"/><path d="M1617.7 265.5H1630.1M1623.9 259.3V271.7" stroke="#000000" stroke-width="1.3" fill="none"/><path d="M1618.3 259.9L1629.5 271.1M1618.3 271.1L1629.5 259.9" stroke="#000000" stroke-width="2" fill="none"/><path d="M1627.7 263.0H1640.1M1633.9 256.8V269.2" stroke="#000000" stroke-width="1.3" fill="none"/><path d="M1628.3 257.4L1639.5 268.6M1628.3 268.6L1639.5 257.4" stroke="#000000" stroke-width="2" fill="none"/><path d="M1637.6 277.0H1650.0M1643.8 270.8V283.2" stroke="#000000" stroke-width="1.3" fill="none"/><path d="M1638.2 271.4L1649.4 282.6M1638.2 282.6L1649.4 271.4" stroke="#000000" stroke-width="2" fill="none"/><path d="M1647.5 263.0H1659.9M1653.7 256.8V269.2" stroke="#000000" stroke-width="1.3" fill="none"/><path d="M1648.1 257.4L1659.3 268.6M1648.1 268.6L1659.3 257.4" stroke="#000000" stroke-width="2" fill="none"/><path d="M1657.5 265.5H1669.9M1663.7 259.3V271.7" stroke="#000000" stroke-width="1.3" fill="none"/><path d="M1658.1 259.9L1669.3 271.1M1658.1 271.1L1669.3 259.9" stroke="#000000" stroke-width="2" fill="none"/><path d="M1667.4 262.2H1679.8M1673.6 256.0V268.4" stroke="#000000" stroke-width="1.3" fill="none"/><path d="M1668.0 256.6L1679.2 267.8M1668.0 267.8L1679.2 256.6" stroke="#000000" stroke-width="2" fill="none"/><path d="M1677.4 267.2H1689.8M1683.6 261.0V273.4" stroke="#000000" stroke-width="1.3" fill="none"/><path d="M1678.0 261.6L1689.2 272.8M1678.0 272.8L1689.2 261.6" stroke="#000000" stroke-width="2" fill="none"/><path d="M1687.3 260.6H1699.7M1693.5 254.4V266.8" stroke="#000000" stroke-width="1.3" fill="none"/><path d="M1687.9 255.0L1699.1 266.2M1687.9 266.2L1699.1 255.0" stroke="#000000" stroke-width="2" fill="none"/><path d="M1697.3 251.3H1709.7M1703.5 245.1V257.5" stroke="#000000" stroke-width="1.3" fill="none"/><path d="M1697.9 245.7L1709.1 256.9M1697.9 256.9L1709.1 245.7" stroke="#000000" stroke-width="2" fill="none"/><path d="M1707.2 254.6H1719.6M1713.4 248.4V260.8" stroke="#000000" stroke-width="1.3" fill="none"/><path d="M1707.8 249.0L1719.0 260.2M1707.8 260.2L1719.0 249.0" stroke="#000000" stroke-width="2" fill="none"/><path d="M1717.2 253.8H1729.6M1723.4 247.6V260.0" stroke="#000000" stroke-width="1.3" fill="none"/><path d="M1717.8 248.2L1729.0 259.4M1717.8 259.4L1729.0 248.2" stroke="#000000" stroke-width="2" fill="none"/><path d="M1727.1 240.6H1739.5M1733.3 234.4V246.8" stroke="#000000" stroke-width="1.3" fill="none"/><path d="M1727.7 235.0L1738.9 246.2M1727.7 246.2L1738.9 235.0" stroke="#000000" stroke-width="2" fill="none"/><path d="M1737.1 257.1H1749.5M1743.3 250.9V263.3" stroke="#000000" stroke-width="1.3" fill="none"/><path d="M1737.7 251.5L1748.9 262.7M1737.7 262.7L1748.9 251.5" stroke="#000000" stroke-width="2" fill="none"/><path d="M1747.0 238.2H1759.4M1753.2 232.0V244.4" stroke="#000000" stroke-width="1.3" fill="none"/><path d="M1747.6 232.6L1758.8 243.8M1747.6 243.8L1758.8 232.6" stroke="#000000" stroke-width="2" fill="none"/><path d="M1757.0 245.6H1769.4M1763.2 239.4V251.8" stroke="#000000" stroke-width="1.3" fill="none"/><path d="M1757.6 240.0L1768.8 251.2M1757.6 251.2L1768.8 240.0" stroke="#000000" stroke-width="2" fill="none"/><path d="M1766.9 236.5H1779.3M1773.1 230.3V242.7" stroke="#000000" stroke-width="1.3" fill="none"/><path d="M1767.5 230.9L1778.7 242.1M1767.5 242.1L1778.7 230.9" stroke="#000000" stroke-width="2" fill="none"/><path d="M1776.9 239.0H1789.3M1783.1 232.8V245.2" stroke="#000000" stroke-width="1.3" fill="none"/><path d="M1777.5 233.4L1788.7 244.6M1777.5 244.6L1788.7 233.4" stroke="#000000" stroke-width="2" fill="none"/><path d="M1786.8 239.8H1799.2M1793.0 233.6V246.0" stroke="#000000" stroke-width="1.3" fill="none"/><path d="M1787.4 234.2L1798.6 245.4M1787.4 245.4L1798.6 234.2" stroke="#000000" stroke-width="2" fill="none"/><path d="M1796.8 234.0H1809.2M1803.0 227.8V240.2" stroke="#000000" stroke-width="1.3" fill="none"/><path d="M1797.4 228.4L1808.6 239.6M1797.4 239.6L1808.6 228.4" stroke="#000000" stroke-width="2" fill="none"/><path d="M1806.7 227.5H1819.1M1812.9 221.3V233.7" stroke="#000000" stroke-width="1.3" fill="none"/><path d="M1807.3 221.9L1818.5 233.1M1807.3 233.1L1818.5 221.9" stroke="#000000" stroke-width="2" fill="none"/><path d="M1816.7 225.8H1829.1M1822.9 219.6V232.0" stroke="#000000" stroke-width="1.3" fill="none"/><path d="M1817.3 220.2L1828.5 231.4M1817.3 231.4L1828.5 220.2" stroke="#000000" stroke-width="2" fill="none"/><path d="M1826.6 220.9H1839.0M1832.8 214.7V227.1" stroke="#000000" stroke-width="1.3" fill="none"/><path d="M1827.2 215.3L1838.4 226.5M1827.2 226.5L1838.4 215.3" stroke="#000000" stroke-width="2" fill="none"/><path d="M1836.6 225.8H1849.0M1842.8 219.6V232.0" stroke="#000000" stroke-width="1.3" fill="none"/><path d="M1837.2 220.2L1848.4 231.4M1837.2 231.4L1848.4 220.2" stroke="#000000" stroke-width="2" fill="none"/><path d="M1846.5 232.4H1858.9M1852.7 226.2V238.6" stroke="#000000" stroke-width="1.3" fill="none"/><path d="M1847.1 226.8L1858.3 238.0M1847.1 238.0L1858.3 226.8" stroke="#000000" stroke-width="2" fill="none"/><path d="M1856.5 220.9H1868.9M1862.7 214.7V227.1" stroke="#000000" stroke-width="1.3" fill="none"/><path d="M1857.1 215.3L1868.3 226.5M1857.1 226.5L1868.3 215.3" stroke="#000000" stroke-width="2" fill="none"/><path d="M1866.4 206.9H1878.8M1872.6 200.7V213.1" stroke="#000000" stroke-width="1.3" fill="none"/><path d="M1867.0 201.3L1878.2 212.5M1867.0 212.5L1878.2 201.3" stroke="#000000" stroke-width="2" fill="none"/><path d="M1876.3 206.1H1888.7M1882.5 199.9V212.3" stroke="#000000" stroke-width="1.3" fill="none"/><path d="M1876.9 200.5L1888.1 211.7M1876.9 211.7L1888.1 200.5" stroke="#000000" stroke-width="2" fill="none"/><path d="M1886.3 199.5H1898.7M1892.5 193.3V205.7" stroke="#000000" stroke-width="1.3" fill="none"/><path d="M1886.9 193.9L1898.1 205.1M1886.9 205.1L1898.1 193.9" stroke="#000000" stroke-width="2" fill="none"/><path d="M1896.2 204.4H1908.6M1902.4 198.2V210.6" stroke="#000000" stroke-width="1.3" fill="none"/><path d="M1896.8 198.8L1908.0 210.0M1896.8 210.0L1908.0 198.8" stroke="#000000" stroke-width="2" fill="none"/><path d="M1906.2 202.8H1918.6M1912.4 196.6V209.0" stroke="#000000" stroke-width="1.3" fill="none"/><path d="M1906.8 197.2L1918.0 208.4M1906.8 208.4L1918.0 197.2" stroke="#000000" stroke-width="2" fill="none"/><path d="M1916.1 201.1H1928.5M1922.3 194.9V207.3" stroke="#000000" stroke-width="1.3" fill="none"/><path d="M1916.7 195.5L1927.9 206.7M1916.7 206.7L1927.9 195.5" stroke="#000000" stroke-width="2" fill="none"/><path d="M1926.1 200.3H1938.5M1932.3 194.1V206.5" stroke="#000000" stroke-width="1.3" fill="none"/><path d="M1926.7 194.7L1937.9 205.9M1926.7 205.9L1937.9 194.7" stroke="#000000" stroke-width="2" fill="none"/><path d="M1936.0 200.3H1948.4M1942.2 194.1V206.5" stroke="#000000" stroke-width="1.3" fill="none"/><path d="M1936.6 194.7L1947.8 205.9M1936.6 205.9L1947.8 194.7" stroke="#000000" stroke-width="2" fill="none"/><path d="M1946.0 202.0H1958.4M1952.2 195.8V208.2" stroke="#000000" stroke-width="1.3" fill="none"/><path d="M1946.6 196.4L1957.8 207.6M1946.6 207.6L1957.8 196.4" stroke="#000000" stroke-width="2" fill="none"/><path d="M1955.9 202.0H1968.3M1962.1 195.8V208.2" stroke="#000000" stroke-width="1.3" fill="none"/><path d="M1956.5 196.4L1967.7 207.6M1956.5 207.6L1967.7 196.4" stroke="#000000" stroke-width="2" fill="none"/><path d="M1965.9 202.8H1978.3M1972.1 196.6V209.0" stroke="#000000" stroke-width="1.3" fill="none"/><path d="M1966.5 197.2L1977.7 208.4M1966.5 208.4L1977.7 197.2" stroke="#000000" stroke-width="2" fill="none"/><path d="M1975.8 197.0H1988.2M1982.0 190.8V203.2" stroke="#000000" stroke-width="1.3" fill="none"/><path d="M1976.4 191.4L1987.6 202.6M1976.4 202.6L1987.6 191.4" stroke="#000000" stroke-width="2" fill="none"/><path d="M1985.8 216.8H1998.2M1992.0 210.6V223.0" stroke="#000000" stroke-width="1.3" fill="none"/><path d="M1986.4 211.2L1997.6 222.4M1986.4 222.4L1997.6 211.2" stroke="#000000" stroke-width="2" fill="none"/><path d="M1995.7 215.9H2008.1M2001.9 209.7V222.1" stroke="#000000" stroke-width="1.3" fill="none"/><path d="M1996.3 210.3L2007.5 221.5M1996.3 221.5L2007.5 210.3" stroke="#000000" stroke-width="2" fill="none"/><path d="M2005.7 219.0H2018.1M2011.9 212.8V225.2" stroke="#000000" stroke-width="1.3" fill="none"/><path d="M2006.3 213.4L2017.5 224.6M2006.3 224.6L2017.5 213.4" stroke="#000000" stroke-width="2" fill="none"/><path d="M2015.6 219.8H2028.0M2021.8 213.6V226.0" stroke="#000000" stroke-width="1.3" fill="none"/><path d="M2016.2 214.2L2027.4 225.4M2016.2 225.4L2027.4 214.2" stroke="#000000" stroke-width="2" fill="none"/><path d="M2025.6 223.9H2038.0M2031.8 217.7V230.1" stroke="#000000" stroke-width="1.3" fill="none"/><path d="M2026.2 218.3L2037.4 229.5M2026.2 229.5L2037.4 218.3" stroke="#000000" stroke-width="2" fill="none"/><path d="M2035.5 222.3H2047.9M2041.7 216.1V228.5" stroke="#000000" stroke-width="1.3" fill="none"/><path d="M2036.1 216.7L2047.3 227.9M2036.1 227.9L2047.3 216.7" stroke="#000000" stroke-width="2" fill="none"/><path d="M2045.5 231.3H2057.9M2051.7 225.1V237.5" stroke="#000000" stroke-width="1.3" fill="none"/><path d="M2046.1 225.7L2057.3 236.9M2046.1 236.9L2057.3 225.7" stroke="#000000" stroke-width="2" fill="none"/><path d="M2055.4 228.9H2067.8M2061.6 222.7V235.1" stroke="#000000" stroke-width="1.3" fill="none"/><path d="M2056.0 223.3L2067.2 234.5M2056.0 234.5L2067.2 223.3" stroke="#000000" stroke-width="2" fill="none"/><path d="M2065.4 222.3H2077.8M2071.6 216.1V228.5" stroke="#000000" stroke-width="1.3" fill="none"/><path d="M2066.0 216.7L2077.2 227.9M2066.0 227.9L2077.2 216.7" stroke="#000000" stroke-width="2" fill="none"/><path d="M2075.3 209.1H2087.7M2081.5 202.9V215.3" stroke="#000000" stroke-width="1.3" fill="none"/><path d="M2075.9 203.5L2087.1 214.7M2075.9 214.7L2087.1 203.5" stroke="#000000" stroke-width="2" fill="none"/><path d="M2085.2 209.1H2097.6M2091.4 202.9V215.3" stroke="#000000" stroke-width="1.3" fill="none"/><path d="M2085.8 203.5L2097.0 214.7M2085.8 214.7L2097.0 203.5" stroke="#000000" stroke-width="2" fill="none"/><path d="M2095.2 207.5H2107.6M2101.4 201.3V213.7" stroke="#000000" stroke-width="1.3" fill="none"/><path d="M2095.8 201.9L2107.0 213.1M2095.8 213.1L2107.0 201.9" stroke="#000000" stroke-width="2" fill="none"/><path d="M2105.1 212.4H2117.5M2111.3 206.2V218.6" stroke="#000000" stroke-width="1.3" fill="none"/><path d="M2105.7 206.8L2116.9 218.0M2105.7 218.0L2116.9 206.8" stroke="#000000" stroke-width="2" fill="none"/><path d="M2115.1 217.3H2127.5M2121.3 211.1V223.5" stroke="#000000" stroke-width="1.3" fill="none"/><path d="M2115.7 211.7L2126.9 222.9M2115.7 222.9L2126.9 211.7" stroke="#000000" stroke-width="2" fill="none"/><path d="M2125.0 203.4H2137.4M2131.2 197.2V209.6" stroke="#000000" stroke-width="1.3" fill="none"/><path d="M2125.6 197.8L2136.8 209.0M2125.6 209.0L2136.8 197.8" stroke="#000000" stroke-width="2" fill="none"/><path d="M2135.0 207.5H2147.4M2141.2 201.3V213.7" stroke="#000000" stroke-width="1.3" fill="none"/><path d="M2135.6 201.9L2146.8 213.1M2135.6 213.1L2146.8 201.9" stroke="#000000" stroke-width="2" fill="none"/><path d="M2144.9 206.6H2157.3M2151.1 200.4V212.8" stroke="#000000" stroke-width="1.3" fill="none"/><path d="M2145.5 201.0L2156.7 212.2M2145.5 212.2L2156.7 201.0" stroke="#000000" stroke-width="2" fill="none"/><path d="M2154.9 217.3H2167.3M2161.1 211.1V223.5" stroke="#000000" stroke-width="1.3" fill="none"/><path d="M2155.5 211.7L2166.7 222.9M2155.5 222.9L2166.7 211.7" stroke="#000000" stroke-width="2" fill="none"/><path d="M2164.8 221.5H2177.2M2171.0 215.3V227.7" stroke="#000000" stroke-width="1.3" fill="none"/><path d="M2165.4 215.9L2176.6 227.1M2165.4 227.1L2176.6 215.9" stroke="#000000" stroke-width="2" fill="none"/><path d="M2174.8 219.0H2187.2M2181.0 212.8V225.2" stroke="#000000" stroke-width="1.3" fill="none"/><path d="M2175.4 213.4L2186.6 224.6M2175.4 224.6L2186.6 213.4" stroke="#000000" stroke-width="2" fill="none"/><path d="M2184.7 220.6H2197.1M2190.9 214.4V226.8" stroke="#000000" stroke-width="1.3" fill="none"/><path d="M2185.3 215.0L2196.5 226.2M2185.3 226.2L2196.5 215.0" stroke="#000000" stroke-width="2" fill="none"/><path d="M2194.7 222.3H2207.1M2200.9 216.1V228.5" stroke="#000000" stroke-width="1.3" fill="none"/><path d="M2195.3 216.7L2206.5 227.9M2195.3 227.9L2206.5 216.7" stroke="#000000" stroke-width="2" fill="none"/><path d="M2204.6 220.6H2217.0M2210.8 214.4V226.8" stroke="#000000" stroke-width="1.3" fill="none"/><path d="M2205.2 215.0L2216.4 226.2M2205.2 226.2L2216.4 215.0" stroke="#000000" stroke-width="2" fill="none"/><path d="M2214.6 221.5H2227.0M2220.8 215.3V227.7" stroke="#000000" stroke-width="1.3" fill="none"/><path d="M2215.2 215.9L2226.4 227.1M2215.2 227.1L2226.4 215.9" stroke="#000000" stroke-width="2" fill="none"/><path d="M2224.5 222.3H2236.9M2230.7 216.1V228.5" stroke="#000000" stroke-width="1.3" fill="none"/><path d="M2225.1 216.7L2236.3 227.9M2225.1 227.9L2236.3 216.7" stroke="#000000" stroke-width="2" fill="none"/><path d="M2234.5 220.6H2246.9M2240.7 214.4V226.8" stroke="#000000" stroke-width="1.3" fill="none"/><path d="M2235.1 215.0L2246.3 226.2M2235.1 226.2L2246.3 215.0" stroke="#000000" stroke-width="2" fill="none"/><path d="M2244.4 232.2H2256.8M2250.6 226.0V238.4" stroke="#000000" stroke-width="1.3" fill="none"/><path d="M2245.0 226.6L2256.2 237.8M2245.0 237.8L2256.2 226.6" stroke="#000000" stroke-width="2" fill="none"/><path d="M2254.4 244.5H2266.8M2260.6 238.3V250.7" stroke="#000000" stroke-width="1.3" fill="none"/><path d="M2255.0 238.9L2266.2 250.1M2255.0 250.1L2266.2 238.9" stroke="#000000" stroke-width="2" fill="none"/><path d="M2264.3 225.6H2276.7M2270.5 219.4V231.8" stroke="#000000" stroke-width="1.3" fill="none"/><path d="M2264.9 220.0L2276.1 231.2M2264.9 231.2L2276.1 220.0" stroke="#000000" stroke-width="2" fill="none"/><path d="M2274.3 226.4H2286.7M2280.5 220.2V232.6" stroke="#000000" stroke-width="1.3" fill="none"/><path d="M2274.9 220.8L2286.1 232.0M2274.9 232.0L2286.1 220.8" stroke="#000000" stroke-width="2" fill="none"/><path d="M2284.2 225.6H2296.6M2290.4 219.4V231.8" stroke="#000000" stroke-width="1.3" fill="none"/><path d="M2284.8 220.0L2296.0 231.2M2284.8 231.2L2296.0 220.0" stroke="#000000" stroke-width="2" fill="none"/><path d="M2294.2 228.9H2306.6M2300.4 222.7V235.1" stroke="#000000" stroke-width="1.3" fill="none"/><path d="M2294.8 223.3L2306.0 234.5M2294.8 234.5L2306.0 223.3" stroke="#000000" stroke-width="2" fill="none"/><path d="M2304.1 222.3H2316.5M2310.3 216.1V228.5" stroke="#000000" stroke-width="1.3" fill="none"/><path d="M2304.7 216.7L2315.9 227.9M2304.7 227.9L2315.9 216.7" stroke="#000000" stroke-width="2" fill="none"/>
<path d="M1415.0 411.6L1424.9 409.1L1434.9 404.2L1444.8 406.6L1454.8 407.4L1464.7 388.5L1474.7 393.5L1484.6 388.5L1494.6 377.8L1504.5 372.9L1514.5 377.8L1524.4 365.5L1534.4 363.8L1544.3 370.4L1554.3 367.1L1564.2 360.6L1574.2 358.1L1584.1 369.6L1594.1 366.3L1604.0 361.4L1614.0 350.1L1623.9 346.8L1633.9 340.2L1643.8 317.3L1653.7 332.2L1663.7 317.3L1673.6 319.0L1683.6 317.3L1693.5 295.9L1703.5 294.3L1713.4 278.5L1723.4 290.0L1733.3 294.9L1743.3 278.5L1753.2 267.0L1763.2 262.0L1773.1 267.0L1783.1 273.5L1793.0 281.8L1803.0 268.6L1812.9 268.6L1822.9 271.9L1832.8 258.7L1842.8 248.9L1852.7 247.2L1862.7 222.5L1872.6 216.8L1882.5 212.7L1892.5 206.1L1902.4 207.7L1912.4 202.8L1922.3 207.7L1932.3 207.7L1942.2 207.7L1952.2 215.9L1962.1 209.4L1972.1 217.6L1982.0 209.4L1992.0 206.1L2001.9 209.4L2011.9 207.5L2021.8 212.4L2031.8 214.9L2041.7 212.4L2051.7 205.8L2061.6 206.6L2071.6 217.3L2081.5 229.7L2091.4 214.0L2101.4 217.3L2111.3 222.3L2121.3 251.9L2131.2 215.7L2141.2 225.6L2151.1 227.2L2161.1 225.6L2171.0 249.4L2181.0 238.7L2190.9 220.6L2200.9 222.3L2210.8 227.2L2220.8 222.3L2230.7 222.3L2240.7 219.0L2250.6 205.0L2260.6 219.0L2270.5 220.6L2280.5 217.3L2290.4 220.6L2300.4 223.9L2310.3 217.3" fill="none" stroke="#ff0000" stroke-width="4"/>
<rect x="1411.0" y="407.6" width="8.0" height="8.0" fill="none" stroke="#ff0000" stroke-width="2"/><rect x="1420.9" y="405.1" width="8.0" height="8.0" fill="none" stroke="#ff0000" stroke-width="2"/><rect x="1430.9" y="400.2" width="8.0" height="8.0" fill="none" stroke="#ff0000" stroke-width="2"/><rect x="1440.8" y="402.6" width="8.0" height="8.0" fill="none" stroke="#ff0000" stroke-width="2"/><rect x="1450.8" y="403.4" width="8.0" height="8.0" fill="none" stroke="#ff0000" stroke-width="2"/><rect x="1460.7" y="384.5" width="8.0" height="8.0" fill="none" stroke="#ff0000" stroke-width="2"/><rect x="1470.7" y="389.5" width="8.0" height="8.0" fill="none" stroke="#ff0000" stroke-width="2"/><rect x="1480.6" y="384.5" width="8.0" height="8.0" fill="none" stroke="#ff0000" stroke-width="2"/><rect x="1490.6" y="373.8" width="8.0" height="8.0" fill="none" stroke="#ff0000" stroke-width="2"/><rect x="1500.5" y="368.9" width="8.0" height="8.0" fill="none" stroke="#ff0000" stroke-width="2"/><rect x="1510.5" y="373.8" width="8.0" height="8.0" fill="none" stroke="#ff0000" stroke-width="2"/><rect x="1520.4" y="361.5" width="8.0" height="8.0" fill="none" stroke="#ff0000" stroke-width="2"/><rect x="1530.4" y="359.8" width="8.0" height="8.0" fill="none" stroke="#ff0000" stroke-width="2"/><rect x="1540.3" y="366.4" width="8.0" height="8.0" fill="none" stroke="#ff0000" stroke-width="2"/><rect x="1550.3" y="363.1" width="8.0" height="8.0" fill="none" stroke="#ff0000" stroke-width="2"/><rect x="1560.2" y="356.6" width="8.0" height="8.0" fill="none" stroke="#ff0000" stroke-width="2"/><rect x="1570.2" y="354.1" width="8.0" height="8.0" fill="none" stroke="#ff0000" stroke-width="2"/><rect x="1580.1" y="365.6" width="8.0" height="8.0" fill="none" stroke="#ff0000" stroke-width="2"/><rect x="1590.1" y="362.3" width="8.0" height="8.0" fill="none" stroke="#ff0000" stroke-width="2"/><rect x="1600.0" y="357.4" width="8.0" height="8.0" fill="none" stroke="#ff0000" stroke-width="2"/><rect x="1610.0" y="346.1" width="8.0" height="8.0" fill="none" stroke="#ff0000" stroke-width="2"/><rect x="1619.9" y="342.8" width="8.0" height="8.0" fill="none" stroke="#ff0000" stroke-width="2"/><rect x="1629.9" y="336.2" width="8.0" height="8.0" fill="none" stroke="#ff0000" stroke-width="2"/><rect x="1639.8" y="313.3" width="8.0" height="8.0" fill="none" stroke="#ff0000" stroke-width="2"/><rect x="1649.7" y="328.2" width="8.0" height="8.0" fill="none" stroke="#ff0000" stroke-width="2"/><rect x="1659.7" y="313.3" width="8.0" height="8.0" fill="none" stroke="#ff0000" stroke-width="2"/><rect x="1669.6" y="315.0" width="8.0" height="8.0" fill="none" stroke="#ff0000" stroke-width="2"/><rect x="1679.6" y="313.3" width="8.0" height="8.0" fill="none" stroke="#ff0000" stroke-width="2"/><rect x="1689.5" y="291.9" width="8.0" height="8.0" fill="none" stroke="#ff0000" stroke-width="2"/><rect x="1699.5" y="290.3" width="8.0" height="8.0" fill="none" stroke="#ff0000" stroke-width="2"/><rect x="1709.4" y="274.5" width="8.0" height="8.0" fill="none" stroke="#ff0000" stroke-width="2"/><rect x="1719.4" y="286.0" width="8.0" height="8.0" fill="none" stroke="#ff0000" stroke-width="2"/><rect x="1729.3" y="290.9" width="8.0" height="8.0" fill="none" stroke="#ff0000" stroke-width="2"/><rect x="1739.3" y="274.5" width="8.0" height="8.0" fill="none" stroke="#ff0000" stroke-width="2"/><rect x="1749.2" y="263.0" width="8.0" height="8.0" fill="none" stroke="#ff0000" stroke-width="2"/><rect x="1759.2" y="258.0" width="8.0" height="8.0" fill="none" stroke="#ff0000" stroke-width="2"/><rect x="1769.1" y="263.0" width="8.0" height="8.0" fill="none" stroke="#ff0000" stroke-width="2"/><rect x="1779.1" y="269.5" width="8.0" height="8.0" fill="none" stroke="#ff0000" stroke-width="2"/><rect x="1789.0" y="277.8" width="8.0" height="8.0" fill="none" stroke="#ff0000" stroke-width="2"/><rect x="1799.0" y="264.6" width="8.0" height="8.0" fill="none" stroke="#ff0000" stroke-width="2"/><rect x="1808.9" y="264.6" width="8.0" height="8.0" fill="none" stroke="#ff0000" stroke-width="2"/><rect x="1818.9" y="267.9" width="8.0" height="8.0" fill="none" stroke="#ff0000" stroke-width="2"/><rect x="1828.8" y="254.7" width="8.0" height="8.0" fill="none" stroke="#ff0000" stroke-width="2"/><rect x="1838.8" y="244.9" width="8.0" height="8.0" fill="none" stroke="#ff0000" stroke-width="2"/><rect x="1848.7" y="243.2" width="8.0" height="8.0" fill="none" stroke="#ff0000" stroke-width="2"/><rect x="1858.7" y="218.5" width="8.0" height="8.0" fill="none" stroke="#ff0000" stroke-width="2"/><rect x="1868.6" y="212.8" width="8.0" height="8.0" fill="none" stroke="#ff0000" stroke-width="2"/><rect x="1878.5" y="208.7" width="8.0" height="8.0" fill="none" stroke="#ff0000" stroke-width="2"/><rect x="1888.5" y="202.1" width="8.0" height="8.0" fill="none" stroke="#ff0000" stroke-width="2"/><rect x="1898.4" y="203.7" width="8.0" height="8.0" fill="none" stroke="#ff0000" stroke-width="2"/><rect x="1908.4" y="198.8" width="8.0" height="8.0" fill="none" stroke="#ff0000" stroke-width="2"/><rect x="1918.3" y="203.7" width="8.0" height="8.0" fill="none" stroke="#ff0000" stroke-width="2"/><rect x="1928.3" y="203.7" width="8.0" height="8.0" fill="none" stroke="#ff0000" stroke-width="2"/><rect x="1938.2" y="203.7" width="8.0" height="8.0" fill="none" stroke="#ff0000" stroke-width="2"/><rect x="1948.2" y="211.9" width="8.0" height="8.0" fill="none" stroke="#ff0000" stroke-width="2"/><rect x="1958.1" y="205.4" width="8.0" height="8.0" fill="none" stroke="#ff0000" stroke-width="2"/><rect x="1968.1" y="213.6" width="8.0" height="8.0" fill="none" stroke="#ff0000" stroke-width="2"/><rect x="1978.0" y="205.4" width="8.0" height="8.0" fill="none" stroke="#ff0000" stroke-width="2"/><rect x="1988.0" y="202.1" width="8.0" height="8.0" fill="none" stroke="#ff0000" stroke-width="2"/><rect x="1997.9" y="205.4" width="8.0" height="8.0" fill="none" stroke="#ff0000" stroke-width="2"/><rect x="2007.9" y="203.5" width="8.0" height="8.0" fill="none" stroke="#ff0000" stroke-width="2"/><rect x="2017.8" y="208.4" width="8.0" height="8.0" fill="none" stroke="#ff0000" stroke-width="2"/><rect x="2027.8" y="210.9" width="8.0" height="8.0" fill="none" stroke="#ff0000" stroke-width="2"/><rect x="2037.7" y="208.4" width="8.0" height="8.0" fill="none" stroke="#ff0000" stroke-width="2"/><rect x="2047.7" y="201.8" width="8.0" height="8.0" fill="none" stroke="#ff0000" stroke-width="2"/><rect x="2057.6" y="202.6" width="8.0" height="8.0" fill="none" stroke="#ff0000" stroke-width="2"/><rect x="2067.6" y="213.3" width="8.0" height="8.0" fill="none" stroke="#ff0000" stroke-width="2"/><rect x="2077.5" y="225.7" width="8.0" height="8.0" fill="none" stroke="#ff0000" stroke-width="2"/><rect x="2087.4" y="210.0" width="8.0" height="8.0" fill="none" stroke="#ff0000" stroke-width="2"/><rect x="2097.4" y="213.3" width="8.0" height="8.0" fill="none" stroke="#ff0000" stroke-width="2"/><rect x="2107.3" y="218.3" width="8.0" height="8.0" fill="none" stroke="#ff0000" stroke-width="2"/><rect x="2117.3" y="247.9" width="8.0" height="8.0" fill="none" stroke="#ff0000" stroke-width="2"/><rect x="2127.2" y="211.7" width="8.0" height="8.0" fill="none" stroke="#ff0000" stroke-width="2"/><rect x="2137.2" y="221.6" width="8.0" height="8.0" fill="none" stroke="#ff0000" stroke-width="2"/><rect x="2147.1" y="223.2" width="8.0" height="8.0" fill="none" stroke="#ff0000" stroke-width="2"/><rect x="2157.1" y="221.6" width="8.0" height="8.0" fill="none" stroke="#ff0000" stroke-width="2"/><rect x="2167.0" y="245.4" width="8.0" height="8.0" fill="none" stroke="#ff0000" stroke-width="2"/><rect x="2177.0" y="234.7" width="8.0" height="8.0" fill="none" stroke="#ff0000" stroke-width="2"/><rect x="2186.9" y="216.6" width="8.0" height="8.0" fill="none" stroke="#ff0000" stroke-width="2"/><rect x="2196.9" y="218.3" width="8.0" height="8.0" fill="none" stroke="#ff0000" stroke-width="2"/><rect x="2206.8" y="223.2" width="8.0" height="8.0" fill="none" stroke="#ff0000" stroke-width="2"/><rect x="2216.8" y="218.3" width="8.0" height="8.0" fill="none" stroke="#ff0000" stroke-width="2"/><rect x="2226.7" y="218.3" width="8.0" height="8.0" fill="none" stroke="#ff0000" stroke-width="2"/><rect x="2236.7" y="215.0" width="8.0" height="8.0" fill="none" stroke="#ff0000" stroke-width="2"/><rect x="2246.6" y="201.0" width="8.0" height="8.0" fill="none" stroke="#ff0000" stroke-width="2"/><rect x="2256.6" y="215.0" width="8.0" height="8.0" fill="none" stroke="#ff0000" stroke-width="2"/><rect x="2266.5" y="216.6" width="8.0" height="8.0" fill="none" stroke="#ff0000" stroke-width="2"/><rect x="2276.5" y="213.3" width="8.0" height="8.0" fill="none" stroke="#ff0000" stroke-width="2"/><rect x="2286.4" y="216.6" width="8.0" height="8.0" fill="none" stroke="#ff0000" stroke-width="2"/><rect x="2296.4" y="219.9" width="8.0" height="8.0" fill="none" stroke="#ff0000" stroke-width="2"/><rect x="2306.3" y="213.3" width="8.0" height="8.0" fill="none" stroke="#ff0000" stroke-width="2"/>
<path d="M1415.0 410.9L1424.9 409.9L1434.9 403.7L1444.8 406.0L1454.8 406.1L1464.7 387.3L1474.7 393.7L1484.6 387.7L1494.6 378.1L1504.5 372.5L1514.5 377.7L1524.4 366.9L1534.4 363.8L1544.3 370.6L1554.3 368.2L1564.2 359.6L1574.2 357.1L1584.1 370.8L1594.1 367.3L1604.0 360.6L1614.0 349.2L1623.9 347.5L1633.9 341.5L1643.8 316.4L1653.7 333.6L1663.7 318.4L1673.6 319.3L1683.6 317.1L1693.5 294.7L1703.5 292.9L1713.4 279.9L1723.4 289.2L1733.3 295.5L1743.3 277.8L1753.2 268.0L1763.2 262.3L1773.1 266.4L1783.1 272.5L1793.0 282.5L1803.0 267.3L1812.9 267.8L1822.9 272.1L1832.8 259.8L1842.8 249.2L1852.7 246.5L1862.7 223.8L1872.6 215.9L1882.5 211.2L1892.5 205.4L1902.4 207.5L1912.4 201.5L1922.3 206.7L1932.3 207.3L1942.2 207.9L1952.2 214.8L1962.1 209.0L1972.1 218.8L1982.0 210.8L1992.0 206.6L2001.9 210.0L2011.9 207.8L2021.8 211.3L2031.8 213.5L2041.7 211.0L2051.7 207.0L2061.6 207.2L2071.6 218.7L2081.5 228.3L2091.4 214.4L2101.4 217.2L2111.3 223.0L2121.3 251.4L2131.2 217.2L2141.2 224.3L2151.1 227.3L2161.1 226.3L2171.0 250.6L2181.0 239.4L2190.9 221.2L2200.9 223.2L2210.8 228.4L2220.8 221.9L2230.7 222.9L2240.7 220.2L2250.6 206.1L2260.6 218.8L2270.5 221.5L2280.5 218.4L2290.4 220.8L2300.4 224.3L2310.3 216.9" fill="none" stroke="#ff0000" stroke-width="4"/>
<path d="M1415.0 404.9L1420.2 414.4H1409.8Z" fill="none" stroke="#ff0000" stroke-width="2"/><path d="M1424.9 403.9L1430.1 413.4H1419.7Z" fill="none" stroke="#ff0000" stroke-width="2"/><path d="M1434.9 397.7L1440.1 407.2H1429.7Z" fill="none" stroke="#ff0000" stroke-width="2"/><path d="M1444.8 400.0L1450.0 409.5H1439.6Z" fill="none" stroke="#ff0000" stroke-width="2"/><path d="M1454.8 400.1L1460.0 409.6H1449.6Z" fill="none" stroke="#ff0000" stroke-width="2"/><path d="M1464.7 381.3L1469.9 390.8H1459.5Z" fill="none" stroke="#ff0000" stroke-width="2"/><path d="M1474.7 387.7L1479.9 397.2H1469.5Z" fill="none" stroke="#ff0000" stroke-width="2"/><path d="M1484.6 381.7L1489.8 391.2H1479.4Z" fill="none" stroke="#ff0000" stroke-width="2"/><path d="M1494.6 372.1L1499.8 381.6H1489.4Z" fill="none" stroke="#ff0000" stroke-width="2"/><path d="M1504.5 366.5L1509.7 376.0H1499.3Z" fill="none" stroke="#ff0000" stroke-width="2"/><path d="M1514.5 371.7L1519.7 381.2H1509.3Z" fill="none" stroke="#ff0000" stroke-width="2"/><path d="M1524.4 360.9L1529.6 370.4H1519.2Z" fill="none" stroke="#ff0000" stroke-width="2"/><path d="M1534.4 357.8L1539.6 367.3H1529.2Z" fill="none" stroke="#ff0000" stroke-width="2"/><path d="M1544.3 364.6L1549.5 374.1H1539.1Z" fill="none" stroke="#ff0000" stroke-width="2"/><path d="M1554.3 362.2L1559.5 371.7H1549.1Z" fill="none" stroke="#ff0000" stroke-width="2"/><path d="M1564.2 353.6L1569.4 363.1H1559.0Z" fill="none" stroke="#ff0000" stroke-width="2"/><path d="M1574.2 351.1L1579.4 360.6H1569.0Z" fill="none" stroke="#ff0000" stroke-width="2"/><path d="M1584.1 364.8L1589.3 374.3H1578.9Z" fill="none" stroke="#ff0000" stroke-width="2"/><path d="M1594.1 361.3L1599.3 370.8H1588.9Z" fill="none" stroke="#ff0000" stroke-width="2"/><path d="M1604.0 354.6L1609.2 364.1H1598.8Z" fill="none" stroke="#ff0000" stroke-width="2"/><path d="M1614.0 343.2L1619.2 352.7H1608.8Z" fill="none" stroke="#ff0000" stroke-width="2"/><path d="M1623.9 341.5L1629.1 351.0H1618.7Z" fill="none" stroke="#ff0000" stroke-width="2"/><path d="M1633.9 335.5L1639.1 345.0H1628.7Z" fill="none" stroke="#ff0000" stroke-width="2"/><path d="M1643.8 310.4L1649.0 319.9H1638.6Z" fill="none" stroke="#ff0000" stroke-width="2"/><path d="M1653.7 327.6L1658.9 337.1H1648.5Z" fill="none" stroke="#ff0000" stroke-width="2"/><path d="M1663.7 312.4L1668.9 321.9H1658.5Z" fill="none" stroke="#ff0000" stroke-width="2"/><path d="M1673.6 313.3L1678.8 322.8H1668.4Z" fill="none" stroke="#ff0000" stroke-width="2"/><path d="M1683.6 311.1L1688.8 320.6H1678.4Z" fill="none" stroke="#ff0000" stroke-width="2"/><path d="M1693.5 288.7L1698.7 298.2H1688.3Z" fill="none" stroke="#ff0000" stroke-width="2"/><path d="M1703.5 286.9L1708.7 296.4H1698.3Z" fill="none" stroke="#ff0000" stroke-width="2"/><path d="M1713.4 273.9L1718.6 283.4H1708.2Z" fill="none" stroke="#ff0000" stroke-width="2"/><path d="M1723.4 283.2L1728.6 292.7H1718.2Z" fill="none" stroke="#ff0000" stroke-width="2"/><path d="M1733.3 289.5L1738.5 299.0H1728.1Z" fill="none" stroke="#ff0000" stroke-width="2"/><path d="M1743.3 271.8L1748.5 281.3H1738.1Z" fill="none" stroke="#ff0000" stroke-width="2"/><path d="M1753.2 262.0L1758.4 271.5H1748.0Z" fill="none" stroke="#ff0000" stroke-width="2"/><path d="M1763.2 256.3L1768.4 265.8H1758.0Z" fill="none" stroke="#ff0000" stroke-width="2"/><path d="M1773.1 260.4L1778.3 269.9H1767.9Z" fill="none" stroke="#ff0000" stroke-width="2"/><path d="M1783.1 266.5L1788.3 276.0H1777.9Z" fill="none" stroke="#ff0000" stroke-width="2"/><path d="M1793.0 276.5L1798.2 286.0H1787.8Z" fill="none" stroke="#ff0000" stroke-width="2"/><path d="M1803.0 261.3L1808.2 270.8H1797.8Z" fill="none" stroke="#ff0000" stroke-width="2"/><path d="M1812.9 261.8L1818.1 271.3H1807.7Z" fill="none" stroke="#ff0000" stroke-width="2"/><path d="M1822.9 266.1L1828.1 275.6H1817.7Z" fill="none" stroke="#ff0000" stroke-width="2"/><path d="M1832.8 253.8L1838.0 263.3H1827.6Z" fill="none" stroke="#ff0000" stroke-width="2"/><path d="M1842.8 243.2L1848.0 252.7H1837.6Z" fill="none" stroke="#ff0000" stroke-width="2"/><path d="M1852.7 240.5L1857.9 250.0H1847.5Z" fill="none" stroke="#ff0000" stroke-width="2"/><path d="M1862.7 217.8L1867.9 227.3H1857.5Z" fill="none" stroke="#ff0000" stroke-width="2"/><path d="M1872.6 209.9L1877.8 219.4H1867.4Z" fill="none" stroke="#ff0000" stroke-width="2"/><path d="M1882.5 205.2L1887.7 214.7H1877.3Z" fill="none" stroke="#ff0000" stroke-width="2"/><path d="M1892.5 199.4L1897.7 208.9H1887.3Z" fill="none" stroke="#ff0000" stroke-width="2"/><path d="M1902.4 201.5L1907.6 211.0H1897.2Z" fill="none" stroke="#ff0000" stroke-width="2"/><path d="M1912.4 195.5L1917.6 205.0H1907.2Z" fill="none" stroke="#ff0000" stroke-width="2"/><path d="M1922.3 200.7L1927.5 210.2H1917.1Z" fill="none" stroke="#ff0000" stroke-width="2"/><path d="M1932.3 201.3L1937.5 210.8H1927.1Z" fill="none" stroke="#ff0000" stroke-width="2"/><path d="M1942.2 201.9L1947.4 211.4H1937.0Z" fill="none" stroke="#ff0000" stroke-width="2"/><path d="M1952.2 208.8L1957.4 218.3H1947.0Z" fill="none" stroke="#ff0000" stroke-width="2"/><path d="M1962.1 203.0L1967.3 212.5H1956.9Z" fill="none" stroke="#ff0000" stroke-width="2"/><path d="M1972.1 212.8L1977.3 222.3H1966.9Z" fill="none" stroke="#ff0000" stroke-width="2"/><path d="M1982.0 204.8L1987.2 214.3H1976.8Z" fill="none" stroke="#ff0000" stroke-width="2"/><path d="M1992.0 200.6L1997.2 210.1H1986.8Z" fill="none" stroke="#ff0000" stroke-width="2"/><path d="M2001.9 204.0L2007.1 213.5H1996.7Z" fill="none" stroke="#ff0000" stroke-width="2"/><path d="M2011.9 201.8L2017.1 211.3H2006.7Z" fill="none" stroke="#ff0000" stroke-width="2"/><path d="M2021.8 205.3L2027.0 214.8H2016.6Z" fill="none" stroke="#ff0000" stroke-width="2"/><path d="M2031.8 207.5L2037.0 217.0H2026.6Z" fill="none" stroke="#ff0000" stroke-width="2"/><path d="M2041.7 205.0L2046.9 214.5H2036.5Z" fill="none" stroke="#ff0000" stroke-width="2"/><path d="M2051.7 201.0L2056.9 210.5H2046.5Z" fill="none" stroke="#ff0000" stroke-width="2"/><path d="M2061.6 201.2L2066.8 210.7H2056.4Z" fill="none" stroke="#ff0000" stroke-width="2"/><path d="M2071.6 212.7L2076.8 222.2H2066.4Z" fill="none" stroke="#ff0000" stroke-width="2"/><path d="M2081.5 222.3L2086.7 231.8H2076.3Z" fill="none" stroke="#ff0000" stroke-width="2"/><path d="M2091.4 208.4L2096.6 217.9H2086.2Z" fill="none" stroke="#ff0000" stroke-width="2"/><path d="M2101.4 211.2L2106.6 220.7H2096.2Z" fill="none" stroke="#ff0000" stroke-width="2"/><path d="M2111.3 217.0L2116.5 226.5H2106.1Z" fill="none" stroke="#ff0000" stroke-width="2"/><path d="M2121.3 245.4L2126.5 254.9H2116.1Z" fill="none" stroke="#ff0000" stroke-width="2"/><path d="M2131.2 211.2L2136.4 220.7H2126.0Z" fill="none" stroke="#ff0000" stroke-width="2"/><path d="M2141.2 218.3L2146.4 227.8H2136.0Z" fill="none" stroke="#ff0000" stroke-width="2"/><path d="M2151.1 221.3L2156.3 230.8H2145.9Z" fill="none" stroke="#ff0000" stroke-width="2"/><path d="M2161.1 220.3L2166.3 229.8H2155.9Z" fill="none" stroke="#ff0000" stroke-width="2"/><path d="M2171.0 244.6L2176.2 254.1H2165.8Z" fill="none" stroke="#ff0000" stroke-width="2"/><path d="M2181.0 233.4L2186.2 242.9H2175.8Z" fill="none" stroke="#ff0000" stroke-width="2"/><path d="M2190.9 215.2L2196.1 224.7H2185.7Z" fill="none" stroke="#ff0000" stroke-width="2"/><path d="M2200.9 217.2L2206.1 226.7H2195.7Z" fill="none" stroke="#ff0000" stroke-width="2"/><path d="M2210.8 222.4L2216.0 231.9H2205.6Z" fill="none" stroke="#ff0000" stroke-width="2"/><path d="M2220.8 215.9L2226.0 225.4H2215.6Z" fill="none" stroke="#ff0000" stroke-width="2"/><path d="M2230.7 216.9L2235.9 226.4H2225.5Z" fill="none" stroke="#ff0000" stroke-width="2"/><path d="M2240.7 214.2L2245.9 223.7H2235.5Z" fill="none" stroke="#ff0000" stroke-width="2"/><path d="M2250.6 200.1L2255.8 209.6H2245.4Z" fill="none" stroke="#ff0000" stroke-width="2"/><path d="M2260.6 212.8L2265.8 222.3H2255.4Z" fill="none" stroke="#ff0000" stroke-width="2"/><path d="M2270.5 215.5L2275.7 225.0H2265.3Z" fill="none" stroke="#ff0000" stroke-width="2"/><path d="M2280.5 212.4L2285.7 221.9H2275.3Z" fill="none" stroke="#ff0000" stroke-width="2"/><path d="M2290.4 214.8L2295.6 224.3H2285.2Z" fill="none" stroke="#ff0000" stroke-width="2"/><path d="M2300.4 218.3L2305.6 227.8H2295.2Z" fill="none" stroke="#ff0000" stroke-width="2"/><path d="M2310.3 210.9L2315.5 220.4H2305.1Z" fill="none" stroke="#ff0000" stroke-width="2"/>
<path d="M1415.0 426.5L1424.9 431.4L1434.9 421.6L1444.8 418.3L1454.8 423.2L1464.7 421.6L1474.7 414.2L1484.6 411.7L1494.6 403.5L1504.5 400.2L1514.5 395.2L1524.4 384.5L1534.4 383.7L1544.3 387.8L1554.3 386.2L1564.2 373.8L1574.2 372.2L1584.1 376.3L1594.1 380.4L1604.0 368.9L1614.0 359.0L1623.9 356.0L1633.9 347.8L1643.8 319.0L1653.7 327.2L1663.7 305.8L1673.6 317.3L1683.6 319.0L1693.5 294.3L1703.5 294.3L1713.4 285.1L1723.4 285.1L1733.3 281.8L1743.3 275.2L1753.2 265.3L1763.2 260.4L1773.1 265.3L1783.1 258.7L1793.0 253.8L1803.0 255.4L1812.9 255.4L1822.9 258.7L1832.8 249.7L1842.8 242.3L1852.7 237.3L1862.7 225.8L1872.6 222.5L1882.5 217.6L1892.5 211.0L1902.4 211.0L1912.4 206.1L1922.3 202.8L1932.3 207.7L1942.2 209.4L1952.2 206.1L1962.1 207.7L1972.1 206.1L1982.0 206.1L1992.0 199.5L2001.9 196.2L2011.9 195.9L2021.8 209.1L2031.8 214.0L2041.7 217.3L2051.7 222.3L2061.6 212.4L2071.6 233.8L2081.5 230.5L2091.4 223.9L2101.4 217.3L2111.3 217.3L2121.3 242.0L2131.2 222.3L2141.2 237.1L2151.1 235.4L2161.1 214.0L2171.0 225.6L2181.0 217.3L2190.9 232.2L2200.9 242.0L2210.8 209.1L2220.8 217.3L2230.7 225.6L2240.7 227.2L2250.6 217.3L2260.6 214.0L2270.5 205.8L2280.5 212.4L2290.4 222.3L2300.4 219.0L2310.3 217.3" fill="none" stroke="#00ff00" stroke-width="4"/>
<path d="M1410.4 426.5L1418.4 420.5V432.5Z" fill="none" stroke="#00ff00" stroke-width="2"/><path d="M1420.3 431.4L1428.3 425.4V437.4Z" fill="none" stroke="#00ff00" stroke-width="2"/><path d="M1430.3 421.6L1438.3 415.6V427.6Z" fill="none" stroke="#00ff00" stroke-width="2"/><path d="M1440.2 418.3L1448.2 412.3V424.3Z" fill="none" stroke="#00ff00" stroke-width="2"/><path d="M1450.2 423.2L1458.2 417.2V429.2Z" fill="none" stroke="#00ff00" stroke-width="2"/><path d="M1460.1 421.6L1468.1 415.6V427.6Z" fill="none" stroke="#00ff00" stroke-width="2"/><path d="M1470.1 414.2L1478.1 408.2V420.2Z" fill="none" stroke="#00ff00" stroke-width="2"/><path d="M1480.0 411.7L1488.0 405.7V417.7Z" fill="none" stroke="#00ff00" stroke-width="2"/><path d="M1490.0 403.5L1498.0 397.5V409.5Z" fill="none" stroke="#00ff00" stroke-width="2"/><path d="M1499.9 400.2L1507.9 394.2V406.2Z" fill="none" stroke="#00ff00" stroke-width="2"/><path d="M1509.9 395.2L1517.9 389.2V401.2Z" fill="none" stroke="#00ff00" stroke-width="2"/><path d="M1519.8 384.5L1527.8 378.5V390.5Z" fill="none" stroke="#00ff00" stroke-width="2"/><path d="M1529.8 383.7L1537.8 377.7V389.7Z" fill="none" stroke="#00ff00" stroke-width="2"/><path d="M1539.7 387.8L1547.7 381.8V393.8Z" fill="none" stroke="#00ff00" stroke-width="2"/><path d="M1549.7 386.2L1557.7 380.2V392.2Z" fill="none" stroke="#00ff00" stroke-width="2"/><path d="M1559.6 373.8L1567.6 367.8V379.8Z" fill="none" stroke="#00ff00" stroke-width="2"/><path d="M1569.6 372.2L1577.6 366.2V378.2Z" fill="none" stroke="#00ff00" stroke-width="2"/><path d="M1579.5 376.3L1587.5 370.3V382.3Z" fill="none" stroke="#00ff00" stroke-width="2"/><path d="M1589.5 380.4L1597.5 374.4V386.4Z" fill="none" stroke="#00ff00" stroke-width="2"/><path d="M1599.4 368.9L1607.4 362.9V374.9Z" fill="none" stroke="#00ff00" stroke-width="2"/><path d="M1609.4 359.0L1617.4 353.0V365.0Z" fill="none" stroke="#00ff00" stroke-width="2"/><path d="M1619.3 356.0L1627.3 350.0V362.0Z" fill="none" stroke="#00ff00" stroke-width="2"/><path d="M1629.3 347.8L1637.3 341.8V353.8Z" fill="none" stroke="#00ff00" stroke-width="2"/><path d="M1639.2 319.0L1647.2 313.0V325.0Z" fill="none" stroke="#00ff00" stroke-width="2"/><path d="M1649.1 327.2L1657.1 321.2V333.2Z" fill="none" stroke="#00ff00" stroke-width="2"/><path d="M1659.1 305.8L1667.1 299.8V311.8Z" fill="none" stroke="#00ff00" stroke-width="2"/><path d="M1669.0 317.3L1677.0 311.3V323.3Z" fill="none" stroke="#00ff00" stroke-width="2"/><path d="M1679.0 319.0L1687.0 313.0V325.0Z" fill="none" stroke="#00ff00" stroke-width="2"/><path d="M1688.9 294.3L1696.9 288.3V300.3Z" fill="none" stroke="#00ff00" stroke-width="2"/><path d="M1698.9 294.3L1706.9 288.3V300.3Z" fill="none" stroke="#00ff00" stroke-width="2"/><path d="M1708.8 285.1L1716.8 279.1V291.1Z" fill="none" stroke="#00ff00" stroke-width="2"/><path d="M1718.8 285.1L1726.8 279.1V291.1Z" fill="none" stroke="#00ff00" stroke-width="2"/><path d="M1728.7 281.8L1736.7 275.8V287.8Z" fill="none" stroke="#00ff00" stroke-width="2"/><path d="M1738.7 275.2L1746.7 269.2V281.2Z" fill="none" stroke="#00ff00" stroke-width="2"/><path d="M1748.6 265.3L1756.6 259.3V271.3Z" fill="none" stroke="#00ff00" stroke-width="2"/><path d="M1758.6 260.4L1766.6 254.4V266.4Z" fill="none" stroke="#00ff00" stroke-width="2"/><path d="M1768.5 265.3L1776.5 259.3V271.3Z" fill="none" stroke="#00ff00" stroke-width="2"/><path d="M1778.5 258.7L1786.5 252.7V264.7Z" fill="none" stroke="#00ff00" stroke-width="2"/><path d="M1788.4 253.8L1796.4 247.8V259.8Z" fill="none" stroke="#00ff00" stroke-width="2"/><path d="M1798.4 255.4L1806.4 249.4V261.4Z" fill="none" stroke="#00ff00" stroke-width="2"/><path d="M1808.3 255.4L1816.3 249.4V261.4Z" fill="none" stroke="#00ff00" stroke-width="2"/><path d="M1818.3 258.7L1826.3 252.7V264.7Z" fill="none" stroke="#00ff00" stroke-width="2"/><path d="M1828.2 249.7L1836.2 243.7V255.7Z" fill="none" stroke="#00ff00" stroke-width="2"/><path d="M1838.2 242.3L1846.2 236.3V248.3Z" fill="none" stroke="#00ff00" stroke-width="2"/><path d="M1848.1 237.3L1856.1 231.3V243.3Z" fill="none" stroke="#00ff00" stroke-width="2"/><path d="M1858.1 225.8L1866.1 219.8V231.8Z" fill="none" stroke="#00ff00" stroke-width="2"/><path d="M1868.0 222.5L1876.0 216.5V228.5Z" fill="none" stroke="#00ff00" stroke-width="2"/><path d="M1877.9 217.6L1885.9 211.6V223.6Z" fill="none" stroke="#00ff00" stroke-width="2"/><path d="M1887.9 211.0L1895.9 205.0V217.0Z" fill="none" stroke="#00ff00" stroke-width="2"/><path d="M1897.8 211.0L1905.8 205.0V217.0Z" fill="none" stroke="#00ff00" stroke-width="2"/><path d="M1907.8 206.1L1915.8 200.1V212.1Z" fill="none" stroke="#00ff00" stroke-width="2"/><path d="M1917.7 202.8L1925.7 196.8V208.8Z" fill="none" stroke="#00ff00" stroke-width="2"/><path d="M1927.7 207.7L1935.7 201.7V213.7Z" fill="none" stroke="#00ff00" stroke-width="2"/><path d="M1937.6 209.4L1945.6 203.4V215.4Z" fill="none" stroke="#00ff00" stroke-width="2"/><path d="M1947.6 206.1L1955.6 200.1V212.1Z" fill="none" stroke="#00ff00" stroke-width="2"/><path d="M1957.5 207.7L1965.5 201.7V213.7Z" fill="none" stroke="#00ff00" stroke-width="2"/><path d="M1967.5 206.1L1975.5 200.1V212.1Z" fill="none" stroke="#00ff00" stroke-width="2"/><path d="M1977.4 206.1L1985.4 200.1V212.1Z" fill="none" stroke="#00ff00" stroke-width="2"/><path d="M1987.4 199.5L1995.4 193.5V205.5Z" fill="none" stroke="#00ff00" stroke-width="2"/><path d="M1997.3 196.2L2005.3 190.2V202.2Z" fill="none" stroke="#00ff00" stroke-width="2"/><path d="M2007.3 195.9L2015.3 189.9V201.9Z" fill="none" stroke="#00ff00" stroke-width="2"/><path d="M2017.2 209.1L2025.2 203.1V215.1Z" fill="none" stroke="#00ff00" stroke-width="2"/><path d="M2027.2 214.0L2035.2 208.0V220.0Z" fill="none" stroke="#00ff00" stroke-width="2"/><path d="M2037.1 217.3L2045.1 211.3V223.3Z" fill="none" stroke="#00ff00" stroke-width="2"/><path d="M2047.1 222.3L2055.1 216.3V228.3Z" fill="none" stroke="#00ff00" stroke-width="2"/><path d="M2057.0 212.4L2065.0 206.4V218.4Z" fill="none" stroke="#00ff00" stroke-width="2"/><path d="M2067.0 233.8L2075.0 227.8V239.8Z" fill="none" stroke="#00ff00" stroke-width="2"/><path d="M2076.9 230.5L2084.9 224.5V236.5Z" fill="none" stroke="#00ff00" stroke-width="2"/><path d="M2086.8 223.9L2094.8 217.9V229.9Z" fill="none" stroke="#00ff00" stroke-width="2"/><path d="M2096.8 217.3L2104.8 211.3V223.3Z" fill="none" stroke="#00ff00" stroke-width="2"/><path d="M2106.7 217.3L2114.7 211.3V223.3Z" fill="none" stroke="#00ff00" stroke-width="2"/><path d="M2116.7 242.0L2124.7 236.0V248.0Z" fill="none" stroke="#00ff00" stroke-width="2"/><path d="M2126.6 222.3L2134.6 216.3V228.3Z" fill="none" stroke="#00ff00" stroke-width="2"/><path d="M2136.6 237.1L2144.6 231.1V243.1Z" fill="none" stroke="#00ff00" stroke-width="2"/><path d="M2146.5 235.4L2154.5 229.4V241.4Z" fill="none" stroke="#00ff00" stroke-width="2"/><path d="M2156.5 214.0L2164.5 208.0V220.0Z" fill="none" stroke="#00ff00" stroke-width="2"/><path d="M2166.4 225.6L2174.4 219.6V231.6Z" fill="none" stroke="#00ff00" stroke-width="2"/><path d="M2176.4 217.3L2184.4 211.3V223.3Z" fill="none" stroke="#00ff00" stroke-width="2"/><path d="M2186.3 232.2L2194.3 226.2V238.2Z" fill="none" stroke="#00ff00" stroke-width="2"/><path d="M2196.3 242.0L2204.3 236.0V248.0Z" fill="none" stroke="#00ff00" stroke-width="2"/><path d="M2206.2 209.1L2214.2 203.1V215.1Z" fill="none" stroke="#00ff00" stroke-width="2"/><path d="M2216.2 217.3L2224.2 211.3V223.3Z" fill="none" stroke="#00ff00" stroke-width="2"/><path d="M2226.1 225.6L2234.1 219.6V231.6Z" fill="none" stroke="#00ff00" stroke-width="2"/><path d="M2236.1 227.2L2244.1 221.2V233.2Z" fill="none" stroke="#00ff00" stroke-width="2"/><path d="M2246.0 217.3L2254.0 211.3V223.3Z" fill="none" stroke="#00ff00" stroke-width="2"/><path d="M2256.0 214.0L2264.0 208.0V220.0Z" fill="none" stroke="#00ff00" stroke-width="2"/><path d="M2265.9 205.8L2273.9 199.8V211.8Z" fill="none" stroke="#00ff00" stroke-width="2"/><path d="M2275.9 212.4L2283.9 206.4V218.4Z" fill="none" stroke="#00ff00" stroke-width="2"/><path d="M2285.8 222.3L2293.8 216.3V228.3Z" fill="none" stroke="#00ff00" stroke-width="2"/><path d="M2295.8 219.0L2303.8 213.0V225.0Z" fill="none" stroke="#00ff00" stroke-width="2"/><path d="M2305.7 217.3L2313.7 211.3V223.3Z" fill="none" stroke="#00ff00" stroke-width="2"/>
<path d="M1415.0 426.7L1424.9 431.7L1434.9 420.3L1444.8 418.7L1454.8 424.7L1464.7 422.7L1474.7 414.9L1484.6 411.4L1494.6 404.2L1504.5 400.4L1514.5 395.0L1524.4 385.5L1534.4 382.5L1544.3 388.6L1554.3 384.8L1564.2 374.1L1574.2 372.1L1584.1 375.5L1594.1 381.0L1604.0 368.9L1614.0 359.3L1623.9 357.3L1633.9 347.1L1643.8 317.5L1653.7 326.6L1663.7 306.3L1673.6 316.4L1683.6 318.0L1693.5 295.5L1703.5 294.8L1713.4 284.9L1723.4 286.3L1733.3 281.3L1743.3 275.7L1753.2 264.4L1763.2 260.2L1773.1 266.2L1783.1 259.9L1793.0 254.9L1803.0 255.1L1812.9 255.6L1822.9 258.1L1832.8 248.6L1842.8 242.3L1852.7 238.3L1862.7 226.8L1872.6 223.1L1882.5 219.0L1892.5 210.3L1902.4 210.0L1912.4 206.0L1922.3 202.1L1932.3 206.8L1942.2 209.1L1952.2 206.5L1962.1 207.7L1972.1 205.5L1982.0 207.1L1992.0 200.9L2001.9 196.1L2011.9 194.6L2021.8 207.7L2031.8 215.1L2041.7 215.9L2051.7 222.9L2061.6 212.6L2071.6 233.2L2081.5 231.4L2091.4 222.5L2101.4 216.2L2111.3 217.2L2121.3 240.6L2131.2 223.3L2141.2 236.3L2151.1 234.3L2161.1 212.6L2171.0 226.0L2181.0 217.1L2190.9 232.6L2200.9 242.5L2210.8 210.0L2220.8 218.7L2230.7 226.2L2240.7 226.3L2250.6 217.2L2260.6 213.0L2270.5 204.3L2280.5 212.3L2290.4 222.9L2300.4 218.0L2310.3 216.6" fill="none" stroke="#00ff00" stroke-width="4"/>
<path d="M1419.6 426.7L1411.6 420.7V432.7Z" fill="none" stroke="#00ff00" stroke-width="2"/><path d="M1429.5 431.7L1421.5 425.7V437.7Z" fill="none" stroke="#00ff00" stroke-width="2"/><path d="M1439.5 420.3L1431.5 414.3V426.3Z" fill="none" stroke="#00ff00" stroke-width="2"/><path d="M1449.4 418.7L1441.4 412.7V424.7Z" fill="none" stroke="#00ff00" stroke-width="2"/><path d="M1459.4 424.7L1451.4 418.7V430.7Z" fill="none" stroke="#00ff00" stroke-width="2"/><path d="M1469.3 422.7L1461.3 416.7V428.7Z" fill="none" stroke="#00ff00" stroke-width="2"/><path d="M1479.3 414.9L1471.3 408.9V420.9Z" fill="none" stroke="#00ff00" stroke-width="2"/><path d="M1489.2 411.4L1481.2 405.4V417.4Z" fill="none" stroke="#00ff00" stroke-width="2"/><path d="M1499.2 404.2L1491.2 398.2V410.2Z" fill="none" stroke="#00ff00" stroke-width="2"/><path d="M1509.1 400.4L1501.1 394.4V406.4Z" fill="none" stroke="#00ff00" stroke-width="2"/><path d="M1519.1 395.0L1511.1 389.0V401.0Z" fill="none" stroke="#00ff00" stroke-width="2"/><path d="M1529.0 385.5L1521.0 379.5V391.5Z" fill="none" stroke="#00ff00" stroke-width="2"/><path d="M1539.0 382.5L1531.0 376.5V388.5Z" fill="none" stroke="#00ff00" stroke-width="2"/><path d="M1548.9 388.6L1540.9 382.6V394.6Z" fill="none" stroke="#00ff00" stroke-width="2"/><path d="M1558.9 384.8L1550.9 378.8V390.8Z" fill="none" stroke="#00ff00" stroke-width="2"/><path d="M1568.8 374.1L1560.8 368.1V380.1Z" fill="none" stroke="#00ff00" stroke-width="2"/><path d="M1578.8 372.1L1570.8 366.1V378.1Z" fill="none" stroke="#00ff00" stroke-width="2"/><path d="M1588.7 375.5L1580.7 369.5V381.5Z" fill="none" stroke="#00ff00" stroke-width="2"/><path d="M1598.7 381.0L1590.7 375.0V387.0Z" fill="none" stroke="#00ff00" stroke-width="2"/><path d="M1608.6 368.9L1600.6 362.9V374.9Z" fill="none" stroke="#00ff00" stroke-width="2"/><path d="M1618.6 359.3L1610.6 353.3V365.3Z" fill="none" stroke="#00ff00" stroke-width="2"/><path d="M1628.5 357.3L1620.5 351.3V363.3Z" fill="none" stroke="#00ff00" stroke-width="2"/><path d="M1638.5 347.1L1630.5 341.1V353.1Z" fill="none" stroke="#00ff00" stroke-width="2"/><path d="M1648.4 317.5L1640.4 311.5V323.5Z" fill="none" stroke="#00ff00" stroke-width="2"/><path d="M1658.3 326.6L1650.3 320.6V332.6Z" fill="none" stroke="#00ff00" stroke-width="2"/><path d="M1668.3 306.3L1660.3 300.3V312.3Z" fill="none" stroke="#00ff00" stroke-width="2"/><path d="M1678.2 316.4L1670.2 310.4V322.4Z" fill="none" stroke="#00ff00" stroke-width="2"/><path d="M1688.2 318.0L1680.2 312.0V324.0Z" fill="none" stroke="#00ff00" stroke-width="2"/><path d="M1698.1 295.5L1690.1 289.5V301.5Z" fill="none" stroke="#00ff00" stroke-width="2"/><path d="M1708.1 294.8L1700.1 288.8V300.8Z" fill="none" stroke="#00ff00" stroke-width="2"/><path d="M1718.0 284.9L1710.0 278.9V290.9Z" fill="none" stroke="#00ff00" stroke-width="2"/><path d="M1728.0 286.3L1720.0 280.3V292.3Z" fill="none" stroke="#00ff00" stroke-width="2"/><path d="M1737.9 281.3L1729.9 275.3V287.3Z" fill="none" stroke="#00ff00" stroke-width="2"/><path d="M1747.9 275.7L1739.9 269.7V281.7Z" fill="none" stroke="#00ff00" stroke-width="2"/><path d="M1757.8 264.4L1749.8 258.4V270.4Z" fill="none" stroke="#00ff00" stroke-width="2"/><path d="M1767.8 260.2L1759.8 254.2V266.2Z" fill="none" stroke="#00ff00" stroke-width="2"/><path d="M1777.7 266.2L1769.7 260.2V272.2Z" fill="none" stroke="#00ff00" stroke-width="2"/><path d="M1787.7 259.9L1779.7 253.9V265.9Z" fill="none" stroke="#00ff00" stroke-width="2"/><path d="M1797.6 254.9L1789.6 248.9V260.9Z" fill="none" stroke="#00ff00" stroke-width="2"/><path d="M1807.6 255.1L1799.6 249.1V261.1Z" fill="none" stroke="#00ff00" stroke-width="2"/><path d="M1817.5 255.6L1809.5 249.6V261.6Z" fill="none" stroke="#00ff00" stroke-width="2"/><path d="M1827.5 258.1L1819.5 252.1V264.1Z" fill="none" stroke="#00ff00" stroke-width="2"/><path d="M1837.4 248.6L1829.4 242.6V254.6Z" fill="none" stroke="#00ff00" stroke-width="2"/><path d="M1847.4 242.3L1839.4 236.3V248.3Z" fill="none" stroke="#00ff00" stroke-width="2"/><path d="M1857.3 238.3L1849.3 232.3V244.3Z" fill="none" stroke="#00ff00" stroke-width="2"/><path d="M1867.3 226.8L1859.3 220.8V232.8Z" fill="none" stroke="#00ff00" stroke-width="2"/><path d="M1877.2 223.1L1869.2 217.1V229.1Z" fill="none" stroke="#00ff00" stroke-width="2"/><path d="M1887.1 219.0L1879.1 213.0V225.0Z" fill="none" stroke="#00ff00" stroke-width="2"/><path d="M1897.1 210.3L1889.1 204.3V216.3Z" fill="none" stroke="#00ff00" stroke-width="2"/><path d="M1907.0 210.0L1899.0 204.0V216.0Z" fill="none" stroke="#00ff00" stroke-width="2"/><path d="M1917.0 206.0L1909.0 200.0V212.0Z" fill="none" stroke="#00ff00" stroke-width="2"/><path d="M1926.9 202.1L1918.9 196.1V208.1Z" fill="none" stroke="#00ff00" stroke-width="2"/><path d="M1936.9 206.8L1928.9 200.8V212.8Z" fill="none" stroke="#00ff00" stroke-width="2"/><path d="M1946.8 209.1L1938.8 203.1V215.1Z" fill="none" stroke="#00ff00" stroke-width="2"/><path d="M1956.8 206.5L1948.8 200.5V212.5Z" fill="none" stroke="#00ff00" stroke-width="2"/><path d="M1966.7 207.7L1958.7 201.7V213.7Z" fill="none" stroke="#00ff00" stroke-width="2"/><path d="M1976.7 205.5L1968.7 199.5V211.5Z" fill="none" stroke="#00ff00" stroke-width="2"/><path d="M1986.6 207.1L1978.6 201.1V213.1Z" fill="none" stroke="#00ff00" stroke-width="2"/><path d="M1996.6 200.9L1988.6 194.9V206.9Z" fill="none" stroke="#00ff00" stroke-width="2"/><path d="M2006.5 196.1L1998.5 190.1V202.1Z" fill="none" stroke="#00ff00" stroke-width="2"/><path d="M2016.5 194.6L2008.5 188.6V200.6Z" fill="none" stroke="#00ff00" stroke-width="2"/><path d="M2026.4 207.7L2018.4 201.7V213.7Z" fill="none" stroke="#00ff00" stroke-width="2"/><path d="M2036.4 215.1L2028.4 209.1V221.1Z" fill="none" stroke="#00ff00" stroke-width="2"/><path d="M2046.3 215.9L2038.3 209.9V221.9Z" fill="none" stroke="#00ff00" stroke-width="2"/><path d="M2056.3 222.9L2048.3 216.9V228.9Z" fill="none" stroke="#00ff00" stroke-width="2"/><path d="M2066.2 212.6L2058.2 206.6V218.6Z" fill="none" stroke="#00ff00" stroke-width="2"/><path d="M2076.2 233.2L2068.2 227.2V239.2Z" fill="none" stroke="#00ff00" stroke-width="2"/><path d="M2086.1 231.4L2078.1 225.4V237.4Z" fill="none" stroke="#00ff00" stroke-width="2"/><path d="M2096.0 222.5L2088.0 216.5V228.5Z" fill="none" stroke="#00ff00" stroke-width="2"/><path d="M2106.0 216.2L2098.0 210.2V222.2Z" fill="none" stroke="#00ff00" stroke-width="2"/><path d="M2115.9 217.2L2107.9 211.2V223.2Z" fill="none" stroke="#00ff00" stroke-width="2"/><path d="M2125.9 240.6L2117.9 234.6V246.6Z" fill="none" stroke="#00ff00" stroke-width="2"/><path d="M2135.8 223.3L2127.8 217.3V229.3Z" fill="none" stroke="#00ff00" stroke-width="2"/><path d="M2145.8 236.3L2137.8 230.3V242.3Z" fill="none" stroke="#00ff00" stroke-width="2"/><path d="M2155.7 234.3L2147.7 228.3V240.3Z" fill="none" stroke="#00ff00" stroke-width="2"/><path d="M2165.7 212.6L2157.7 206.6V218.6Z" fill="none" stroke="#00ff00" stroke-width="2"/><path d="M2175.6 226.0L2167.6 220.0V232.0Z" fill="none" stroke="#00ff00" stroke-width="2"/><path d="M2185.6 217.1L2177.6 211.1V223.1Z" fill="none" stroke="#00ff00" stroke-width="2"/><path d="M2195.5 232.6L2187.5 226.6V238.6Z" fill="none" stroke="#00ff00" stroke-width="2"/><path d="M2205.5 242.5L2197.5 236.5V248.5Z" fill="none" stroke="#00ff00" stroke-width="2"/><path d="M2215.4 210.0L2207.4 204.0V216.0Z" fill="none" stroke="#00ff00" stroke-width="2"/><path d="M2225.4 218.7L2217.4 212.7V224.7Z" fill="none" stroke="#00ff00" stroke-width="2"/><path d="M2235.3 226.2L2227.3 220.2V232.2Z" fill="none" stroke="#00ff00" stroke-width="2"/><path d="M2245.3 226.3L2237.3 220.3V232.3Z" fill="none" stroke="#00ff00" stroke-width="2"/><path d="M2255.2 217.2L2247.2 211.2V223.2Z" fill="none" stroke="#00ff00" stroke-width="2"/><path d="M2265.2 213.0L2257.2 207.0V219.0Z" fill="none" stroke="#00ff00" stroke-width="2"/><path d="M2275.1 204.3L2267.1 198.3V210.3Z" fill="none" stroke="#00ff00" stroke-width="2"/><path d="M2285.1 212.3L2277.1 206.3V218.3Z" fill="none" stroke="#00ff00" stroke-width="2"/><path d="M2295.0 222.9L2287.0 216.9V228.9Z" fill="none" stroke="#00ff00" stroke-width="2"/><path d="M2305.0 218.0L2297.0 212.0V224.0Z" fill="none" stroke="#00ff00" stroke-width="2"/><path d="M2314.9 216.6L2306.9 210.6V222.6Z" fill="none" stroke="#00ff00" stroke-width="2"/>
<path d="M1415.0 473.4L1424.9 471.8L1434.9 460.3L1444.8 459.4L1454.8 452.8L1464.7 441.3L1474.7 444.6L1484.6 427.3L1494.6 426.5L1504.5 422.4L1514.5 419.1L1524.4 410.9L1534.4 396.9L1544.3 397.7L1554.3 396.9L1564.2 379.6L1574.2 374.7L1584.1 380.4L1594.1 374.7L1604.0 365.6L1614.0 354.1L1623.9 363.2L1633.9 350.0L1643.8 328.9L1653.7 335.4L1663.7 310.8L1673.6 317.3L1683.6 310.8L1693.5 292.7L1703.5 293.3L1713.4 291.6L1723.4 288.4L1733.3 286.7L1743.3 281.8L1753.2 273.5L1763.2 267.0L1773.1 280.1L1783.1 265.3L1793.0 262.0L1803.0 258.7L1812.9 262.0L1822.9 270.3L1832.8 257.1L1842.8 252.2L1852.7 257.1L1862.7 237.3L1872.6 229.1L1882.5 227.5L1892.5 225.8L1902.4 222.5L1912.4 214.3L1922.3 211.0L1932.3 219.2L1942.2 222.5L1952.2 207.7L1962.1 219.2L1972.1 209.4L1982.0 207.7L1992.0 201.1L2001.9 202.8L2011.9 189.4L2021.8 200.9L2031.8 207.5L2041.7 209.1L2051.7 214.0L2061.6 217.3L2071.6 223.9L2081.5 222.3L2091.4 237.1L2101.4 222.3L2111.3 220.6L2121.3 253.5L2131.2 227.2L2141.2 228.9L2151.1 227.2L2161.1 219.0L2171.0 240.4L2181.0 227.2L2190.9 228.9L2200.9 235.4L2210.8 220.6L2220.8 223.9L2230.7 235.4L2240.7 227.2L2250.6 215.7L2260.6 233.8L2270.5 209.1L2280.5 202.5L2290.4 222.3L2300.4 207.5L2310.3 204.2" fill="none" stroke="#9000ff" stroke-width="4"/>
<polygon points="1415.0,464.4 1417.6,469.8 1423.6,470.6 1419.3,474.8 1420.3,480.7 1415.0,477.9 1409.7,480.7 1410.7,474.8 1406.4,470.6 1412.4,469.8" fill="#9000ff" stroke="#9000ff" stroke-width="1"/><polygon points="1424.9,462.8 1427.5,468.2 1433.5,469.0 1429.2,473.2 1430.2,479.1 1424.9,476.3 1419.6,479.1 1420.6,473.2 1416.3,469.0 1422.3,468.2" fill="#9000ff" stroke="#9000ff" stroke-width="1"/><polygon points="1434.9,451.3 1437.5,456.7 1443.5,457.5 1439.2,461.7 1440.2,467.6 1434.9,464.8 1429.6,467.6 1430.6,461.7 1426.3,457.5 1432.3,456.7" fill="#9000ff" stroke="#9000ff" stroke-width="1"/><polygon points="1444.8,450.4 1447.4,455.8 1453.4,456.6 1449.1,460.8 1450.1,466.7 1444.8,463.9 1439.5,466.7 1440.5,460.8 1436.2,456.6 1442.2,455.8" fill="#9000ff" stroke="#9000ff" stroke-width="1"/><polygon points="1454.8,443.8 1457.4,449.2 1463.4,450.0 1459.1,454.2 1460.1,460.1 1454.8,457.3 1449.5,460.1 1450.5,454.2 1446.2,450.0 1452.2,449.2" fill="#9000ff" stroke="#9000ff" stroke-width="1"/><polygon points="1464.7,432.3 1467.3,437.7 1473.3,438.5 1469.0,442.7 1470.0,448.6 1464.7,445.8 1459.4,448.6 1460.4,442.7 1456.1,438.5 1462.1,437.7" fill="#9000ff" stroke="#9000ff" stroke-width="1"/><polygon points="1474.7,435.6 1477.3,441.0 1483.3,441.8 1479.0,446.0 1480.0,451.9 1474.7,449.1 1469.4,451.9 1470.4,446.0 1466.1,441.8 1472.1,441.0" fill="#9000ff" stroke="#9000ff" stroke-width="1"/><polygon points="1484.6,418.3 1487.2,423.7 1493.2,424.5 1488.9,428.7 1489.9,434.6 1484.6,431.8 1479.3,434.6 1480.3,428.7 1476.0,424.5 1482.0,423.7" fill="#9000ff" stroke="#9000ff" stroke-width="1"/><polygon points="1494.6,417.5 1497.2,422.9 1503.2,423.7 1498.9,427.9 1499.9,433.8 1494.6,431.0 1489.3,433.8 1490.3,427.9 1486.0,423.7 1492.0,422.9" fill="#9000ff" stroke="#9000ff" stroke-width="1"/><polygon points="1504.5,413.4 1507.1,418.8 1513.1,419.6 1508.8,423.8 1509.8,429.7 1504.5,426.9 1499.2,429.7 1500.2,423.8 1495.9,419.6 1501.9,418.8" fill="#9000ff" stroke="#9000ff" stroke-width="1"/><polygon points="1514.5,410.1 1517.1,415.5 1523.1,416.3 1518.8,420.5 1519.8,426.4 1514.5,423.6 1509.2,426.4 1510.2,420.5 1505.9,416.3 1511.9,415.5" fill="#9000ff" stroke="#9000ff" stroke-width="1"/><polygon points="1524.4,401.9 1527.0,407.3 1533.0,408.1 1528.7,412.3 1529.7,418.2 1524.4,415.4 1519.1,418.2 1520.1,412.3 1515.8,408.1 1521.8,407.3" fill="#9000ff" stroke="#9000ff" stroke-width="1"/><polygon points="1534.4,387.9 1537.0,393.3 1543.0,394.1 1538.7,398.3 1539.7,404.2 1534.4,401.4 1529.1,404.2 1530.1,398.3 1525.8,394.1 1531.8,393.3" fill="#9000ff" stroke="#9000ff" stroke-width="1"/><polygon points="1544.3,388.7 1546.9,394.1 1552.9,394.9 1548.6,399.1 1549.6,405.0 1544.3,402.2 1539.0,405.0 1540.0,399.1 1535.7,394.9 1541.7,394.1" fill="#9000ff" stroke="#9000ff" stroke-width="1"/><polygon points="1554.3,387.9 1556.9,393.3 1562.9,394.1 1558.6,398.3 1559.6,404.2 1554.3,401.4 1549.0,404.2 1550.0,398.3 1545.7,394.1 1551.7,393.3" fill="#9000ff" stroke="#9000ff" stroke-width="1"/><polygon points="1564.2,370.6 1566.8,376.0 1572.8,376.8 1568.5,381.0 1569.5,386.9 1564.2,384.1 1558.9,386.9 1559.9,381.0 1555.6,376.8 1561.6,376.0" fill="#9000ff" stroke="#9000ff" stroke-width="1"/><polygon points="1574.2,365.7 1576.8,371.1 1582.8,371.9 1578.5,376.1 1579.5,382.0 1574.2,379.2 1568.9,382.0 1569.9,376.1 1565.6,371.9 1571.6,371.1" fill="#9000ff" stroke="#9000ff" stroke-width="1"/><polygon points="1584.1,371.4 1586.7,376.8 1592.7,377.6 1588.4,381.8 1589.4,387.7 1584.1,384.9 1578.8,387.7 1579.8,381.8 1575.5,377.6 1581.5,376.8" fill="#9000ff" stroke="#9000ff" stroke-width="1"/><polygon points="1594.1,365.7 1596.7,371.1 1602.7,371.9 1598.4,376.1 1599.4,382.0 1594.1,379.2 1588.8,382.0 1589.8,376.1 1585.5,371.9 1591.5,371.1" fill="#9000ff" stroke="#9000ff" stroke-width="1"/><polygon points="1604.0,356.6 1606.6,362.0 1612.6,362.8 1608.3,367.0 1609.3,372.9 1604.0,370.1 1598.7,372.9 1599.7,367.0 1595.4,362.8 1601.4,362.0" fill="#9000ff" stroke="#9000ff" stroke-width="1"/><polygon points="1614.0,345.1 1616.6,350.5 1622.6,351.3 1618.3,355.5 1619.3,361.4 1614.0,358.6 1608.7,361.4 1609.7,355.5 1605.4,351.3 1611.4,350.5" fill="#9000ff" stroke="#9000ff" stroke-width="1"/><polygon points="1623.9,354.2 1626.5,359.6 1632.5,360.4 1628.2,364.6 1629.2,370.5 1623.9,367.7 1618.6,370.5 1619.6,364.6 1615.3,360.4 1621.3,359.6" fill="#9000ff" stroke="#9000ff" stroke-width="1"/><polygon points="1633.9,341.0 1636.5,346.4 1642.5,347.2 1638.2,351.4 1639.2,357.3 1633.9,354.5 1628.6,357.3 1629.6,351.4 1625.3,347.2 1631.3,346.4" fill="#9000ff" stroke="#9000ff" stroke-width="1"/><polygon points="1643.8,319.9 1646.4,325.3 1652.4,326.1 1648.1,330.3 1649.1,336.2 1643.8,333.4 1638.5,336.2 1639.5,330.3 1635.2,326.1 1641.2,325.3" fill="#9000ff" stroke="#9000ff" stroke-width="1"/><polygon points="1653.7,326.4 1656.3,331.8 1662.3,332.6 1658.0,336.8 1659.0,342.7 1653.7,339.9 1648.4,342.7 1649.4,336.8 1645.1,332.6 1651.1,331.8" fill="#9000ff" stroke="#9000ff" stroke-width="1"/><polygon points="1663.7,301.8 1666.3,307.2 1672.3,308.0 1668.0,312.2 1669.0,318.1 1663.7,315.3 1658.4,318.1 1659.4,312.2 1655.1,308.0 1661.1,307.2" fill="#9000ff" stroke="#9000ff" stroke-width="1"/><polygon points="1673.6,308.3 1676.2,313.7 1682.2,314.5 1677.9,318.7 1678.9,324.6 1673.6,321.8 1668.3,324.6 1669.3,318.7 1665.0,314.5 1671.0,313.7" fill="#9000ff" stroke="#9000ff" stroke-width="1"/><polygon points="1683.6,301.8 1686.2,307.2 1692.2,308.0 1687.9,312.2 1688.9,318.1 1683.6,315.3 1678.3,318.1 1679.3,312.2 1675.0,308.0 1681.0,307.2" fill="#9000ff" stroke="#9000ff" stroke-width="1"/><polygon points="1693.5,283.7 1696.1,289.1 1702.1,289.9 1697.8,294.1 1698.8,300.0 1693.5,297.2 1688.2,300.0 1689.2,294.1 1684.9,289.9 1690.9,289.1" fill="#9000ff" stroke="#9000ff" stroke-width="1"/><polygon points="1703.5,284.3 1706.1,289.7 1712.1,290.5 1707.8,294.7 1708.8,300.6 1703.5,297.8 1698.2,300.6 1699.2,294.7 1694.9,290.5 1700.9,289.7" fill="#9000ff" stroke="#9000ff" stroke-width="1"/><polygon points="1713.4,282.6 1716.0,288.0 1722.0,288.8 1717.7,293.0 1718.7,298.9 1713.4,296.1 1708.1,298.9 1709.1,293.0 1704.8,288.8 1710.8,288.0" fill="#9000ff" stroke="#9000ff" stroke-width="1"/><polygon points="1723.4,279.4 1726.0,284.8 1732.0,285.6 1727.7,289.8 1728.7,295.7 1723.4,292.9 1718.1,295.7 1719.1,289.8 1714.8,285.6 1720.8,284.8" fill="#9000ff" stroke="#9000ff" stroke-width="1"/><polygon points="1733.3,277.7 1735.9,283.1 1741.9,283.9 1737.6,288.1 1738.6,294.0 1733.3,291.2 1728.0,294.0 1729.0,288.1 1724.7,283.9 1730.7,283.1" fill="#9000ff" stroke="#9000ff" stroke-width="1"/><polygon points="1743.3,272.8 1745.9,278.2 1751.9,279.0 1747.6,283.2 1748.6,289.1 1743.3,286.3 1738.0,289.1 1739.0,283.2 1734.7,279.0 1740.7,278.2" fill="#9000ff" stroke="#9000ff" stroke-width="1"/><polygon points="1753.2,264.5 1755.8,269.9 1761.8,270.7 1757.5,274.9 1758.5,280.8 1753.2,278.0 1747.9,280.8 1748.9,274.9 1744.6,270.7 1750.6,269.9" fill="#9000ff" stroke="#9000ff" stroke-width="1"/><polygon points="1763.2,258.0 1765.8,263.4 1771.8,264.2 1767.5,268.4 1768.5,274.3 1763.2,271.5 1757.9,274.3 1758.9,268.4 1754.6,264.2 1760.6,263.4" fill="#9000ff" stroke="#9000ff" stroke-width="1"/><polygon points="1773.1,271.1 1775.7,276.5 1781.7,277.3 1777.4,281.5 1778.4,287.4 1773.1,284.6 1767.8,287.4 1768.8,281.5 1764.5,277.3 1770.5,276.5" fill="#9000ff" stroke="#9000ff" stroke-width="1"/><polygon points="1783.1,256.3 1785.7,261.7 1791.7,262.5 1787.4,266.7 1788.4,272.6 1783.1,269.8 1777.8,272.6 1778.8,266.7 1774.5,262.5 1780.5,261.7" fill="#9000ff" stroke="#9000ff" stroke-width="1"/><polygon points="1793.0,253.0 1795.6,258.4 1801.6,259.2 1797.3,263.4 1798.3,269.3 1793.0,266.5 1787.7,269.3 1788.7,263.4 1784.4,259.2 1790.4,258.4" fill="#9000ff" stroke="#9000ff" stroke-width="1"/><polygon points="1803.0,249.7 1805.6,255.1 1811.6,255.9 1807.3,260.1 1808.3,266.0 1803.0,263.2 1797.7,266.0 1798.7,260.1 1794.4,255.9 1800.4,255.1" fill="#9000ff" stroke="#9000ff" stroke-width="1"/><polygon points="1812.9,253.0 1815.5,258.4 1821.5,259.2 1817.2,263.4 1818.2,269.3 1812.9,266.5 1807.6,269.3 1808.6,263.4 1804.3,259.2 1810.3,258.4" fill="#9000ff" stroke="#9000ff" stroke-width="1"/><polygon points="1822.9,261.3 1825.5,266.7 1831.5,267.5 1827.2,271.7 1828.2,277.6 1822.9,274.8 1817.6,277.6 1818.6,271.7 1814.3,267.5 1820.3,266.7" fill="#9000ff" stroke="#9000ff" stroke-width="1"/><polygon points="1832.8,248.1 1835.4,253.5 1841.4,254.3 1837.1,258.5 1838.1,264.4 1832.8,261.6 1827.5,264.4 1828.5,258.5 1824.2,254.3 1830.2,253.5" fill="#9000ff" stroke="#9000ff" stroke-width="1"/><polygon points="1842.8,243.2 1845.4,248.6 1851.4,249.4 1847.1,253.6 1848.1,259.5 1842.8,256.7 1837.5,259.5 1838.5,253.6 1834.2,249.4 1840.2,248.6" fill="#9000ff" stroke="#9000ff" stroke-width="1"/><polygon points="1852.7,248.1 1855.3,253.5 1861.3,254.3 1857.0,258.5 1858.0,264.4 1852.7,261.6 1847.4,264.4 1848.4,258.5 1844.1,254.3 1850.1,253.5" fill="#9000ff" stroke="#9000ff" stroke-width="1"/><polygon points="1862.7,228.3 1865.3,233.7 1871.3,234.5 1867.0,238.7 1868.0,244.6 1862.7,241.8 1857.4,244.6 1858.4,238.7 1854.1,234.5 1860.1,233.7" fill="#9000ff" stroke="#9000ff" stroke-width="1"/><polygon points="1872.6,220.1 1875.2,225.5 1881.2,226.3 1876.9,230.5 1877.9,236.4 1872.6,233.6 1867.3,236.4 1868.3,230.5 1864.0,226.3 1870.0,225.5" fill="#9000ff" stroke="#9000ff" stroke-width="1"/><polygon points="1882.5,218.5 1885.1,223.9 1891.1,224.7 1886.8,228.9 1887.8,234.8 1882.5,232.0 1877.2,234.8 1878.2,228.9 1873.9,224.7 1879.9,223.9" fill="#9000ff" stroke="#9000ff" stroke-width="1"/><polygon points="1892.5,216.8 1895.1,222.2 1901.1,223.0 1896.8,227.2 1897.8,233.1 1892.5,230.3 1887.2,233.1 1888.2,227.2 1883.9,223.0 1889.9,222.2" fill="#9000ff" stroke="#9000ff" stroke-width="1"/><polygon points="1902.4,213.5 1905.0,218.9 1911.0,219.7 1906.7,223.9 1907.7,229.8 1902.4,227.0 1897.1,229.8 1898.1,223.9 1893.8,219.7 1899.8,218.9" fill="#9000ff" stroke="#9000ff" stroke-width="1"/><polygon points="1912.4,205.3 1915.0,210.7 1921.0,211.5 1916.7,215.7 1917.7,221.6 1912.4,218.8 1907.1,221.6 1908.1,215.7 1903.8,211.5 1909.8,210.7" fill="#9000ff" stroke="#9000ff" stroke-width="1"/><polygon points="1922.3,202.0 1924.9,207.4 1930.9,208.2 1926.6,212.4 1927.6,218.3 1922.3,215.5 1917.0,218.3 1918.0,212.4 1913.7,208.2 1919.7,207.4" fill="#9000ff" stroke="#9000ff" stroke-width="1"/><polygon points="1932.3,210.2 1934.9,215.6 1940.9,216.4 1936.6,220.6 1937.6,226.5 1932.3,223.7 1927.0,226.5 1928.0,220.6 1923.7,216.4 1929.7,215.6" fill="#9000ff" stroke="#9000ff" stroke-width="1"/><polygon points="1942.2,213.5 1944.8,218.9 1950.8,219.7 1946.5,223.9 1947.5,229.8 1942.2,227.0 1936.9,229.8 1937.9,223.9 1933.6,219.7 1939.6,218.9" fill="#9000ff" stroke="#9000ff" stroke-width="1"/><polygon points="1952.2,198.7 1954.8,204.1 1960.8,204.9 1956.5,209.1 1957.5,215.0 1952.2,212.2 1946.9,215.0 1947.9,209.1 1943.6,204.9 1949.6,204.1" fill="#9000ff" stroke="#9000ff" stroke-width="1"/><polygon points="1962.1,210.2 1964.7,215.6 1970.7,216.4 1966.4,220.6 1967.4,226.5 1962.1,223.7 1956.8,226.5 1957.8,220.6 1953.5,216.4 1959.5,215.6" fill="#9000ff" stroke="#9000ff" stroke-width="1"/><polygon points="1972.1,200.4 1974.7,205.8 1980.7,206.6 1976.4,210.8 1977.4,216.7 1972.1,213.9 1966.8,216.7 1967.8,210.8 1963.5,206.6 1969.5,205.8" fill="#9000ff" stroke="#9000ff" stroke-width="1"/><polygon points="1982.0,198.7 1984.6,204.1 1990.6,204.9 1986.3,209.1 1987.3,215.0 1982.0,212.2 1976.7,215.0 1977.7,209.1 1973.4,204.9 1979.4,204.1" fill="#9000ff" stroke="#9000ff" stroke-width="1"/><polygon points="1992.0,192.1 1994.6,197.5 2000.6,198.3 1996.3,202.5 1997.3,208.4 1992.0,205.6 1986.7,208.4 1987.7,202.5 1983.4,198.3 1989.4,197.5" fill="#9000ff" stroke="#9000ff" stroke-width="1"/><polygon points="2001.9,193.8 2004.5,199.2 2010.5,200.0 2006.2,204.2 2007.2,210.1 2001.9,207.3 1996.6,210.1 1997.6,204.2 1993.3,200.0 1999.3,199.2" fill="#9000ff" stroke="#9000ff" stroke-width="1"/><polygon points="2011.9,180.4 2014.5,185.8 2020.5,186.6 2016.2,190.8 2017.2,196.7 2011.9,193.9 2006.6,196.7 2007.6,190.8 2003.3,186.6 2009.3,185.8" fill="#9000ff" stroke="#9000ff" stroke-width="1"/><polygon points="2021.8,191.9 2024.4,197.3 2030.4,198.1 2026.1,202.3 2027.1,208.2 2021.8,205.4 2016.5,208.2 2017.5,202.3 2013.2,198.1 2019.2,197.3" fill="#9000ff" stroke="#9000ff" stroke-width="1"/><polygon points="2031.8,198.5 2034.4,203.9 2040.4,204.7 2036.1,208.9 2037.1,214.8 2031.8,212.0 2026.5,214.8 2027.5,208.9 2023.2,204.7 2029.2,203.9" fill="#9000ff" stroke="#9000ff" stroke-width="1"/><polygon points="2041.7,200.1 2044.3,205.5 2050.3,206.3 2046.0,210.5 2047.0,216.4 2041.7,213.6 2036.4,216.4 2037.4,210.5 2033.1,206.3 2039.1,205.5" fill="#9000ff" stroke="#9000ff" stroke-width="1"/><polygon points="2051.7,205.0 2054.3,210.4 2060.3,211.2 2056.0,215.4 2057.0,221.3 2051.7,218.5 2046.4,221.3 2047.4,215.4 2043.1,211.2 2049.1,210.4" fill="#9000ff" stroke="#9000ff" stroke-width="1"/><polygon points="2061.6,208.3 2064.2,213.7 2070.2,214.5 2065.9,218.7 2066.9,224.6 2061.6,221.8 2056.3,224.6 2057.3,218.7 2053.0,214.5 2059.0,213.7" fill="#9000ff" stroke="#9000ff" stroke-width="1"/><polygon points="2071.6,214.9 2074.2,220.3 2080.2,221.1 2075.9,225.3 2076.9,231.2 2071.6,228.4 2066.3,231.2 2067.3,225.3 2063.0,221.1 2069.0,220.3" fill="#9000ff" stroke="#9000ff" stroke-width="1"/><polygon points="2081.5,213.3 2084.1,218.7 2090.1,219.5 2085.8,223.7 2086.8,229.6 2081.5,226.8 2076.2,229.6 2077.2,223.7 2072.9,219.5 2078.9,218.7" fill="#9000ff" stroke="#9000ff" stroke-width="1"/><polygon points="2091.4,228.1 2094.0,233.5 2100.0,234.3 2095.7,238.5 2096.7,244.4 2091.4,241.6 2086.1,244.4 2087.1,238.5 2082.8,234.3 2088.8,233.5" fill="#9000ff" stroke="#9000ff" stroke-width="1"/><polygon points="2101.4,213.3 2104.0,218.7 2110.0,219.5 2105.7,223.7 2106.7,229.6 2101.4,226.8 2096.1,229.6 2097.1,223.7 2092.8,219.5 2098.8,218.7" fill="#9000ff" stroke="#9000ff" stroke-width="1"/><polygon points="2111.3,211.6 2113.9,217.0 2119.9,217.8 2115.6,222.0 2116.6,227.9 2111.3,225.1 2106.0,227.9 2107.0,222.0 2102.7,217.8 2108.7,217.0" fill="#9000ff" stroke="#9000ff" stroke-width="1"/><polygon points="2121.3,244.5 2123.9,249.9 2129.9,250.7 2125.6,254.9 2126.6,260.8 2121.3,258.0 2116.0,260.8 2117.0,254.9 2112.7,250.7 2118.7,249.9" fill="#9000ff" stroke="#9000ff" stroke-width="1"/><polygon points="2131.2,218.2 2133.8,223.6 2139.8,224.4 2135.5,228.6 2136.5,234.5 2131.2,231.7 2125.9,234.5 2126.9,228.6 2122.6,224.4 2128.6,223.6" fill="#9000ff" stroke="#9000ff" stroke-width="1"/><polygon points="2141.2,219.9 2143.8,225.3 2149.8,226.1 2145.5,230.3 2146.5,236.2 2141.2,233.4 2135.9,236.2 2136.9,230.3 2132.6,226.1 2138.6,225.3" fill="#9000ff" stroke="#9000ff" stroke-width="1"/><polygon points="2151.1,218.2 2153.7,223.6 2159.7,224.4 2155.4,228.6 2156.4,234.5 2151.1,231.7 2145.8,234.5 2146.8,228.6 2142.5,224.4 2148.5,223.6" fill="#9000ff" stroke="#9000ff" stroke-width="1"/><polygon points="2161.1,210.0 2163.7,215.4 2169.7,216.2 2165.4,220.4 2166.4,226.3 2161.1,223.5 2155.8,226.3 2156.8,220.4 2152.5,216.2 2158.5,215.4" fill="#9000ff" stroke="#9000ff" stroke-width="1"/><polygon points="2171.0,231.4 2173.6,236.8 2179.6,237.6 2175.3,241.8 2176.3,247.7 2171.0,244.9 2165.7,247.7 2166.7,241.8 2162.4,237.6 2168.4,236.8" fill="#9000ff" stroke="#9000ff" stroke-width="1"/><polygon points="2181.0,218.2 2183.6,223.6 2189.6,224.4 2185.3,228.6 2186.3,234.5 2181.0,231.7 2175.7,234.5 2176.7,228.6 2172.4,224.4 2178.4,223.6" fill="#9000ff" stroke="#9000ff" stroke-width="1"/><polygon points="2190.9,219.9 2193.5,225.3 2199.5,226.1 2195.2,230.3 2196.2,236.2 2190.9,233.4 2185.6,236.2 2186.6,230.3 2182.3,226.1 2188.3,225.3" fill="#9000ff" stroke="#9000ff" stroke-width="1"/><polygon points="2200.9,226.4 2203.5,231.8 2209.5,232.6 2205.2,236.8 2206.2,242.7 2200.9,239.9 2195.6,242.7 2196.6,236.8 2192.3,232.6 2198.3,231.8" fill="#9000ff" stroke="#9000ff" stroke-width="1"/><polygon points="2210.8,211.6 2213.4,217.0 2219.4,217.8 2215.1,222.0 2216.1,227.9 2210.8,225.1 2205.5,227.9 2206.5,222.0 2202.2,217.8 2208.2,217.0" fill="#9000ff" stroke="#9000ff" stroke-width="1"/><polygon points="2220.8,214.9 2223.4,220.3 2229.4,221.1 2225.1,225.3 2226.1,231.2 2220.8,228.4 2215.5,231.2 2216.5,225.3 2212.2,221.1 2218.2,220.3" fill="#9000ff" stroke="#9000ff" stroke-width="1"/><polygon points="2230.7,226.4 2233.3,231.8 2239.3,232.6 2235.0,236.8 2236.0,242.7 2230.7,239.9 2225.4,242.7 2226.4,236.8 2222.1,232.6 2228.1,231.8" fill="#9000ff" stroke="#9000ff" stroke-width="1"/><polygon points="2240.7,218.2 2243.3,223.6 2249.3,224.4 2245.0,228.6 2246.0,234.5 2240.7,231.7 2235.4,234.5 2236.4,228.6 2232.1,224.4 2238.1,223.6" fill="#9000ff" stroke="#9000ff" stroke-width="1"/><polygon points="2250.6,206.7 2253.2,212.1 2259.2,212.9 2254.9,217.1 2255.9,223.0 2250.6,220.2 2245.3,223.0 2246.3,217.1 2242.0,212.9 2248.0,212.1" fill="#9000ff" stroke="#9000ff" stroke-width="1"/><polygon points="2260.6,224.8 2263.2,230.2 2269.2,231.0 2264.9,235.2 2265.9,241.1 2260.6,238.3 2255.3,241.1 2256.3,235.2 2252.0,231.0 2258.0,230.2" fill="#9000ff" stroke="#9000ff" stroke-width="1"/><polygon points="2270.5,200.1 2273.1,205.5 2279.1,206.3 2274.8,210.5 2275.8,216.4 2270.5,213.6 2265.2,216.4 2266.2,210.5 2261.9,206.3 2267.9,205.5" fill="#9000ff" stroke="#9000ff" stroke-width="1"/><polygon points="2280.5,193.5 2283.1,198.9 2289.1,199.7 2284.8,203.9 2285.8,209.8 2280.5,207.0 2275.2,209.8 2276.2,203.9 2271.9,199.7 2277.9,198.9" fill="#9000ff" stroke="#9000ff" stroke-width="1"/><polygon points="2290.4,213.3 2293.0,218.7 2299.0,219.5 2294.7,223.7 2295.7,229.6 2290.4,226.8 2285.1,229.6 2286.1,223.7 2281.8,219.5 2287.8,218.7" fill="#9000ff" stroke="#9000ff" stroke-width="1"/><polygon points="2300.4,198.5 2303.0,203.9 2309.0,204.7 2304.7,208.9 2305.7,214.8 2300.4,212.0 2295.1,214.8 2296.1,208.9 2291.8,204.7 2297.8,203.9" fill="#9000ff" stroke="#9000ff" stroke-width="1"/><polygon points="2310.3,195.2 2312.9,200.6 2318.9,201.4 2314.6,205.6 2315.6,211.5 2310.3,208.7 2305.0,211.5 2306.0,205.6 2301.7,201.4 2307.7,200.6" fill="#9000ff" stroke="#9000ff" stroke-width="1"/>
</g>
<g fill="#000" shape-rendering="crispEdges"><rect x="1413" y="32" width="4" height="690"/><rect x="2309" y="32" width="3" height="690"/><rect x="1413" y="32" width="899" height="3"/><rect x="1413" y="719" width="899" height="3"/><rect x="1463" y="713" width="3" height="6"/><rect x="1513" y="708" width="3" height="11"/><rect x="1563" y="713" width="3" height="6"/><rect x="1612" y="708" width="4" height="11"/><rect x="1662" y="713" width="3" height="6"/><rect x="1712" y="708" width="3" height="11"/><rect x="1761" y="713" width="4" height="6"/><rect x="1811" y="708" width="4" height="11"/><rect x="1861" y="713" width="3" height="6"/><rect x="1911" y="708" width="3" height="11"/><rect x="1960" y="713" width="4" height="6"/><rect x="2010" y="708" width="4" height="11"/><rect x="2060" y="713" width="3" height="6"/><rect x="2110" y="708" width="3" height="11"/><rect x="2159" y="713" width="4" height="6"/><rect x="2209" y="708" width="4" height="11"/><rect x="2259" y="713" width="3" height="6"/><rect x="1417" y="650" width="5" height="3"/><rect x="1417" y="581" width="11" height="4"/><rect x="1417" y="513" width="5" height="3"/><rect x="1417" y="444" width="11" height="3"/><rect x="1417" y="375" width="5" height="4"/><rect x="1417" y="306" width="11" height="4"/><rect x="1417" y="238" width="5" height="3"/><rect x="1417" y="169" width="11" height="3"/><rect x="1417" y="100" width="5" height="4"/></g>
<g font-size="37">
<text x="1415.0" y="763.2" text-anchor="middle">50</text>
<text x="1515.7" y="763.2" text-anchor="middle">100</text>
<text x="1615.2" y="763.2" text-anchor="middle">150</text>
<text x="1713.4" y="763.2" text-anchor="middle">200</text>
<text x="1812.9" y="763.2" text-anchor="middle">250</text>
<text x="1912.4" y="763.2" text-anchor="middle">300</text>
<text x="2011.9" y="763.2" text-anchor="middle">350</text>
<text x="2111.3" y="763.2" text-anchor="middle">400</text>
<text x="2210.8" y="763.2" text-anchor="middle">450</text>
<text x="2310.3" y="763.2" text-anchor="middle">500</text>
<text x="1401.4" y="731.3" text-anchor="end">0.0</text>
<text x="1401.4" y="593.9" text-anchor="end">0.2</text>
<text x="1401.4" y="456.4" text-anchor="end">0.4</text>
<text x="1401.4" y="319.0" text-anchor="end">0.6</text>
<text x="1401.4" y="181.5" text-anchor="end">0.8</text>
<text x="1401.4" y="44.1" text-anchor="end">1.0</text>
</g>
<text x="1863.9" y="835.3" font-size="50" class="t" text-anchor="middle">Scale</text>
<text transform="translate(1326.8 457.3) rotate(-90) scale(1.017 1)" font-size="51" class="t" font-style="italic">MPPE<tspan font-size="36" dx="-4.6" dy="13.5">N</tspan></text>
<text x="1268.7" y="61.5" font-size="64" class="t">(b)</text>
<rect x="2323" y="31" width="142" height="348" fill="#fff" stroke="#000" stroke-width="2" shape-rendering="crispEdges"/>
<g font-size="33.8" stroke-linecap="round">
<line x1="2327.7" y1="55.4" x2="2405.5" y2="55.4" stroke="#0000ff" stroke-width="3"/>
<circle cx="2366.8" cy="55.4" r="4.2" fill="none" stroke="#0000ff" stroke-width="2"/>
<text x="2413.7" y="66.3">M1</text>
<line x1="2327.7" y1="98.2" x2="2405.5" y2="98.2" stroke="#000000" stroke-width="3.5"/>
<path d="M2361.3 98.2H2372.3M2366.8 92.7V103.7" stroke="#000000" stroke-width="1.7" fill="none"/>
<text x="2413.7" y="109.1">M2</text>
<line x1="2327.7" y1="141.0" x2="2405.5" y2="141.0" stroke="#000000" stroke-width="4"/>
<path d="M2360.6 141.0H2373.0M2366.8 134.8V147.2" stroke="#000000" stroke-width="1.3" fill="none"/><path d="M2361.2 135.4L2372.4 146.6M2361.2 146.6L2372.4 135.4" stroke="#000000" stroke-width="2" fill="none"/>
<text x="2413.7" y="151.9">M3</text>
<line x1="2327.7" y1="183.8" x2="2405.5" y2="183.8" stroke="#ff0000" stroke-width="4"/>
<rect x="2362.8" y="179.8" width="8.0" height="8.0" fill="none" stroke="#ff0000" stroke-width="2"/>
<text x="2413.7" y="194.7">M4</text>
<line x1="2327.7" y1="226.6" x2="2405.5" y2="226.6" stroke="#ff0000" stroke-width="4"/>
<path d="M2366.8 220.6L2372.0 230.1H2361.6Z" fill="none" stroke="#ff0000" stroke-width="2"/>
<text x="2413.7" y="237.5">M5</text>
<line x1="2327.7" y1="269.4" x2="2405.5" y2="269.4" stroke="#00ff00" stroke-width="2.5"/>
<path d="M2362.2 269.4L2370.2 263.4V275.4Z" fill="none" stroke="#00ff00" stroke-width="2"/>
<text x="2413.7" y="280.3">M6</text>
<line x1="2327.7" y1="312.2" x2="2405.5" y2="312.2" stroke="#00ff00" stroke-width="2.5"/>
<path d="M2371.4 312.2L2363.4 306.2V318.2Z" fill="none" stroke="#00ff00" stroke-width="2"/>
<text x="2413.7" y="323.1">M7</text>
<line x1="2327.7" y1="355.0" x2="2405.5" y2="355.0" stroke="#9000ff" stroke-width="4"/>
<polygon points="2366.8,346.0 2369.4,351.4 2375.4,352.2 2371.1,356.4 2372.1,362.3 2366.8,359.5 2361.5,362.3 2362.5,356.4 2358.2,352.2 2364.2,351.4" fill="#9000ff" stroke="#9000ff" stroke-width="1"/>
<text x="2413.7" y="365.9">M8</text>
</g>
</svg>
</body></html>
